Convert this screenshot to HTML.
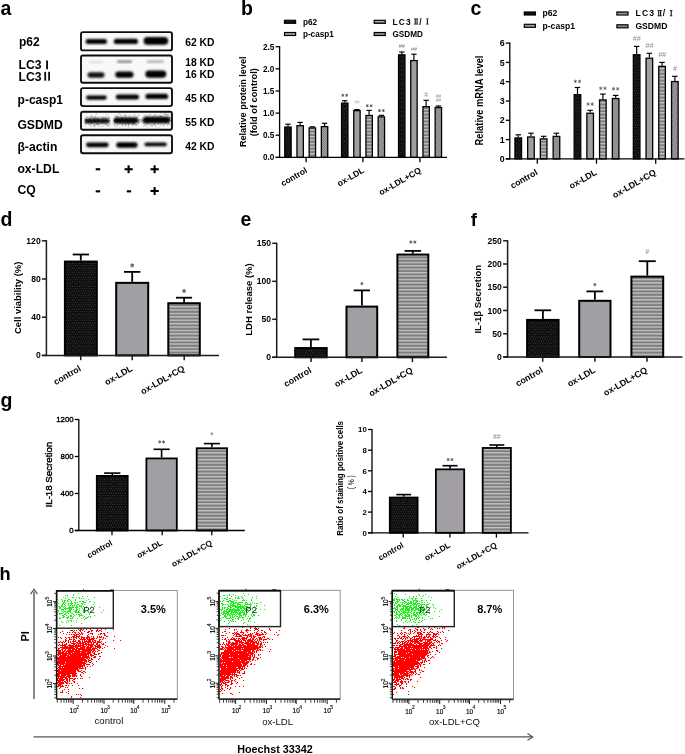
<!DOCTYPE html>
<html><head><meta charset="utf-8"><title>Figure</title>
<style>
html,body{margin:0;padding:0;background:#fff;overflow:hidden;width:685px;height:754px;}
svg{display:block;will-change:transform;}
text{font-family:"Liberation Sans",sans-serif;}
</style></head><body>
<svg width="685" height="754" viewBox="0 0 685 754" font-family="Liberation Sans, sans-serif">

<defs>
<pattern id="pdot" patternUnits="userSpaceOnUse" width="2.3" height="4.6">
  <rect width="2.3" height="4.6" fill="#0c0c0c"/>
  <rect x="0.6" y="0.6" width="0.8" height="0.8" fill="#666"/>
  <rect x="1.75" y="2.9" width="0.8" height="0.8" fill="#666"/>
</pattern>
<pattern id="pstripe" patternUnits="userSpaceOnUse" width="4" height="3.4">
  <rect width="4" height="3.4" fill="#7e7e7e"/>
  <rect y="0" width="4" height="1.3" fill="#c6c6c6"/>
</pattern>
<pattern id="pcheck" patternUnits="userSpaceOnUse" width="2.4" height="2.4">
  <rect width="2.4" height="2.4" fill="#b0b0b0"/>
  <rect width="1.2" height="1.2" fill="#707070"/>
  <rect x="1.2" y="1.2" width="1.2" height="1.2" fill="#707070"/>
</pattern>
<filter id="blur1" x="-20%" y="-50%" width="140%" height="200%"><feGaussianBlur stdDeviation="0.9"/></filter>
<filter id="blur2" x="-20%" y="-80%" width="140%" height="260%"><feGaussianBlur stdDeviation="1.4"/></filter>
<filter id="soft" x="-5%" y="-5%" width="110%" height="110%"><feGaussianBlur stdDeviation="0.35"/></filter>
<filter id="gblur" x="0" y="0" width="100%" height="100%" filterUnits="userSpaceOnUse"><feGaussianBlur stdDeviation="0.4"/></filter>
</defs>

<g filter="url(#gblur)">
<rect width="685" height="754" fill="#fff"/>
<text x="0.5" y="14.6" font-size="19.5" font-weight="bold">a</text><text x="241.0" y="15.0" font-size="19.5" font-weight="bold">b</text><text x="470.6" y="15.2" font-size="19.5" font-weight="bold">c</text><text x="0.5" y="225.6" font-size="19.5" font-weight="bold">d</text><text x="240.6" y="226.0" font-size="19.5" font-weight="bold">e</text><text x="470.8" y="226.0" font-size="18.6" font-weight="bold">f</text><text x="0.5" y="406.5" font-size="19.5" font-weight="bold">g</text><text x="-0.4" y="580.0" font-size="18.2" font-weight="bold">h</text><rect x="81.0" y="32.1" width="91.0" height="18.3" rx="2" ry="2" fill="#f8f8f8" stroke="#111" stroke-width="1.9"/><rect x="81.0" y="55.5" width="91.0" height="27.3" rx="2" ry="2" fill="#f8f8f8" stroke="#111" stroke-width="1.9"/><rect x="81.0" y="88.1" width="91.0" height="18.0" rx="2" ry="2" fill="#f8f8f8" stroke="#111" stroke-width="1.9"/><rect x="81.0" y="111.8" width="91.0" height="17.9" rx="2" ry="2" fill="#f8f8f8" stroke="#111" stroke-width="1.9"/><rect x="81.0" y="135.3" width="91.0" height="17.9" rx="2" ry="2" fill="#f8f8f8" stroke="#111" stroke-width="1.9"/><rect x="85.6" y="39.0" width="21.4" height="5.0" rx="2.5" ry="2.5" fill="#000" fill-opacity="1.0" filter="url(#blur1)"/><rect x="113.8" y="38.8" width="24.2" height="5.2" rx="2.6" ry="2.6" fill="#000" fill-opacity="1.0" filter="url(#blur1)"/><rect x="143.6" y="37.1" width="24.6" height="7.6" rx="3.8" ry="3.8" fill="#000" fill-opacity="1.0" filter="url(#blur1)"/><rect x="89.0" y="60.9" width="14.5" height="1.8" rx="0.9" ry="0.9" fill="#000" fill-opacity="0.12" filter="url(#blur1)"/><rect x="117.0" y="60.4" width="15.0" height="2.4" rx="1.2" ry="1.2" fill="#000" fill-opacity="0.5" filter="url(#blur1)"/><rect x="146.5" y="60.5" width="17.5" height="2.2" rx="1.1" ry="1.1" fill="#000" fill-opacity="0.32" filter="url(#blur1)"/><rect x="87.5" y="72.2" width="17.0" height="5.6" rx="2.8" ry="2.8" fill="#000" fill-opacity="0.92" filter="url(#blur1)"/><rect x="115.3" y="71.4" width="18.2" height="6.4" rx="3.2" ry="3.2" fill="#000" fill-opacity="1.0" filter="url(#blur1)"/><rect x="145.3" y="70.5" width="21.0" height="7.2" rx="3.6" ry="3.6" fill="#000" fill-opacity="1.0" filter="url(#blur1)"/><rect x="86.0" y="95.5" width="20.8" height="4.2" rx="2.1" ry="2.1" fill="#000" fill-opacity="1.0" filter="url(#blur1)"/><rect x="115.8" y="94.6" width="23.2" height="5.0" rx="2.5" ry="2.5" fill="#000" fill-opacity="1.0" filter="url(#blur1)"/><rect x="145.4" y="93.7" width="22.8" height="5.4" rx="2.7" ry="2.7" fill="#000" fill-opacity="1.0" filter="url(#blur1)"/><path d="M104.9 123.7h1M104.9 123.6h1M97.5 124.7h1M91.7 123.3h1M85.9 120.1h1M94.2 120.8h1M94.8 122.4h1M85.6 120.1h1M85.7 122.5h1M109.8 124.2h1M101.0 118.7h1M90.4 116.0h1M95.5 124.4h1M109.1 121.0h1M107.2 123.0h1M105.9 117.3h1M94.4 125.9h1M97.0 123.1h1M101.6 120.6h1M86.0 120.0h1M98.6 121.3h1M91.4 120.5h1M106.8 120.2h1M86.1 117.9h1M101.7 124.6h1M106.5 120.9h1M90.3 121.2h1M107.2 121.3h1M106.6 114.4h1M85.0 122.5h1M102.4 120.1h1M84.5 120.2h1M97.2 121.2h1M95.5 118.3h1M89.6 123.4h1M92.7 119.0h1M104.9 118.5h1M92.5 118.6h1M88.3 121.4h1M102.2 123.1h1M95.8 119.3h1M104.7 116.8h1M90.5 124.0h1M92.6 118.0h1M104.7 124.4h1M97.3 120.8h1M97.3 119.0h1M90.5 119.2h1M84.9 122.3h1M108.1 123.5h1M86.7 120.4h1M105.9 123.7h1M93.8 126.9h1M108.6 120.4h1M94.6 117.8h1M108.2 118.0h1M98.6 117.1h1M90.6 119.2h1M103.3 119.0h1M101.6 117.3h1M101.8 122.5h1M96.2 113.7h1M90.1 117.3h1M100.7 126.7h1M87.2 123.9h1M102.0 122.5h1M100.6 122.3h1M94.0 126.0h1M104.7 122.5h1M89.4 121.2h1M94.4 117.5h1M104.7 120.8h1M94.1 118.9h1M102.5 119.0h1M100.0 119.0h1M108.3 120.9h1M109.6 120.1h1M102.8 123.4h1M105.0 117.3h1M88.4 120.5h1M102.5 126.2h1M105.9 121.1h1M94.7 124.4h1M98.5 124.2h1M96.6 124.7h1M108.8 123.1h1M92.5 117.1h1M94.7 120.2h1M84.5 119.9h1M95.1 116.6h1M100.5 119.7h1M108.2 117.5h1M107.9 116.3h1M92.8 121.6h1M109.5 120.9h1M89.2 119.1h1M105.3 118.3h1M88.5 119.5h1M94.7 119.9h1M86.4 119.9h1M106.2 120.9h1M105.5 119.8h1M88.0 122.1h1M97.8 122.5h1M91.0 122.0h1M96.9 119.1h1M98.5 119.3h1M87.2 122.2h1M106.4 120.4h1M91.6 120.9h1M95.8 114.0h1M85.9 113.4h1M84.6 121.9h1M89.4 121.9h1M93.1 124.9h1M108.0 123.0h1M107.0 121.6h1M96.7 121.0h1M96.0 117.0h1M101.4 123.5h1M106.2 119.3h1M93.0 122.4h1M104.6 121.6h1M94.6 121.8h1M99.5 123.5h1M103.2 119.6h1M97.2 119.9h1M102.0 118.6h1M102.1 119.9h1M84.6 125.7h1M85.5 120.0h1M88.3 124.3h1M89.9 123.3h1M89.6 123.1h1M85.7 123.3h1M90.0 118.1h1M99.7 122.1h1M106.9 125.5h1M93.3 119.0h1M93.8 120.9h1M95.0 119.1h1M101.7 121.9h1M104.4 118.0h1M108.3 125.5h1M94.0 119.9h1M102.4 116.7h1M93.1 126.0h1M105.3 123.7h1M90.3 122.5h1M106.5 122.5h1M97.3 120.0h1M102.9 120.4h1M98.0 123.0h1M92.5 123.6h1M97.0 123.6h1M85.8 121.6h1M85.6 119.7h1M97.9 120.5h1M96.6 124.1h1M105.6 125.0h1M85.0 120.0h1M98.6 119.7h1M96.9 124.5h1M99.6 123.0h1M103.0 123.0h1M97.8 117.3h1M98.7 119.9h1M96.9 119.6h1M100.1 121.6h1M90.8 116.3h1M98.5 124.6h1M101.5 121.8h1M89.3 122.2h1M109.6 117.7h1M103.4 120.9h1M108.7 124.8h1M91.9 116.6h1M95.7 121.9h1M91.1 123.0h1M85.7 119.1h1M84.9 123.3h1M90.7 120.1h1M106.3 124.5h1M88.6 122.5h1M101.9 121.6h1M90.8 126.7h1M86.2 123.3h1M89.4 124.7h1M101.7 117.7h1M97.2 119.2h1M98.4 123.4h1M96.0 123.5h1M91.4 120.8h1M96.9 123.2h1M107.8 118.0h1M89.6 121.6h1M103.0 117.8h1M90.9 122.0h1M89.4 119.6h1M92.7 119.2h1M86.8 121.2h1M108.2 126.1h1M93.7 118.2h1M88.9 119.3h1M84.5 124.0h1M86.0 119.8h1M89.9 126.0h1M95.1 121.6h1M99.7 121.3h1M109.3 122.0h1M107.0 125.9h1M90.6 122.8h1M100.0 122.5h1M107.8 121.7h1M87.1 116.6h1M106.1 118.5h1M94.5 125.2h1M104.3 123.3h1M92.7 122.4h1M100.3 122.8h1M97.3 119.5h1M87.1 122.0h1M103.7 118.5h1M105.3 122.1h1M96.7 119.0h1M94.3 120.4h1M108.5 122.3h1M94.0 120.1h1M106.8 122.8h1M95.1 122.3h1M93.9 122.0h1M93.6 124.7h1M86.0 116.9h1M91.5 116.5h1M90.3 122.7h1M86.1 123.6h1M98.2 126.7h1M95.7 123.1h1M85.1 123.3h1M88.4 118.5h1M107.7 123.1h1M87.9 122.9h1M93.9 118.0h1M108.6 118.5h1M87.4 120.7h1M94.9 121.8h1M104.8 112.7h1M85.0 121.2h1M86.2 121.6h1M108.0 120.5h1M101.8 121.8h1M91.1 122.3h1M96.7 118.2h1M90.8 122.2h1M107.1 120.3h1M108.5 118.3h1M86.3 121.6h1M97.8 125.2h1M89.2 116.9h1M94.7 116.4h1" stroke="#000" stroke-opacity="0.22" stroke-width="1" fill="none"/><path d="M122.5 117.1h1M116.1 112.5h1M135.7 117.8h1M117.3 116.4h1M131.7 119.1h1M124.1 117.3h1M125.9 118.3h1M130.4 122.1h1M113.9 121.1h1M125.7 120.8h1M125.0 125.8h1M124.2 119.5h1M113.5 119.7h1M113.8 124.6h1M125.7 117.6h1M124.9 116.0h1M121.9 124.7h1M116.4 121.9h1M122.6 122.7h1M130.3 122.8h1M134.0 123.6h1M132.6 119.5h1M113.5 120.7h1M122.0 117.6h1M125.7 121.3h1M133.9 121.6h1M127.6 119.6h1M133.5 122.9h1M115.3 117.5h1M138.0 123.4h1M127.4 123.7h1M128.6 124.1h1M120.0 118.6h1M136.1 124.5h1M138.5 122.9h1M122.1 120.6h1M125.7 120.0h1M115.1 121.7h1M132.6 123.8h1M129.6 123.6h1M119.3 127.8h1M134.2 120.0h1M127.2 122.9h1M136.7 119.8h1M134.0 123.4h1M116.0 121.4h1M119.4 119.3h1M134.7 117.1h1M114.3 118.8h1M116.8 121.8h1M136.5 125.4h1M133.8 123.4h1M119.9 117.5h1M122.0 119.6h1M114.5 121.1h1M116.7 120.6h1M113.8 121.2h1M128.2 123.2h1M128.8 121.5h1M117.1 118.8h1M134.3 115.1h1M125.7 119.8h1M128.5 115.8h1M130.1 120.3h1M118.6 121.7h1M133.6 116.7h1M123.8 120.3h1M126.0 119.6h1M116.7 126.3h1M119.9 121.9h1M124.9 115.0h1M131.6 121.8h1M124.9 121.7h1M127.5 119.9h1M132.4 119.4h1M123.6 122.2h1M113.9 122.4h1M127.5 121.7h1M137.1 117.5h1M114.4 119.7h1M125.1 115.8h1M129.9 115.9h1M125.7 118.7h1M116.1 117.2h1M126.3 119.1h1M115.5 127.7h1M115.3 121.8h1M122.0 117.7h1M117.9 113.9h1M126.1 117.8h1M137.1 116.0h1M118.9 113.7h1M138.2 122.4h1M122.2 118.8h1M134.4 121.5h1M126.6 129.4h1M133.0 121.0h1M135.1 120.6h1M134.5 121.3h1M117.2 119.4h1M135.8 117.8h1M116.5 119.6h1M131.9 123.6h1M114.6 119.4h1M121.0 116.2h1M116.8 116.5h1M129.0 117.2h1M121.4 120.3h1M127.7 121.7h1M119.0 121.7h1M123.5 123.8h1M136.0 119.7h1M128.4 122.8h1M125.7 121.3h1M131.6 122.5h1M138.3 114.9h1M121.8 124.1h1M116.2 115.8h1M119.5 117.1h1M117.4 122.8h1M123.6 119.3h1M132.1 125.7h1M132.7 121.0h1M116.2 117.5h1M117.6 121.0h1M122.5 119.3h1M134.6 125.1h1M125.6 125.4h1M127.0 122.7h1M120.8 119.3h1M127.2 120.8h1M128.6 123.7h1M121.9 118.2h1M128.5 118.2h1M132.4 123.1h1M122.4 122.8h1M124.9 119.9h1M116.8 119.8h1M120.0 114.8h1M114.5 124.1h1M114.9 120.2h1M115.6 116.3h1M135.9 117.2h1M131.8 117.9h1M128.1 125.6h1M133.5 122.6h1M117.9 116.6h1M122.3 126.1h1M128.0 124.6h1M134.9 117.4h1M127.0 112.7h1M116.6 123.5h1M114.6 118.8h1M114.4 120.2h1M132.4 119.0h1M135.9 124.3h1M117.1 125.0h1M133.7 123.0h1M114.5 120.2h1M134.4 121.4h1M131.1 122.4h1M125.3 115.9h1M125.4 124.3h1M119.0 119.7h1M136.8 121.4h1M120.3 121.0h1M120.1 123.3h1M132.8 123.8h1M127.9 127.2h1M126.4 119.6h1M127.8 117.9h1M116.3 121.0h1M116.2 118.7h1M138.0 123.2h1M131.1 118.3h1M128.9 121.0h1M127.5 123.4h1M119.4 123.7h1M117.4 121.3h1M128.1 124.9h1M113.8 124.5h1M114.2 115.6h1M122.1 121.7h1M128.1 121.2h1M136.7 119.8h1M124.8 118.8h1M121.1 120.8h1M137.4 121.8h1M120.9 121.5h1M125.5 124.8h1M125.4 123.7h1M114.6 119.0h1M116.1 118.5h1M113.7 123.2h1M133.4 118.6h1M123.0 121.2h1M130.5 122.1h1M124.7 123.8h1M125.9 122.2h1M135.1 125.0h1M123.4 119.4h1M116.0 122.7h1M130.2 118.8h1M114.2 121.3h1M126.4 121.1h1M122.7 118.0h1M124.2 113.0h1M131.7 123.6h1M134.5 121.8h1M137.6 121.1h1M133.0 118.6h1M134.0 119.7h1M136.9 122.1h1M123.1 120.8h1M122.1 124.2h1M114.2 121.1h1M124.8 118.3h1M114.9 122.5h1M118.9 118.8h1M123.8 121.4h1M123.8 115.3h1M132.6 119.7h1M125.1 122.4h1M131.2 118.8h1M114.1 120.6h1M131.5 122.4h1M132.5 120.9h1M113.8 126.0h1M122.3 119.9h1M129.4 120.2h1M116.9 120.2h1M133.7 114.8h1M137.8 116.1h1M133.1 122.3h1M129.0 119.7h1M133.1 124.8h1M137.0 120.4h1M137.4 120.2h1M121.8 123.7h1M129.7 121.5h1M115.9 125.4h1M136.4 117.5h1M114.9 122.0h1M120.7 122.7h1M127.8 122.3h1M119.1 124.1h1M124.0 123.7h1M122.3 120.8h1M130.2 119.1h1M126.4 123.6h1M134.2 120.9h1M129.0 123.6h1M131.5 124.8h1M113.9 121.4h1M130.4 118.1h1M136.3 120.0h1M116.9 123.1h1M133.1 120.1h1M133.1 124.3h1" stroke="#000" stroke-opacity="0.22" stroke-width="1" fill="none"/><path d="M160.9 115.9h1M146.3 120.2h1M160.7 123.5h1M160.0 116.5h1M166.9 116.0h1M150.8 120.9h1M146.4 123.6h1M157.7 124.1h1M166.5 114.9h1M145.9 116.6h1M148.3 120.0h1M145.4 118.7h1M170.1 121.3h1M163.8 120.7h1M145.1 125.6h1M166.2 120.1h1M154.7 120.8h1M143.2 120.5h1M144.2 123.6h1M149.5 116.9h1M143.6 121.5h1M147.2 118.0h1M144.3 116.0h1M146.5 123.9h1M145.3 121.9h1M154.4 124.5h1M165.6 121.1h1M164.4 122.3h1M157.3 120.7h1M144.2 122.0h1M169.0 119.1h1M144.3 125.5h1M142.9 117.6h1M163.5 125.5h1M160.0 119.7h1M163.7 123.0h1M150.2 120.8h1M167.5 121.7h1M166.9 124.9h1M143.7 120.8h1M169.3 117.5h1M164.0 121.1h1M166.4 122.3h1M155.9 112.9h1M164.8 123.3h1M168.0 123.7h1M167.6 115.0h1M150.3 119.9h1M147.3 122.9h1M160.7 116.8h1M155.0 119.1h1M166.6 119.3h1M155.1 122.1h1M146.9 123.8h1M153.0 120.3h1M169.4 120.6h1M162.1 123.2h1M147.2 122.0h1M147.8 120.0h1M153.3 124.4h1M168.8 116.0h1M157.0 120.8h1M150.1 119.1h1M148.4 118.8h1M149.4 121.0h1M157.5 120.5h1M148.5 127.9h1M145.5 122.3h1M165.5 121.4h1M160.8 125.4h1M159.2 123.5h1M149.7 114.6h1M154.3 120.7h1M167.1 122.6h1M149.8 118.5h1M154.6 121.3h1M145.2 118.9h1M153.4 121.5h1M144.9 115.3h1M164.1 114.3h1M170.5 118.6h1M144.6 121.0h1M152.6 124.4h1M169.2 119.5h1M145.9 118.0h1M165.2 123.1h1M145.6 120.4h1M155.4 125.9h1M164.4 120.0h1M164.6 114.3h1M165.0 117.9h1M151.6 117.4h1M157.6 116.0h1M146.1 117.9h1M170.3 118.2h1M163.0 119.4h1M153.5 118.6h1M156.3 121.5h1M158.8 121.6h1M152.5 120.8h1M151.8 120.9h1M167.9 114.5h1M147.0 115.1h1M169.1 117.6h1M157.9 121.1h1M155.4 115.8h1M155.7 119.0h1M142.9 121.0h1M151.6 126.4h1M155.4 121.1h1M143.8 118.6h1M142.8 123.6h1M142.7 120.9h1M159.8 119.3h1M142.7 123.7h1M169.2 117.4h1M160.0 120.8h1M162.6 120.5h1M143.7 123.0h1M156.7 116.7h1M148.3 116.2h1M168.3 119.0h1M152.5 119.4h1M148.1 120.3h1M154.5 119.0h1M151.5 121.5h1M146.5 122.3h1M164.3 120.9h1M148.6 116.9h1M167.9 123.8h1M163.1 115.4h1M166.6 119.5h1M162.9 122.9h1M167.3 118.3h1M169.3 124.2h1M142.8 126.1h1M149.7 125.1h1M167.8 121.5h1M157.8 123.2h1M168.3 118.6h1M155.4 121.4h1M152.1 121.6h1M165.8 120.5h1M149.9 120.7h1M153.9 119.5h1M165.6 114.1h1M153.4 121.4h1M160.9 121.1h1M146.7 126.5h1M148.4 122.4h1M169.9 120.4h1M147.9 122.9h1M147.1 122.1h1M143.0 120.1h1M144.7 119.0h1M153.7 115.6h1M159.7 120.6h1M167.2 125.2h1M170.2 114.4h1M152.4 117.2h1M156.4 122.5h1M153.8 120.8h1M155.5 121.5h1M166.4 114.4h1M154.1 118.3h1M163.3 121.7h1M166.5 122.0h1M153.9 121.1h1M152.0 117.4h1M145.0 121.9h1M161.4 116.5h1M164.9 117.2h1M160.3 116.6h1M150.2 124.7h1M162.2 118.9h1M148.8 120.3h1M165.0 113.3h1M168.9 123.6h1M151.6 121.6h1M159.4 115.0h1M155.2 115.2h1M151.8 125.3h1M167.5 117.2h1M151.3 125.9h1M164.7 118.7h1M163.6 112.4h1M145.6 123.6h1M165.7 121.7h1M153.0 122.3h1M152.8 118.6h1M155.0 119.5h1M153.7 123.1h1M154.3 117.6h1M163.6 114.0h1M151.2 123.0h1M146.9 118.2h1M163.7 124.1h1M154.5 118.7h1M157.6 118.8h1M147.3 119.4h1M161.4 112.8h1M159.7 123.8h1M160.3 118.2h1M168.6 119.5h1M144.6 124.7h1M157.1 120.5h1M143.8 122.9h1M152.8 121.2h1M160.5 122.6h1M165.3 121.0h1M150.3 123.8h1M167.6 119.5h1M168.3 121.6h1M168.3 117.9h1M154.8 123.9h1M160.0 113.3h1M155.8 120.7h1M144.4 121.3h1M150.2 121.2h1M166.0 120.1h1M147.6 124.3h1M155.0 126.8h1M161.4 118.3h1M154.0 114.2h1M158.8 116.8h1M158.3 117.6h1M146.1 119.7h1M143.6 120.0h1M157.2 123.5h1M160.3 118.8h1M158.1 120.0h1M169.8 120.5h1M146.8 117.4h1M144.9 119.2h1M165.9 128.8h1M167.5 119.9h1M169.6 117.2h1M167.5 113.4h1M153.6 123.4h1M158.4 119.2h1M160.3 118.2h1M158.5 127.8h1M154.3 124.6h1M165.7 114.8h1M164.1 119.1h1M143.4 123.3h1M168.1 122.8h1M154.3 116.7h1M163.0 125.7h1M169.7 125.9h1M160.7 116.7h1M149.9 114.6h1M159.5 115.8h1M154.6 122.2h1M147.6 123.5h1M146.8 120.7h1M164.0 118.3h1M154.5 119.9h1M154.8 121.9h1M152.5 116.3h1" stroke="#000" stroke-opacity="0.22" stroke-width="1" fill="none"/><rect x="84.8" y="118.4" width="24.6" height="4.8" rx="2.4" ry="2.4" fill="#000" fill-opacity="0.95" filter="url(#blur1)"/><rect x="113.8" y="117.6" width="24.2" height="5.8" rx="2.9" ry="2.9" fill="#000" fill-opacity="1.0" filter="url(#blur1)"/><rect x="143.0" y="116.8" width="27.2" height="6.4" rx="3.2" ry="3.2" fill="#000" fill-opacity="1.0" filter="url(#blur1)"/><rect x="136.0" y="119.6" width="10.0" height="2.0" rx="1.0" ry="1.0" fill="#000" fill-opacity="0.5" filter="url(#blur1)"/><rect x="86.0" y="142.4" width="22.7" height="4.8" rx="2.4" ry="2.4" fill="#000" fill-opacity="1.0" filter="url(#blur1)"/><rect x="116.2" y="142.3" width="21.4" height="5.4" rx="2.7" ry="2.7" fill="#000" fill-opacity="1.0" filter="url(#blur1)"/><rect x="144.4" y="142.4" width="22.4" height="3.8" rx="1.9" ry="1.9" fill="#000" fill-opacity="1.0" filter="url(#blur1)"/><text x="19.0" y="45.9" font-size="12.0" font-weight="bold">p62</text><text x="18.6" y="69.3" font-size="12.2" font-weight="bold">LC3</text><rect x="46.10" y="60.50" width="1.90" height="8.80" fill="#111"/><text x="18.6" y="80.6" font-size="12.2" font-weight="bold">LC3</text><rect x="44.30" y="71.80" width="1.80" height="8.90" fill="#111"/><rect x="48.20" y="71.80" width="1.80" height="8.90" fill="#111"/><text x="17.6" y="103.9" font-size="12.0" font-weight="bold">p-casp1</text><text x="17.4" y="129.4" font-size="12.2" font-weight="bold">GSDMD</text><text x="17.4" y="151.0" font-size="12.2" font-weight="bold">β-actin</text><text x="17.4" y="173.3" font-size="12.2" font-weight="bold">ox-LDL</text><text x="17.4" y="194.4" font-size="12.2" font-weight="bold">CQ</text><rect x="95.70" y="168.20" width="4.50" height="2.10" fill="#000"/><rect x="124.50" y="168.20" width="8.20" height="2.10" fill="#000"/><rect x="127.55" y="165.30" width="2.10" height="7.90" fill="#000"/><rect x="150.50" y="168.20" width="8.20" height="2.10" fill="#000"/><rect x="153.55" y="165.30" width="2.10" height="7.90" fill="#000"/><rect x="95.70" y="190.30" width="4.50" height="2.10" fill="#000"/><rect x="126.80" y="190.30" width="4.30" height="2.10" fill="#000"/><rect x="150.50" y="189.90" width="8.20" height="2.10" fill="#000"/><rect x="153.55" y="187.00" width="2.10" height="7.90" fill="#000"/><text x="185.3" y="45.7" font-size="10.3" font-weight="bold">62 KD</text><text x="185.3" y="65.6" font-size="10.3" font-weight="bold">18 KD</text><text x="185.3" y="78.3" font-size="10.3" font-weight="bold">16 KD</text><text x="185.3" y="102.3" font-size="10.3" font-weight="bold">45 KD</text><text x="185.3" y="125.7" font-size="10.3" font-weight="bold">55 KD</text><text x="185.3" y="149.5" font-size="10.3" font-weight="bold">42 KD</text><line x1="275.6" y1="157.4" x2="279.6" y2="157.4" stroke="#000" stroke-width="1.3"/><text x="274.4" y="160.3" font-size="8.2" font-weight="bold" text-anchor="end">0.0</text><line x1="275.6" y1="135.2" x2="279.6" y2="135.2" stroke="#000" stroke-width="1.3"/><text x="274.4" y="138.1" font-size="8.2" font-weight="bold" text-anchor="end">0.5</text><line x1="275.6" y1="113.1" x2="279.6" y2="113.1" stroke="#000" stroke-width="1.3"/><text x="274.4" y="116.0" font-size="8.2" font-weight="bold" text-anchor="end">1.0</text><line x1="275.6" y1="91.0" x2="279.6" y2="91.0" stroke="#000" stroke-width="1.3"/><text x="274.4" y="93.8" font-size="8.2" font-weight="bold" text-anchor="end">1.5</text><line x1="275.6" y1="68.8" x2="279.6" y2="68.8" stroke="#000" stroke-width="1.3"/><text x="274.4" y="71.7" font-size="8.2" font-weight="bold" text-anchor="end">2.0</text><line x1="275.6" y1="46.7" x2="279.6" y2="46.7" stroke="#000" stroke-width="1.3"/><text x="274.4" y="49.5" font-size="8.2" font-weight="bold" text-anchor="end">2.5</text><line x1="288.0" y1="124.2" x2="288.0" y2="126.4" stroke="#000" stroke-width="1.1700000000000002"/><line x1="285.3" y1="124.2" x2="290.6" y2="124.2" stroke="#000" stroke-width="1.1700000000000002"/><rect x="284.75" y="127.04" width="6.40" height="30.36" fill="url(#pdot)" stroke="#000" stroke-width="1.3"/><line x1="300.2" y1="122.4" x2="300.2" y2="125.1" stroke="#000" stroke-width="1.1700000000000002"/><line x1="297.5" y1="122.4" x2="302.8" y2="122.4" stroke="#000" stroke-width="1.1700000000000002"/><rect x="296.95" y="125.71" width="6.40" height="31.69" fill="#a19fa4" stroke="#000" stroke-width="1.3"/><line x1="312.4" y1="126.8" x2="312.4" y2="127.3" stroke="#000" stroke-width="1.1700000000000002"/><line x1="309.7" y1="126.8" x2="315.0" y2="126.8" stroke="#000" stroke-width="1.1700000000000002"/><rect x="309.15" y="127.93" width="6.40" height="29.47" fill="url(#pstripe)" stroke="#000" stroke-width="1.3"/><line x1="324.6" y1="123.3" x2="324.6" y2="125.9" stroke="#000" stroke-width="1.1700000000000002"/><line x1="321.9" y1="123.3" x2="327.2" y2="123.3" stroke="#000" stroke-width="1.1700000000000002"/><rect x="321.35" y="126.60" width="6.40" height="30.80" fill="url(#pcheck)" stroke="#000" stroke-width="1.3"/><line x1="344.8" y1="100.7" x2="344.8" y2="102.5" stroke="#000" stroke-width="1.1700000000000002"/><line x1="342.1" y1="100.7" x2="347.4" y2="100.7" stroke="#000" stroke-width="1.1700000000000002"/><rect x="341.55" y="103.12" width="6.40" height="54.28" fill="url(#pdot)" stroke="#000" stroke-width="1.3"/><path d="M342.85 93.80L342.85 96.80M344.15 94.55L341.55 96.05M344.15 96.05L341.55 94.55" stroke="#555" stroke-width="0.9" fill="none"/><path d="M346.65 93.80L346.65 96.80M347.95 94.55L345.35 96.05M347.95 96.05L345.35 94.55" stroke="#555" stroke-width="0.9" fill="none"/><line x1="356.9" y1="109.6" x2="356.9" y2="110.0" stroke="#000" stroke-width="1.1700000000000002"/><line x1="354.3" y1="109.6" x2="359.6" y2="109.6" stroke="#000" stroke-width="1.1700000000000002"/><rect x="353.75" y="110.65" width="6.40" height="46.75" fill="#a19fa4" stroke="#000" stroke-width="1.3"/><text x="356.9" y="104.0" font-size="4.5" text-anchor="middle" fill="#bbb">##</text><line x1="369.1" y1="110.4" x2="369.1" y2="114.9" stroke="#000" stroke-width="1.1700000000000002"/><line x1="366.5" y1="110.4" x2="371.8" y2="110.4" stroke="#000" stroke-width="1.1700000000000002"/><rect x="365.95" y="115.52" width="6.40" height="41.88" fill="url(#pstripe)" stroke="#000" stroke-width="1.3"/><path d="M367.25 104.30L367.25 107.30M368.55 105.05L365.95 106.55M368.55 106.55L365.95 105.05" stroke="#555" stroke-width="0.9" fill="none"/><path d="M371.05 104.30L371.05 107.30M372.35 105.05L369.75 106.55M372.35 106.55L369.75 105.05" stroke="#555" stroke-width="0.9" fill="none"/><line x1="381.4" y1="115.3" x2="381.4" y2="116.2" stroke="#000" stroke-width="1.1700000000000002"/><line x1="378.7" y1="115.3" x2="384.0" y2="115.3" stroke="#000" stroke-width="1.1700000000000002"/><rect x="378.15" y="116.85" width="6.40" height="40.55" fill="url(#pcheck)" stroke="#000" stroke-width="1.3"/><path d="M379.45 109.10L379.45 112.10M380.75 109.85L378.15 111.35M380.75 111.35L378.15 109.85" stroke="#555" stroke-width="0.9" fill="none"/><path d="M383.25 109.10L383.25 112.10M384.55 109.85L381.95 111.35M384.55 111.35L381.95 109.85" stroke="#555" stroke-width="0.9" fill="none"/><line x1="401.8" y1="52.0" x2="401.8" y2="54.2" stroke="#000" stroke-width="1.1700000000000002"/><line x1="399.1" y1="52.0" x2="404.4" y2="52.0" stroke="#000" stroke-width="1.1700000000000002"/><rect x="398.55" y="54.83" width="6.40" height="102.57" fill="url(#pdot)" stroke="#000" stroke-width="1.3"/><text x="401.8" y="48.4" font-size="5.4" text-anchor="middle" fill="#777">##</text><line x1="413.9" y1="54.2" x2="413.9" y2="59.9" stroke="#000" stroke-width="1.1700000000000002"/><line x1="411.3" y1="54.2" x2="416.6" y2="54.2" stroke="#000" stroke-width="1.1700000000000002"/><rect x="410.75" y="60.59" width="6.40" height="96.81" fill="#a19fa4" stroke="#000" stroke-width="1.3"/><text x="413.9" y="50.6" font-size="5.4" text-anchor="middle" fill="#888">##</text><line x1="426.1" y1="100.3" x2="426.1" y2="106.0" stroke="#000" stroke-width="1.1700000000000002"/><line x1="423.5" y1="100.3" x2="428.8" y2="100.3" stroke="#000" stroke-width="1.1700000000000002"/><rect x="422.95" y="106.66" width="6.40" height="50.74" fill="url(#pstripe)" stroke="#000" stroke-width="1.3"/><text x="426.1" y="96.6" font-size="7" text-anchor="middle" fill="#999">#</text><line x1="438.4" y1="106.0" x2="438.4" y2="106.9" stroke="#000" stroke-width="1.1700000000000002"/><line x1="435.7" y1="106.0" x2="441.0" y2="106.0" stroke="#000" stroke-width="1.1700000000000002"/><rect x="435.15" y="107.55" width="6.40" height="49.85" fill="url(#pcheck)" stroke="#000" stroke-width="1.3"/><text x="438.4" y="98.2" font-size="4.6" text-anchor="middle" fill="#999">##</text><line x1="279.6" y1="46.1" x2="279.6" y2="158.1" stroke="#000" stroke-width="1.3"/><line x1="275.6" y1="157.4" x2="447.0" y2="157.4" stroke="#000" stroke-width="1.3"/><line x1="306.1" y1="157.4" x2="306.1" y2="162.2" stroke="#000" stroke-width="1.3"/><text transform="translate(307.9,172.0) rotate(-30)" font-size="8.5" font-weight="bold" text-anchor="end">control</text><line x1="362.9" y1="157.4" x2="362.9" y2="162.2" stroke="#000" stroke-width="1.3"/><text transform="translate(364.7,172.0) rotate(-30)" font-size="8.5" font-weight="bold" text-anchor="end">ox-LDL</text><line x1="419.9" y1="157.4" x2="419.9" y2="162.2" stroke="#000" stroke-width="1.3"/><text transform="translate(421.7,172.0) rotate(-30)" font-size="8.5" font-weight="bold" text-anchor="end">ox-LDL+CQ</text><text x="438.6" y="102.2" font-size="4.6" text-anchor="middle" fill="#999">##</text><text transform="translate(246.1,101.8) rotate(-90)" font-size="9.8" font-weight="bold" text-anchor="middle" textLength="90.6" lengthAdjust="spacingAndGlyphs">Relative protein level</text><text transform="translate(256.7,102.2) rotate(-90)" font-size="9.6" font-weight="bold" text-anchor="middle" textLength="68.2" lengthAdjust="spacingAndGlyphs">(fold of control)</text><rect x="284.50" y="20.30" width="11.10" height="3.00" fill="url(#pdot)" stroke="#000" stroke-width="1.2"/><text x="302.9" y="24.5" font-size="8.2" font-weight="bold">p62</text><rect x="284.50" y="32.50" width="11.10" height="3.00" fill="#a19fa4" stroke="#000" stroke-width="1.2"/><text x="302.9" y="36.7" font-size="8.2" font-weight="bold">p-casp1</text><rect x="374.20" y="20.30" width="11.10" height="3.00" fill="url(#pstripe)" stroke="#000" stroke-width="1.2"/><text x="392.6" y="24.5" font-size="8.4" font-weight="bold" letter-spacing="1.12">LC3</text><path d="M413.99 18.44h4.30v0.78h-4.30zM413.99 23.72h4.30v0.78h-4.30zM414.67 18.44h1.07v6.06h-1.07zM416.53 18.44h1.07v6.06h-1.07z" fill="#111"/><text x="419.17" y="24.5" font-size="8.4" font-weight="bold">/</text><path d="M426.10 18.44h2.54v0.78h-2.54zM426.10 23.72h2.54v0.78h-2.54zM426.83 18.44h1.07v6.06h-1.07z" fill="#111"/><rect x="374.20" y="32.50" width="11.10" height="3.00" fill="url(#pcheck)" stroke="#000" stroke-width="1.2"/><text x="392.4" y="36.7" font-size="8.2" font-weight="bold">GSDMD</text><line x1="505.8" y1="158.9" x2="509.8" y2="158.9" stroke="#000" stroke-width="1.3"/><text x="504.6" y="162.0" font-size="8.8" font-weight="bold" text-anchor="end">0</text><line x1="505.8" y1="139.6" x2="509.8" y2="139.6" stroke="#000" stroke-width="1.3"/><text x="504.6" y="142.7" font-size="8.8" font-weight="bold" text-anchor="end">1</text><line x1="505.8" y1="120.3" x2="509.8" y2="120.3" stroke="#000" stroke-width="1.3"/><text x="504.6" y="123.4" font-size="8.8" font-weight="bold" text-anchor="end">2</text><line x1="505.8" y1="101.0" x2="509.8" y2="101.0" stroke="#000" stroke-width="1.3"/><text x="504.6" y="104.1" font-size="8.8" font-weight="bold" text-anchor="end">3</text><line x1="505.8" y1="81.7" x2="509.8" y2="81.7" stroke="#000" stroke-width="1.3"/><text x="504.6" y="84.8" font-size="8.8" font-weight="bold" text-anchor="end">4</text><line x1="505.8" y1="62.4" x2="509.8" y2="62.4" stroke="#000" stroke-width="1.3"/><text x="504.6" y="65.5" font-size="8.8" font-weight="bold" text-anchor="end">5</text><line x1="505.8" y1="43.1" x2="509.8" y2="43.1" stroke="#000" stroke-width="1.3"/><text x="504.6" y="46.2" font-size="8.8" font-weight="bold" text-anchor="end">6</text><line x1="518.2" y1="134.8" x2="518.2" y2="137.3" stroke="#000" stroke-width="1.1700000000000002"/><line x1="515.5" y1="134.8" x2="521.0" y2="134.8" stroke="#000" stroke-width="1.1700000000000002"/><rect x="514.95" y="137.93" width="6.60" height="20.97" fill="url(#pdot)" stroke="#000" stroke-width="1.3"/><line x1="531.0" y1="133.2" x2="531.0" y2="136.3" stroke="#000" stroke-width="1.1700000000000002"/><line x1="528.2" y1="133.2" x2="533.7" y2="133.2" stroke="#000" stroke-width="1.1700000000000002"/><rect x="527.65" y="136.97" width="6.60" height="21.93" fill="#a19fa4" stroke="#000" stroke-width="1.3"/><line x1="543.6" y1="136.3" x2="543.6" y2="138.2" stroke="#000" stroke-width="1.1700000000000002"/><line x1="540.9" y1="136.3" x2="546.4" y2="136.3" stroke="#000" stroke-width="1.1700000000000002"/><rect x="540.35" y="138.90" width="6.60" height="20.00" fill="url(#pstripe)" stroke="#000" stroke-width="1.3"/><line x1="556.5" y1="133.2" x2="556.5" y2="135.7" stroke="#000" stroke-width="1.1700000000000002"/><line x1="553.7" y1="133.2" x2="559.2" y2="133.2" stroke="#000" stroke-width="1.1700000000000002"/><rect x="553.15" y="136.39" width="6.60" height="22.51" fill="url(#pcheck)" stroke="#000" stroke-width="1.3"/><line x1="577.5" y1="87.5" x2="577.5" y2="94.1" stroke="#000" stroke-width="1.1700000000000002"/><line x1="574.7" y1="87.5" x2="580.2" y2="87.5" stroke="#000" stroke-width="1.1700000000000002"/><rect x="574.15" y="94.70" width="6.60" height="64.20" fill="url(#pdot)" stroke="#000" stroke-width="1.3"/><path d="M575.35 79.70L575.35 83.10M576.82 80.55L573.88 82.25M576.82 82.25L573.88 80.55" stroke="#666" stroke-width="0.9" fill="none"/><path d="M579.55 79.70L579.55 83.10M581.02 80.55L578.08 82.25M581.02 82.25L578.08 80.55" stroke="#666" stroke-width="0.9" fill="none"/><line x1="590.2" y1="110.3" x2="590.2" y2="112.6" stroke="#000" stroke-width="1.1700000000000002"/><line x1="587.4" y1="110.3" x2="592.9" y2="110.3" stroke="#000" stroke-width="1.1700000000000002"/><rect x="586.85" y="113.23" width="6.60" height="45.67" fill="#a19fa4" stroke="#000" stroke-width="1.3"/><path d="M588.05 102.40L588.05 105.80M589.52 103.25L586.58 104.95M589.52 104.95L586.58 103.25" stroke="#666" stroke-width="0.9" fill="none"/><path d="M592.25 102.40L592.25 105.80M593.72 103.25L590.78 104.95M593.72 104.95L590.78 103.25" stroke="#666" stroke-width="0.9" fill="none"/><line x1="602.9" y1="94.1" x2="602.9" y2="99.3" stroke="#000" stroke-width="1.1700000000000002"/><line x1="600.1" y1="94.1" x2="605.6" y2="94.1" stroke="#000" stroke-width="1.1700000000000002"/><rect x="599.55" y="99.91" width="6.60" height="58.99" fill="url(#pstripe)" stroke="#000" stroke-width="1.3"/><path d="M600.75 86.60L600.75 90.00M602.22 87.45L599.28 89.15M602.22 89.15L599.28 87.45" stroke="#666" stroke-width="0.9" fill="none"/><path d="M604.95 86.60L604.95 90.00M606.42 87.45L603.48 89.15M606.42 89.15L603.48 87.45" stroke="#666" stroke-width="0.9" fill="none"/><line x1="615.7" y1="95.4" x2="615.7" y2="97.9" stroke="#000" stroke-width="1.1700000000000002"/><line x1="612.9" y1="95.4" x2="618.4" y2="95.4" stroke="#000" stroke-width="1.1700000000000002"/><rect x="612.35" y="98.56" width="6.60" height="60.34" fill="url(#pcheck)" stroke="#000" stroke-width="1.3"/><path d="M613.55 87.10L613.55 90.50M615.02 87.95L612.08 89.65M615.02 89.65L612.08 87.95" stroke="#666" stroke-width="0.9" fill="none"/><path d="M617.75 87.10L617.75 90.50M619.22 87.95L616.28 89.65M619.22 89.65L616.28 87.95" stroke="#666" stroke-width="0.9" fill="none"/><line x1="636.7" y1="46.4" x2="636.7" y2="54.1" stroke="#000" stroke-width="1.1700000000000002"/><line x1="633.9" y1="46.4" x2="639.4" y2="46.4" stroke="#000" stroke-width="1.1700000000000002"/><rect x="633.35" y="54.75" width="6.60" height="104.15" fill="url(#pdot)" stroke="#000" stroke-width="1.3"/><text x="636.7" y="40.8" font-size="7.0" text-anchor="middle" fill="#8a8a8a" font-style="italic">##</text><line x1="649.4" y1="53.3" x2="649.4" y2="57.6" stroke="#000" stroke-width="1.1700000000000002"/><line x1="646.6" y1="53.3" x2="652.1" y2="53.3" stroke="#000" stroke-width="1.1700000000000002"/><rect x="646.05" y="58.23" width="6.60" height="100.67" fill="#a19fa4" stroke="#000" stroke-width="1.3"/><text x="649.4" y="48.4" font-size="7.0" text-anchor="middle" fill="#8a8a8a" font-style="italic">##</text><line x1="662.1" y1="62.4" x2="662.1" y2="65.7" stroke="#000" stroke-width="1.1700000000000002"/><line x1="659.3" y1="62.4" x2="664.8" y2="62.4" stroke="#000" stroke-width="1.1700000000000002"/><rect x="658.75" y="66.33" width="6.60" height="92.57" fill="url(#pstripe)" stroke="#000" stroke-width="1.3"/><text x="662.1" y="57.1" font-size="7.0" text-anchor="middle" fill="#8a8a8a" font-style="italic">##</text><line x1="674.9" y1="76.3" x2="674.9" y2="80.9" stroke="#000" stroke-width="1.1700000000000002"/><line x1="672.1" y1="76.3" x2="677.6" y2="76.3" stroke="#000" stroke-width="1.1700000000000002"/><rect x="671.55" y="81.58" width="6.60" height="77.32" fill="url(#pcheck)" stroke="#000" stroke-width="1.3"/><text x="674.9" y="71.2" font-size="7.0" text-anchor="middle" fill="#8a8a8a" font-style="italic">#</text><line x1="509.8" y1="42.5" x2="509.8" y2="159.6" stroke="#000" stroke-width="1.3"/><line x1="505.8" y1="158.9" x2="684.5" y2="158.9" stroke="#000" stroke-width="1.3"/><line x1="537.3" y1="158.9" x2="537.3" y2="163.7" stroke="#000" stroke-width="1.3"/><text transform="translate(538.3,174.1) rotate(-30)" font-size="8.8" font-weight="bold" text-anchor="end">control</text><line x1="596.5" y1="158.9" x2="596.5" y2="163.7" stroke="#000" stroke-width="1.3"/><text transform="translate(597.5,174.1) rotate(-30)" font-size="8.8" font-weight="bold" text-anchor="end">ox-LDL</text><line x1="655.7" y1="158.9" x2="655.7" y2="163.7" stroke="#000" stroke-width="1.3"/><text transform="translate(656.7,174.1) rotate(-30)" font-size="8.8" font-weight="bold" text-anchor="end">ox-LDL+CQ</text><text transform="translate(482.6,100.5) rotate(-90)" font-size="10.0" font-weight="bold" text-anchor="middle" textLength="89.8" lengthAdjust="spacingAndGlyphs">Relative mRNA level</text><rect x="524.30" y="12.00" width="11.10" height="3.00" fill="url(#pdot)" stroke="#000" stroke-width="1.2"/><text x="542.5" y="16.2" font-size="8.6" font-weight="bold">p62</text><rect x="524.30" y="24.30" width="11.10" height="3.00" fill="#a19fa4" stroke="#000" stroke-width="1.2"/><text x="542.5" y="28.5" font-size="8.6" font-weight="bold">p-casp1</text><rect x="616.90" y="12.00" width="11.10" height="3.00" fill="url(#pstripe)" stroke="#000" stroke-width="1.2"/><text x="635.6" y="16.2" font-size="8.6" font-weight="bold" letter-spacing="1.15">LC3</text><path d="M657.50 10.00h4.40v0.80h-4.40zM657.50 15.40h4.40v0.80h-4.40zM658.20 10.00h1.10v6.20h-1.10zM660.10 10.00h1.10v6.20h-1.10z" fill="#111"/><text x="662.80" y="16.2" font-size="8.6" font-weight="bold">/</text><path d="M669.90 10.00h2.60v0.80h-2.60zM669.90 15.40h2.60v0.80h-2.60zM670.65 10.00h1.10v6.20h-1.10z" fill="#111"/><rect x="616.90" y="24.80" width="11.10" height="3.00" fill="url(#pcheck)" stroke="#000" stroke-width="1.2"/><text x="635.4" y="29.0" font-size="8.6" font-weight="bold">GSDMD</text><line x1="41.9" y1="355.4" x2="46.4" y2="355.4" stroke="#1a1a1a" stroke-width="1.5"/><text x="40.7" y="358.4" font-size="8.6" font-weight="bold" text-anchor="end">0</text><line x1="41.9" y1="317.2" x2="46.4" y2="317.2" stroke="#1a1a1a" stroke-width="1.5"/><text x="40.7" y="320.2" font-size="8.6" font-weight="bold" text-anchor="end">40</text><line x1="41.9" y1="279.0" x2="46.4" y2="279.0" stroke="#1a1a1a" stroke-width="1.5"/><text x="40.7" y="282.0" font-size="8.6" font-weight="bold" text-anchor="end">80</text><line x1="41.9" y1="240.8" x2="46.4" y2="240.8" stroke="#1a1a1a" stroke-width="1.5"/><text x="40.7" y="243.8" font-size="8.6" font-weight="bold" text-anchor="end">120</text><line x1="80.8" y1="254.5" x2="80.8" y2="260.6" stroke="#000" stroke-width="1.8"/><line x1="72.7" y1="254.5" x2="89.0" y2="254.5" stroke="#000" stroke-width="1.8"/><rect x="64.90" y="261.57" width="31.90" height="93.83" fill="url(#pdot)" stroke="#000" stroke-width="2.0"/><line x1="132.2" y1="271.9" x2="132.2" y2="281.9" stroke="#000" stroke-width="1.8"/><line x1="124.0" y1="271.9" x2="140.4" y2="271.9" stroke="#000" stroke-width="1.8"/><rect x="116.20" y="282.86" width="32.00" height="72.54" fill="#a19fa4" stroke="#000" stroke-width="2.0"/><path d="M132.20 263.30L132.20 267.50M134.02 264.35L130.38 266.45M134.02 266.45L130.38 264.35" stroke="#444" stroke-width="0.9" fill="none"/><line x1="184.1" y1="297.7" x2="184.1" y2="302.2" stroke="#000" stroke-width="1.8"/><line x1="176.0" y1="297.7" x2="192.1" y2="297.7" stroke="#000" stroke-width="1.8"/><rect x="168.30" y="303.21" width="31.50" height="52.19" fill="url(#pstripe)" stroke="#000" stroke-width="2.0"/><path d="M184.05 288.90L184.05 293.10M185.87 289.95L182.23 292.05M185.87 292.05L182.23 289.95" stroke="#444" stroke-width="0.9" fill="none"/><line x1="46.4" y1="240.2" x2="46.4" y2="356.1" stroke="#1a1a1a" stroke-width="1.5"/><line x1="41.9" y1="355.4" x2="219.0" y2="355.4" stroke="#1a1a1a" stroke-width="1.5"/><line x1="80.7" y1="355.4" x2="80.7" y2="360.2" stroke="#1a1a1a" stroke-width="1.5"/><text transform="translate(81.7,370.2) rotate(-30)" font-size="8.9" font-weight="bold" text-anchor="end">control</text><line x1="132.2" y1="355.4" x2="132.2" y2="360.2" stroke="#1a1a1a" stroke-width="1.5"/><text transform="translate(133.2,370.2) rotate(-30)" font-size="8.9" font-weight="bold" text-anchor="end">ox-LDL</text><line x1="184.2" y1="355.4" x2="184.2" y2="360.2" stroke="#1a1a1a" stroke-width="1.5"/><text transform="translate(185.2,370.2) rotate(-30)" font-size="8.9" font-weight="bold" text-anchor="end">ox-LDL+CQ</text><text transform="translate(20.6,297.8) rotate(-90)" font-size="9.6" font-weight="bold" text-anchor="middle" textLength="72.4" lengthAdjust="spacingAndGlyphs">Cell viability (%)</text><line x1="272.2" y1="357.3" x2="276.7" y2="357.3" stroke="#1a1a1a" stroke-width="1.5"/><text x="271.0" y="360.3" font-size="8.6" font-weight="bold" text-anchor="end">0</text><line x1="272.2" y1="319.3" x2="276.7" y2="319.3" stroke="#1a1a1a" stroke-width="1.5"/><text x="271.0" y="322.3" font-size="8.6" font-weight="bold" text-anchor="end">50</text><line x1="272.2" y1="281.3" x2="276.7" y2="281.3" stroke="#1a1a1a" stroke-width="1.5"/><text x="271.0" y="284.3" font-size="8.6" font-weight="bold" text-anchor="end">100</text><line x1="272.2" y1="243.3" x2="276.7" y2="243.3" stroke="#1a1a1a" stroke-width="1.5"/><text x="271.0" y="246.3" font-size="8.6" font-weight="bold" text-anchor="end">150</text><line x1="310.9" y1="339.4" x2="310.9" y2="347.0" stroke="#000" stroke-width="1.8"/><line x1="302.6" y1="339.4" x2="319.3" y2="339.4" stroke="#000" stroke-width="1.8"/><rect x="295.20" y="348.04" width="31.50" height="9.26" fill="url(#pdot)" stroke="#000" stroke-width="2.0"/><line x1="361.9" y1="290.4" x2="361.9" y2="305.6" stroke="#000" stroke-width="1.8"/><line x1="353.7" y1="290.4" x2="370.0" y2="290.4" stroke="#000" stroke-width="1.8"/><rect x="346.50" y="306.62" width="30.70" height="50.68" fill="#a19fa4" stroke="#000" stroke-width="2.0"/><path d="M361.85 282.00L361.85 285.20M363.24 282.80L360.46 284.40M363.24 284.40L360.46 282.80" stroke="#555" stroke-width="0.9" fill="none"/><line x1="412.8" y1="250.9" x2="412.8" y2="253.6" stroke="#000" stroke-width="1.8"/><line x1="404.6" y1="250.9" x2="421.1" y2="250.9" stroke="#000" stroke-width="1.8"/><rect x="397.40" y="254.56" width="30.90" height="102.74" fill="url(#pstripe)" stroke="#000" stroke-width="2.0"/><path d="M410.85 240.50L410.85 243.70M412.24 241.30L409.46 242.90M412.24 242.90L409.46 241.30" stroke="#555" stroke-width="0.9" fill="none"/><path d="M414.85 240.50L414.85 243.70M416.24 241.30L413.46 242.90M416.24 242.90L413.46 241.30" stroke="#555" stroke-width="0.9" fill="none"/><line x1="276.7" y1="242.7" x2="276.7" y2="358.1" stroke="#1a1a1a" stroke-width="1.5"/><line x1="272.2" y1="357.3" x2="447.0" y2="357.3" stroke="#1a1a1a" stroke-width="1.5"/><line x1="311.1" y1="357.3" x2="311.1" y2="362.1" stroke="#1a1a1a" stroke-width="1.5"/><text transform="translate(312.1,372.1) rotate(-30)" font-size="8.9" font-weight="bold" text-anchor="end">control</text><line x1="361.9" y1="357.3" x2="361.9" y2="362.1" stroke="#1a1a1a" stroke-width="1.5"/><text transform="translate(362.9,372.1) rotate(-30)" font-size="8.9" font-weight="bold" text-anchor="end">ox-LDL</text><line x1="412.4" y1="357.3" x2="412.4" y2="362.1" stroke="#1a1a1a" stroke-width="1.5"/><text transform="translate(413.4,372.1) rotate(-30)" font-size="8.9" font-weight="bold" text-anchor="end">ox-LDL+CQ</text><text transform="translate(251.6,299.5) rotate(-90)" font-size="9.6" font-weight="bold" text-anchor="middle" textLength="72.5" lengthAdjust="spacingAndGlyphs">LDH release (%)</text><line x1="503.1" y1="357.0" x2="507.6" y2="357.0" stroke="#1a1a1a" stroke-width="1.5"/><text x="501.9" y="360.0" font-size="8.6" font-weight="bold" text-anchor="end">0</text><line x1="503.1" y1="333.8" x2="507.6" y2="333.8" stroke="#1a1a1a" stroke-width="1.5"/><text x="501.9" y="336.8" font-size="8.6" font-weight="bold" text-anchor="end">50</text><line x1="503.1" y1="310.5" x2="507.6" y2="310.5" stroke="#1a1a1a" stroke-width="1.5"/><text x="501.9" y="313.5" font-size="8.6" font-weight="bold" text-anchor="end">100</text><line x1="503.1" y1="287.2" x2="507.6" y2="287.2" stroke="#1a1a1a" stroke-width="1.5"/><text x="501.9" y="290.3" font-size="8.6" font-weight="bold" text-anchor="end">150</text><line x1="503.1" y1="264.0" x2="507.6" y2="264.0" stroke="#1a1a1a" stroke-width="1.5"/><text x="501.9" y="267.0" font-size="8.6" font-weight="bold" text-anchor="end">200</text><line x1="503.1" y1="240.8" x2="507.6" y2="240.8" stroke="#1a1a1a" stroke-width="1.5"/><text x="501.9" y="243.8" font-size="8.6" font-weight="bold" text-anchor="end">250</text><line x1="542.9" y1="310.3" x2="542.9" y2="318.9" stroke="#000" stroke-width="1.8"/><line x1="534.5" y1="310.3" x2="551.2" y2="310.3" stroke="#000" stroke-width="1.8"/><rect x="527.10" y="319.92" width="31.50" height="37.08" fill="url(#pdot)" stroke="#000" stroke-width="2.0"/><line x1="594.9" y1="291.4" x2="594.9" y2="299.8" stroke="#000" stroke-width="1.8"/><line x1="586.5" y1="291.4" x2="603.2" y2="291.4" stroke="#000" stroke-width="1.8"/><rect x="579.20" y="300.81" width="31.30" height="56.19" fill="#a19fa4" stroke="#000" stroke-width="2.0"/><path d="M594.85 283.00L594.85 286.20M596.24 283.80L593.46 285.40M596.24 285.40L593.46 283.80" stroke="#555" stroke-width="0.9" fill="none"/><line x1="647.3" y1="261.2" x2="647.3" y2="275.6" stroke="#000" stroke-width="1.8"/><line x1="638.8" y1="261.2" x2="655.8" y2="261.2" stroke="#000" stroke-width="1.8"/><rect x="631.40" y="276.62" width="31.80" height="80.38" fill="url(#pstripe)" stroke="#000" stroke-width="2.0"/><text x="647.3" y="253.8" font-size="6.5" text-anchor="middle" fill="#888">#</text><line x1="507.6" y1="240.2" x2="507.6" y2="357.8" stroke="#1a1a1a" stroke-width="1.5"/><line x1="503.1" y1="357.0" x2="682.5" y2="357.0" stroke="#1a1a1a" stroke-width="1.5"/><line x1="542.7" y1="357.0" x2="542.7" y2="361.8" stroke="#1a1a1a" stroke-width="1.5"/><text transform="translate(543.7,371.8) rotate(-30)" font-size="8.9" font-weight="bold" text-anchor="end">control</text><line x1="594.9" y1="357.0" x2="594.9" y2="361.8" stroke="#1a1a1a" stroke-width="1.5"/><text transform="translate(595.9,371.8) rotate(-30)" font-size="8.9" font-weight="bold" text-anchor="end">ox-LDL</text><line x1="647.0" y1="357.0" x2="647.0" y2="361.8" stroke="#1a1a1a" stroke-width="1.5"/><text transform="translate(648.0,371.8) rotate(-30)" font-size="8.9" font-weight="bold" text-anchor="end">ox-LDL+CQ</text><text transform="translate(481.4,299.2) rotate(-90)" font-size="9.6" font-weight="bold" text-anchor="middle" textLength="68.7" lengthAdjust="spacingAndGlyphs">IL-1β Secretion</text><line x1="74.8" y1="530.5" x2="78.8" y2="530.5" stroke="#000" stroke-width="1.3"/><text x="73.6" y="533.2" font-size="7.8" text-anchor="end" stroke="#000" stroke-width="0.35">0</text><line x1="74.8" y1="493.5" x2="78.8" y2="493.5" stroke="#000" stroke-width="1.3"/><text x="73.6" y="496.2" font-size="7.8" text-anchor="end" stroke="#000" stroke-width="0.35">400</text><line x1="74.8" y1="456.5" x2="78.8" y2="456.5" stroke="#000" stroke-width="1.3"/><text x="73.6" y="459.2" font-size="7.8" text-anchor="end" stroke="#000" stroke-width="0.35">800</text><line x1="74.8" y1="419.5" x2="78.8" y2="419.5" stroke="#000" stroke-width="1.3"/><text x="73.6" y="422.2" font-size="7.8" text-anchor="end" stroke="#000" stroke-width="0.35">1200</text><line x1="112.2" y1="473.1" x2="112.2" y2="475.0" stroke="#000" stroke-width="1.62"/><line x1="104.1" y1="473.1" x2="120.4" y2="473.1" stroke="#000" stroke-width="1.62"/><rect x="96.80" y="475.90" width="30.90" height="54.60" fill="url(#pdot)" stroke="#000" stroke-width="1.8"/><line x1="161.6" y1="449.3" x2="161.6" y2="457.5" stroke="#000" stroke-width="1.62"/><line x1="153.5" y1="449.3" x2="169.7" y2="449.3" stroke="#000" stroke-width="1.62"/><rect x="146.40" y="458.42" width="30.40" height="72.08" fill="#a19fa4" stroke="#000" stroke-width="1.8"/><path d="M159.70 440.40L159.70 443.40M161.00 441.15L158.40 442.65M161.00 442.65L158.40 441.15" stroke="#555" stroke-width="0.9" fill="none"/><path d="M163.50 440.40L163.50 443.40M164.80 441.15L162.20 442.65M164.80 442.65L162.20 441.15" stroke="#555" stroke-width="0.9" fill="none"/><line x1="211.9" y1="443.6" x2="211.9" y2="447.3" stroke="#000" stroke-width="1.62"/><line x1="203.8" y1="443.6" x2="219.9" y2="443.6" stroke="#000" stroke-width="1.62"/><rect x="196.70" y="448.24" width="30.30" height="82.26" fill="url(#pstripe)" stroke="#000" stroke-width="1.8"/><path d="M211.85 432.30L211.85 435.10M213.06 433.00L210.64 434.40M213.06 434.40L210.64 433.00" stroke="#888" stroke-width="0.9" fill="none"/><line x1="78.8" y1="418.9" x2="78.8" y2="531.1" stroke="#000" stroke-width="1.3"/><line x1="74.8" y1="530.5" x2="244.8" y2="530.5" stroke="#000" stroke-width="1.3"/><line x1="112.0" y1="530.5" x2="112.0" y2="535.3" stroke="#000" stroke-width="1.3"/><text transform="translate(113.0,544.5) rotate(-30)" font-size="8.2" font-weight="bold" text-anchor="end">control</text><line x1="162.2" y1="530.5" x2="162.2" y2="535.3" stroke="#000" stroke-width="1.3"/><text transform="translate(163.2,544.5) rotate(-30)" font-size="8.2" font-weight="bold" text-anchor="end">ox-LDL</text><line x1="211.8" y1="530.5" x2="211.8" y2="535.3" stroke="#000" stroke-width="1.3"/><text transform="translate(212.8,544.5) rotate(-30)" font-size="8.2" font-weight="bold" text-anchor="end">ox-LDL+CQ</text><text transform="translate(51.6,474.6) rotate(-90)" font-size="9.7" text-anchor="middle" textLength="65.7" lengthAdjust="spacingAndGlyphs" stroke="#000" stroke-width="0.4">IL-18 Secretion</text><line x1="368.0" y1="532.8" x2="372.0" y2="532.8" stroke="#000" stroke-width="1.3"/><text x="366.8" y="535.5" font-size="7.8" font-weight="bold" text-anchor="end">0</text><line x1="368.0" y1="512.1" x2="372.0" y2="512.1" stroke="#000" stroke-width="1.3"/><text x="366.8" y="514.9" font-size="7.8" font-weight="bold" text-anchor="end">2</text><line x1="368.0" y1="491.5" x2="372.0" y2="491.5" stroke="#000" stroke-width="1.3"/><text x="366.8" y="494.2" font-size="7.8" font-weight="bold" text-anchor="end">4</text><line x1="368.0" y1="470.8" x2="372.0" y2="470.8" stroke="#000" stroke-width="1.3"/><text x="366.8" y="473.5" font-size="7.8" font-weight="bold" text-anchor="end">6</text><line x1="368.0" y1="450.2" x2="372.0" y2="450.2" stroke="#000" stroke-width="1.3"/><text x="366.8" y="452.9" font-size="7.8" font-weight="bold" text-anchor="end">8</text><line x1="368.0" y1="429.5" x2="372.0" y2="429.5" stroke="#000" stroke-width="1.3"/><text x="366.8" y="432.2" font-size="7.8" font-weight="bold" text-anchor="end">10</text><line x1="403.7" y1="494.6" x2="403.7" y2="496.6" stroke="#000" stroke-width="1.62"/><line x1="396.3" y1="494.6" x2="411.1" y2="494.6" stroke="#000" stroke-width="1.62"/><rect x="389.80" y="497.54" width="27.80" height="35.25" fill="url(#pdot)" stroke="#000" stroke-width="1.8"/><line x1="450.1" y1="465.7" x2="450.1" y2="468.4" stroke="#000" stroke-width="1.62"/><line x1="442.5" y1="465.7" x2="457.6" y2="465.7" stroke="#000" stroke-width="1.62"/><rect x="435.90" y="469.34" width="28.30" height="63.46" fill="#a19fa4" stroke="#000" stroke-width="1.8"/><path d="M448.15 458.10L448.15 461.10M449.45 458.85L446.85 460.35M449.45 460.35L446.85 458.85" stroke="#555" stroke-width="0.9" fill="none"/><path d="M451.95 458.10L451.95 461.10M453.25 458.85L450.65 460.35M453.25 460.35L450.65 458.85" stroke="#555" stroke-width="0.9" fill="none"/><line x1="496.8" y1="445.0" x2="496.8" y2="447.1" stroke="#000" stroke-width="1.62"/><line x1="489.3" y1="445.0" x2="504.3" y2="445.0" stroke="#000" stroke-width="1.62"/><rect x="482.70" y="447.96" width="28.20" height="84.84" fill="url(#pstripe)" stroke="#000" stroke-width="1.8"/><text x="496.8" y="438.6" font-size="6.8" text-anchor="middle" fill="#888">##</text><line x1="372.0" y1="428.9" x2="372.0" y2="533.4" stroke="#000" stroke-width="1.3"/><line x1="368.0" y1="532.8" x2="528.5" y2="532.8" stroke="#000" stroke-width="1.3"/><line x1="403.2" y1="532.8" x2="403.2" y2="537.6" stroke="#000" stroke-width="1.3"/><text transform="translate(404.2,546.8) rotate(-30)" font-size="8.2" font-weight="bold" text-anchor="end">control</text><line x1="449.9" y1="532.8" x2="449.9" y2="537.6" stroke="#000" stroke-width="1.3"/><text transform="translate(450.9,546.8) rotate(-30)" font-size="8.2" font-weight="bold" text-anchor="end">ox-LDL</text><line x1="496.4" y1="532.8" x2="496.4" y2="537.6" stroke="#000" stroke-width="1.3"/><text transform="translate(497.4,546.8) rotate(-30)" font-size="8.2" font-weight="bold" text-anchor="end">ox-LDL+CQ</text><text transform="translate(343.3,478.4) rotate(-90)" font-size="9.2" font-weight="bold" text-anchor="middle" textLength="114.9" lengthAdjust="spacingAndGlyphs">Ratio of staining positive cells</text><text transform="translate(354.2,482.2) rotate(-90)" font-size="8.4" text-anchor="middle" textLength="14.0" lengthAdjust="spacingAndGlyphs">( % )</text><rect x="56.60" y="590.50" width="120.70" height="108.60" fill="#fff" stroke="#8a8a8a" stroke-width="0.9"/><path d="M57 650.5h1.1M57 654.5h1.1M57 657.5h1.1M57 658.5h1.1M57 659.5h1.1M57 661.5h1.1M57 662.5h1.1M57 663.5h1.1M57 664.5h1.1M57 668.5h1.1M57 670.5h1.1M57 671.5h1.1M57 673.5h1.1M57 674.5h1.1M57 675.5h1.1M57 676.5h1.1M57 678.5h1.1M57 679.5h1.1M57 680.5h1.1M57 682.5h1.1M57 683.5h1.1M57 686.5h1.1M58 637.5h1.1M58 642.5h1.1M58 645.5h1.1M58 648.5h1.1M58 649.5h1.1M58 650.5h1.1M58 651.5h1.1M58 652.5h1.1M58 653.5h1.1M58 654.5h1.1M58 655.5h1.1M58 657.5h1.1M58 658.5h1.1M58 659.5h1.1M58 660.5h1.1M58 661.5h1.1M58 662.5h1.1M58 663.5h1.1M58 664.5h1.1M58 665.5h1.1M58 667.5h1.1M58 669.5h1.1M58 670.5h1.1M58 671.5h1.1M58 672.5h1.1M58 673.5h1.1M58 674.5h1.1M58 675.5h1.1M58 676.5h1.1M58 677.5h1.1M58 678.5h1.1M58 680.5h1.1M58 681.5h1.1M58 682.5h1.1M58 684.5h1.1M58 685.5h1.1M58 686.5h1.1M59 642.5h1.1M59 644.5h1.1M59 648.5h1.1M59 650.5h1.1M59 651.5h1.1M59 652.5h1.1M59 653.5h1.1M59 654.5h1.1M59 656.5h1.1M59 657.5h1.1M59 658.5h1.1M59 659.5h1.1M59 660.5h1.1M59 661.5h1.1M59 662.5h1.1M59 663.5h1.1M59 665.5h1.1M59 666.5h1.1M59 667.5h1.1M59 668.5h1.1M59 669.5h1.1M59 670.5h1.1M59 671.5h1.1M59 672.5h1.1M59 673.5h1.1M59 674.5h1.1M59 675.5h1.1M59 676.5h1.1M59 678.5h1.1M59 679.5h1.1M59 680.5h1.1M59 681.5h1.1M59 682.5h1.1M59 683.5h1.1M59 684.5h1.1M59 685.5h1.1M59 688.5h1.1M60 632.5h1.1M60 637.5h1.1M60 641.5h1.1M60 645.5h1.1M60 647.5h1.1M60 650.5h1.1M60 651.5h1.1M60 652.5h1.1M60 653.5h1.1M60 654.5h1.1M60 655.5h1.1M60 656.5h1.1M60 657.5h1.1M60 658.5h1.1M60 659.5h1.1M60 660.5h1.1M60 661.5h1.1M60 662.5h1.1M60 663.5h1.1M60 664.5h1.1M60 665.5h1.1M60 666.5h1.1M60 667.5h1.1M60 668.5h1.1M60 669.5h1.1M60 671.5h1.1M60 672.5h1.1M60 673.5h1.1M60 676.5h1.1M60 677.5h1.1M60 678.5h1.1M60 679.5h1.1M60 680.5h1.1M60 681.5h1.1M60 682.5h1.1M60 683.5h1.1M60 684.5h1.1M60 685.5h1.1M60 686.5h1.1M60 687.5h1.1M60 692.5h1.1M61 638.5h1.1M61 642.5h1.1M61 645.5h1.1M61 647.5h1.1M61 649.5h1.1M61 652.5h1.1M61 653.5h1.1M61 655.5h1.1M61 656.5h1.1M61 657.5h1.1M61 658.5h1.1M61 659.5h1.1M61 660.5h1.1M61 661.5h1.1M61 662.5h1.1M61 663.5h1.1M61 664.5h1.1M61 666.5h1.1M61 668.5h1.1M61 669.5h1.1M61 670.5h1.1M61 671.5h1.1M61 672.5h1.1M61 673.5h1.1M61 674.5h1.1M61 675.5h1.1M61 676.5h1.1M61 677.5h1.1M61 678.5h1.1M61 679.5h1.1M61 680.5h1.1M61 682.5h1.1M61 683.5h1.1M61 684.5h1.1M61 686.5h1.1M61 692.5h1.1M62 631.5h1.1M62 642.5h1.1M62 643.5h1.1M62 644.5h1.1M62 645.5h1.1M62 646.5h1.1M62 647.5h1.1M62 648.5h1.1M62 649.5h1.1M62 650.5h1.1M62 651.5h1.1M62 652.5h1.1M62 653.5h1.1M62 654.5h1.1M62 655.5h1.1M62 656.5h1.1M62 657.5h1.1M62 658.5h1.1M62 659.5h1.1M62 660.5h1.1M62 661.5h1.1M62 662.5h1.1M62 663.5h1.1M62 664.5h1.1M62 666.5h1.1M62 667.5h1.1M62 668.5h1.1M62 669.5h1.1M62 670.5h1.1M62 671.5h1.1M62 672.5h1.1M62 673.5h1.1M62 674.5h1.1M62 675.5h1.1M62 676.5h1.1M62 677.5h1.1M62 678.5h1.1M62 679.5h1.1M62 680.5h1.1M62 681.5h1.1M62 682.5h1.1M62 683.5h1.1M62 685.5h1.1M62 686.5h1.1M62 690.5h1.1M62 691.5h1.1M62 692.5h1.1M63 633.5h1.1M63 641.5h1.1M63 645.5h1.1M63 647.5h1.1M63 648.5h1.1M63 651.5h1.1M63 652.5h1.1M63 653.5h1.1M63 654.5h1.1M63 655.5h1.1M63 656.5h1.1M63 657.5h1.1M63 658.5h1.1M63 659.5h1.1M63 660.5h1.1M63 661.5h1.1M63 662.5h1.1M63 663.5h1.1M63 664.5h1.1M63 665.5h1.1M63 666.5h1.1M63 668.5h1.1M63 669.5h1.1M63 670.5h1.1M63 671.5h1.1M63 672.5h1.1M63 673.5h1.1M63 674.5h1.1M63 675.5h1.1M63 676.5h1.1M63 677.5h1.1M63 679.5h1.1M63 680.5h1.1M63 682.5h1.1M63 683.5h1.1M63 686.5h1.1M64 642.5h1.1M64 644.5h1.1M64 645.5h1.1M64 646.5h1.1M64 647.5h1.1M64 648.5h1.1M64 650.5h1.1M64 651.5h1.1M64 653.5h1.1M64 654.5h1.1M64 655.5h1.1M64 656.5h1.1M64 657.5h1.1M64 658.5h1.1M64 659.5h1.1M64 660.5h1.1M64 661.5h1.1M64 662.5h1.1M64 663.5h1.1M64 665.5h1.1M64 666.5h1.1M64 667.5h1.1M64 668.5h1.1M64 669.5h1.1M64 670.5h1.1M64 671.5h1.1M64 672.5h1.1M64 673.5h1.1M64 674.5h1.1M64 675.5h1.1M64 676.5h1.1M64 677.5h1.1M64 679.5h1.1M64 681.5h1.1M64 689.5h1.1M65 637.5h1.1M65 639.5h1.1M65 640.5h1.1M65 641.5h1.1M65 644.5h1.1M65 645.5h1.1M65 646.5h1.1M65 647.5h1.1M65 648.5h1.1M65 649.5h1.1M65 650.5h1.1M65 652.5h1.1M65 653.5h1.1M65 654.5h1.1M65 655.5h1.1M65 656.5h1.1M65 657.5h1.1M65 658.5h1.1M65 659.5h1.1M65 660.5h1.1M65 661.5h1.1M65 663.5h1.1M65 664.5h1.1M65 665.5h1.1M65 666.5h1.1M65 667.5h1.1M65 668.5h1.1M65 669.5h1.1M65 670.5h1.1M65 671.5h1.1M65 672.5h1.1M65 673.5h1.1M65 674.5h1.1M65 675.5h1.1M65 677.5h1.1M65 678.5h1.1M65 681.5h1.1M65 682.5h1.1M65 685.5h1.1M65 687.5h1.1M66 634.5h1.1M66 638.5h1.1M66 640.5h1.1M66 643.5h1.1M66 644.5h1.1M66 646.5h1.1M66 647.5h1.1M66 648.5h1.1M66 651.5h1.1M66 652.5h1.1M66 653.5h1.1M66 654.5h1.1M66 655.5h1.1M66 657.5h1.1M66 658.5h1.1M66 659.5h1.1M66 660.5h1.1M66 661.5h1.1M66 662.5h1.1M66 663.5h1.1M66 664.5h1.1M66 665.5h1.1M66 666.5h1.1M66 667.5h1.1M66 668.5h1.1M66 669.5h1.1M66 670.5h1.1M66 671.5h1.1M66 672.5h1.1M66 673.5h1.1M66 674.5h1.1M66 676.5h1.1M66 677.5h1.1M66 678.5h1.1M66 679.5h1.1M66 680.5h1.1M66 682.5h1.1M66 683.5h1.1M66 685.5h1.1M66 692.5h1.1M67 632.5h1.1M67 646.5h1.1M67 647.5h1.1M67 648.5h1.1M67 650.5h1.1M67 651.5h1.1M67 653.5h1.1M67 655.5h1.1M67 656.5h1.1M67 657.5h1.1M67 658.5h1.1M67 659.5h1.1M67 660.5h1.1M67 661.5h1.1M67 662.5h1.1M67 663.5h1.1M67 664.5h1.1M67 665.5h1.1M67 666.5h1.1M67 667.5h1.1M67 668.5h1.1M67 669.5h1.1M67 670.5h1.1M67 671.5h1.1M67 672.5h1.1M67 673.5h1.1M67 674.5h1.1M67 675.5h1.1M67 676.5h1.1M67 678.5h1.1M67 679.5h1.1M67 680.5h1.1M67 681.5h1.1M67 682.5h1.1M67 683.5h1.1M67 687.5h1.1M68 637.5h1.1M68 640.5h1.1M68 641.5h1.1M68 642.5h1.1M68 645.5h1.1M68 647.5h1.1M68 648.5h1.1M68 649.5h1.1M68 650.5h1.1M68 651.5h1.1M68 652.5h1.1M68 653.5h1.1M68 654.5h1.1M68 655.5h1.1M68 656.5h1.1M68 657.5h1.1M68 658.5h1.1M68 659.5h1.1M68 660.5h1.1M68 661.5h1.1M68 662.5h1.1M68 663.5h1.1M68 664.5h1.1M68 665.5h1.1M68 666.5h1.1M68 667.5h1.1M68 668.5h1.1M68 669.5h1.1M68 670.5h1.1M68 671.5h1.1M68 672.5h1.1M68 673.5h1.1M68 674.5h1.1M68 675.5h1.1M68 676.5h1.1M68 677.5h1.1M68 685.5h1.1M68 689.5h1.1M68 691.5h1.1M68 693.5h1.1M69 632.5h1.1M69 634.5h1.1M69 637.5h1.1M69 638.5h1.1M69 639.5h1.1M69 644.5h1.1M69 645.5h1.1M69 646.5h1.1M69 647.5h1.1M69 648.5h1.1M69 649.5h1.1M69 650.5h1.1M69 651.5h1.1M69 652.5h1.1M69 653.5h1.1M69 654.5h1.1M69 656.5h1.1M69 657.5h1.1M69 658.5h1.1M69 659.5h1.1M69 660.5h1.1M69 661.5h1.1M69 662.5h1.1M69 663.5h1.1M69 664.5h1.1M69 665.5h1.1M69 666.5h1.1M69 667.5h1.1M69 668.5h1.1M69 669.5h1.1M69 670.5h1.1M69 671.5h1.1M69 672.5h1.1M69 673.5h1.1M69 674.5h1.1M69 675.5h1.1M69 676.5h1.1M69 677.5h1.1M69 678.5h1.1M69 679.5h1.1M69 680.5h1.1M69 681.5h1.1M69 683.5h1.1M70 630.5h1.1M70 639.5h1.1M70 641.5h1.1M70 642.5h1.1M70 645.5h1.1M70 646.5h1.1M70 647.5h1.1M70 648.5h1.1M70 649.5h1.1M70 650.5h1.1M70 651.5h1.1M70 652.5h1.1M70 653.5h1.1M70 654.5h1.1M70 655.5h1.1M70 656.5h1.1M70 657.5h1.1M70 658.5h1.1M70 659.5h1.1M70 660.5h1.1M70 661.5h1.1M70 662.5h1.1M70 663.5h1.1M70 664.5h1.1M70 665.5h1.1M70 666.5h1.1M70 667.5h1.1M70 668.5h1.1M70 669.5h1.1M70 670.5h1.1M70 671.5h1.1M70 672.5h1.1M70 673.5h1.1M70 675.5h1.1M70 676.5h1.1M70 678.5h1.1M71 630.5h1.1M71 634.5h1.1M71 637.5h1.1M71 639.5h1.1M71 643.5h1.1M71 645.5h1.1M71 646.5h1.1M71 647.5h1.1M71 648.5h1.1M71 650.5h1.1M71 651.5h1.1M71 652.5h1.1M71 654.5h1.1M71 655.5h1.1M71 656.5h1.1M71 657.5h1.1M71 658.5h1.1M71 659.5h1.1M71 660.5h1.1M71 661.5h1.1M71 662.5h1.1M71 663.5h1.1M71 664.5h1.1M71 665.5h1.1M71 666.5h1.1M71 667.5h1.1M71 668.5h1.1M71 669.5h1.1M71 670.5h1.1M71 671.5h1.1M71 672.5h1.1M71 673.5h1.1M71 678.5h1.1M71 683.5h1.1M71 696.5h1.1M71 697.5h1.1M72 630.5h1.1M72 632.5h1.1M72 636.5h1.1M72 641.5h1.1M72 643.5h1.1M72 645.5h1.1M72 646.5h1.1M72 647.5h1.1M72 648.5h1.1M72 649.5h1.1M72 650.5h1.1M72 651.5h1.1M72 652.5h1.1M72 653.5h1.1M72 654.5h1.1M72 655.5h1.1M72 656.5h1.1M72 657.5h1.1M72 658.5h1.1M72 659.5h1.1M72 660.5h1.1M72 661.5h1.1M72 662.5h1.1M72 663.5h1.1M72 664.5h1.1M72 665.5h1.1M72 666.5h1.1M72 667.5h1.1M72 668.5h1.1M72 669.5h1.1M72 670.5h1.1M72 671.5h1.1M72 672.5h1.1M72 673.5h1.1M72 674.5h1.1M72 675.5h1.1M72 676.5h1.1M72 678.5h1.1M72 680.5h1.1M72 685.5h1.1M73 631.5h1.1M73 634.5h1.1M73 636.5h1.1M73 637.5h1.1M73 638.5h1.1M73 639.5h1.1M73 640.5h1.1M73 641.5h1.1M73 642.5h1.1M73 643.5h1.1M73 644.5h1.1M73 645.5h1.1M73 646.5h1.1M73 647.5h1.1M73 648.5h1.1M73 649.5h1.1M73 650.5h1.1M73 651.5h1.1M73 653.5h1.1M73 654.5h1.1M73 655.5h1.1M73 656.5h1.1M73 657.5h1.1M73 658.5h1.1M73 659.5h1.1M73 660.5h1.1M73 661.5h1.1M73 662.5h1.1M73 663.5h1.1M73 664.5h1.1M73 665.5h1.1M73 666.5h1.1M73 667.5h1.1M73 668.5h1.1M73 669.5h1.1M73 670.5h1.1M73 671.5h1.1M73 672.5h1.1M73 673.5h1.1M73 674.5h1.1M73 675.5h1.1M73 676.5h1.1M73 679.5h1.1M73 681.5h1.1M74 630.5h1.1M74 632.5h1.1M74 634.5h1.1M74 635.5h1.1M74 636.5h1.1M74 637.5h1.1M74 639.5h1.1M74 641.5h1.1M74 643.5h1.1M74 644.5h1.1M74 646.5h1.1M74 648.5h1.1M74 649.5h1.1M74 651.5h1.1M74 652.5h1.1M74 653.5h1.1M74 654.5h1.1M74 655.5h1.1M74 656.5h1.1M74 657.5h1.1M74 658.5h1.1M74 659.5h1.1M74 660.5h1.1M74 661.5h1.1M74 662.5h1.1M74 663.5h1.1M74 664.5h1.1M74 665.5h1.1M74 666.5h1.1M74 667.5h1.1M74 668.5h1.1M74 669.5h1.1M74 670.5h1.1M74 671.5h1.1M74 672.5h1.1M74 673.5h1.1M74 674.5h1.1M74 675.5h1.1M74 676.5h1.1M74 678.5h1.1M74 679.5h1.1M74 681.5h1.1M74 682.5h1.1M75 632.5h1.1M75 633.5h1.1M75 635.5h1.1M75 637.5h1.1M75 640.5h1.1M75 641.5h1.1M75 643.5h1.1M75 645.5h1.1M75 646.5h1.1M75 647.5h1.1M75 649.5h1.1M75 650.5h1.1M75 651.5h1.1M75 652.5h1.1M75 653.5h1.1M75 654.5h1.1M75 655.5h1.1M75 656.5h1.1M75 657.5h1.1M75 658.5h1.1M75 659.5h1.1M75 660.5h1.1M75 661.5h1.1M75 662.5h1.1M75 663.5h1.1M75 664.5h1.1M75 665.5h1.1M75 666.5h1.1M75 667.5h1.1M75 668.5h1.1M75 669.5h1.1M75 670.5h1.1M75 671.5h1.1M75 672.5h1.1M75 673.5h1.1M75 674.5h1.1M75 675.5h1.1M75 678.5h1.1M76 630.5h1.1M76 634.5h1.1M76 635.5h1.1M76 636.5h1.1M76 637.5h1.1M76 638.5h1.1M76 642.5h1.1M76 644.5h1.1M76 645.5h1.1M76 646.5h1.1M76 647.5h1.1M76 648.5h1.1M76 649.5h1.1M76 650.5h1.1M76 651.5h1.1M76 652.5h1.1M76 653.5h1.1M76 654.5h1.1M76 655.5h1.1M76 656.5h1.1M76 657.5h1.1M76 658.5h1.1M76 659.5h1.1M76 660.5h1.1M76 661.5h1.1M76 662.5h1.1M76 663.5h1.1M76 664.5h1.1M76 665.5h1.1M76 666.5h1.1M76 667.5h1.1M76 668.5h1.1M76 669.5h1.1M76 673.5h1.1M76 675.5h1.1M76 676.5h1.1M76 694.5h1.1M77 634.5h1.1M77 636.5h1.1M77 642.5h1.1M77 643.5h1.1M77 645.5h1.1M77 646.5h1.1M77 647.5h1.1M77 648.5h1.1M77 650.5h1.1M77 651.5h1.1M77 652.5h1.1M77 653.5h1.1M77 654.5h1.1M77 655.5h1.1M77 656.5h1.1M77 657.5h1.1M77 658.5h1.1M77 659.5h1.1M77 660.5h1.1M77 661.5h1.1M77 662.5h1.1M77 663.5h1.1M77 664.5h1.1M77 665.5h1.1M77 666.5h1.1M77 667.5h1.1M77 668.5h1.1M77 669.5h1.1M77 670.5h1.1M77 678.5h1.1M77 683.5h1.1M78 629.5h1.1M78 632.5h1.1M78 634.5h1.1M78 636.5h1.1M78 637.5h1.1M78 640.5h1.1M78 641.5h1.1M78 643.5h1.1M78 644.5h1.1M78 645.5h1.1M78 646.5h1.1M78 648.5h1.1M78 649.5h1.1M78 650.5h1.1M78 651.5h1.1M78 652.5h1.1M78 653.5h1.1M78 654.5h1.1M78 655.5h1.1M78 656.5h1.1M78 657.5h1.1M78 658.5h1.1M78 659.5h1.1M78 660.5h1.1M78 661.5h1.1M78 662.5h1.1M78 663.5h1.1M78 664.5h1.1M78 665.5h1.1M78 666.5h1.1M78 667.5h1.1M78 669.5h1.1M78 670.5h1.1M78 671.5h1.1M78 685.5h1.1M78 694.5h1.1M79 630.5h1.1M79 633.5h1.1M79 635.5h1.1M79 636.5h1.1M79 638.5h1.1M79 640.5h1.1M79 641.5h1.1M79 642.5h1.1M79 643.5h1.1M79 645.5h1.1M79 646.5h1.1M79 648.5h1.1M79 649.5h1.1M79 650.5h1.1M79 651.5h1.1M79 652.5h1.1M79 653.5h1.1M79 654.5h1.1M79 655.5h1.1M79 656.5h1.1M79 657.5h1.1M79 658.5h1.1M79 659.5h1.1M79 660.5h1.1M79 661.5h1.1M79 662.5h1.1M79 663.5h1.1M79 664.5h1.1M79 665.5h1.1M79 666.5h1.1M79 667.5h1.1M79 668.5h1.1M79 671.5h1.1M79 688.5h1.1M80 629.5h1.1M80 630.5h1.1M80 631.5h1.1M80 634.5h1.1M80 639.5h1.1M80 641.5h1.1M80 642.5h1.1M80 643.5h1.1M80 644.5h1.1M80 645.5h1.1M80 646.5h1.1M80 647.5h1.1M80 648.5h1.1M80 649.5h1.1M80 651.5h1.1M80 653.5h1.1M80 654.5h1.1M80 655.5h1.1M80 656.5h1.1M80 657.5h1.1M80 658.5h1.1M80 659.5h1.1M80 660.5h1.1M80 661.5h1.1M80 662.5h1.1M80 663.5h1.1M80 664.5h1.1M80 665.5h1.1M80 666.5h1.1M80 667.5h1.1M80 668.5h1.1M80 671.5h1.1M80 674.5h1.1M80 675.5h1.1M80 678.5h1.1M80 694.5h1.1M80 697.5h1.1M81 629.5h1.1M81 632.5h1.1M81 633.5h1.1M81 636.5h1.1M81 637.5h1.1M81 638.5h1.1M81 639.5h1.1M81 643.5h1.1M81 645.5h1.1M81 647.5h1.1M81 648.5h1.1M81 649.5h1.1M81 651.5h1.1M81 652.5h1.1M81 653.5h1.1M81 654.5h1.1M81 655.5h1.1M81 657.5h1.1M81 658.5h1.1M81 659.5h1.1M81 660.5h1.1M81 661.5h1.1M81 662.5h1.1M81 663.5h1.1M81 664.5h1.1M81 665.5h1.1M81 666.5h1.1M81 668.5h1.1M81 670.5h1.1M81 672.5h1.1M81 676.5h1.1M81 695.5h1.1M82 630.5h1.1M82 633.5h1.1M82 634.5h1.1M82 637.5h1.1M82 639.5h1.1M82 640.5h1.1M82 641.5h1.1M82 642.5h1.1M82 643.5h1.1M82 644.5h1.1M82 645.5h1.1M82 646.5h1.1M82 647.5h1.1M82 648.5h1.1M82 649.5h1.1M82 650.5h1.1M82 651.5h1.1M82 652.5h1.1M82 653.5h1.1M82 654.5h1.1M82 655.5h1.1M82 656.5h1.1M82 657.5h1.1M82 658.5h1.1M82 659.5h1.1M82 660.5h1.1M82 661.5h1.1M82 662.5h1.1M82 663.5h1.1M82 665.5h1.1M82 666.5h1.1M82 667.5h1.1M82 668.5h1.1M82 672.5h1.1M82 678.5h1.1M82 688.5h1.1M83 629.5h1.1M83 637.5h1.1M83 638.5h1.1M83 639.5h1.1M83 642.5h1.1M83 643.5h1.1M83 644.5h1.1M83 645.5h1.1M83 646.5h1.1M83 647.5h1.1M83 648.5h1.1M83 649.5h1.1M83 650.5h1.1M83 651.5h1.1M83 652.5h1.1M83 653.5h1.1M83 654.5h1.1M83 655.5h1.1M83 656.5h1.1M83 657.5h1.1M83 658.5h1.1M83 659.5h1.1M83 660.5h1.1M83 662.5h1.1M83 663.5h1.1M83 664.5h1.1M83 665.5h1.1M83 668.5h1.1M83 671.5h1.1M83 673.5h1.1M84 631.5h1.1M84 637.5h1.1M84 638.5h1.1M84 639.5h1.1M84 640.5h1.1M84 641.5h1.1M84 642.5h1.1M84 644.5h1.1M84 646.5h1.1M84 647.5h1.1M84 648.5h1.1M84 649.5h1.1M84 650.5h1.1M84 651.5h1.1M84 652.5h1.1M84 653.5h1.1M84 654.5h1.1M84 655.5h1.1M84 656.5h1.1M84 657.5h1.1M84 658.5h1.1M84 659.5h1.1M84 660.5h1.1M84 661.5h1.1M84 662.5h1.1M84 663.5h1.1M84 664.5h1.1M84 665.5h1.1M84 666.5h1.1M84 671.5h1.1M85 639.5h1.1M85 641.5h1.1M85 642.5h1.1M85 643.5h1.1M85 644.5h1.1M85 646.5h1.1M85 649.5h1.1M85 650.5h1.1M85 651.5h1.1M85 652.5h1.1M85 653.5h1.1M85 654.5h1.1M85 655.5h1.1M85 656.5h1.1M85 657.5h1.1M85 659.5h1.1M85 660.5h1.1M85 661.5h1.1M85 663.5h1.1M85 667.5h1.1M85 668.5h1.1M85 669.5h1.1M85 672.5h1.1M86 629.5h1.1M86 637.5h1.1M86 638.5h1.1M86 640.5h1.1M86 641.5h1.1M86 643.5h1.1M86 644.5h1.1M86 645.5h1.1M86 647.5h1.1M86 648.5h1.1M86 649.5h1.1M86 650.5h1.1M86 651.5h1.1M86 653.5h1.1M86 654.5h1.1M86 655.5h1.1M86 656.5h1.1M86 657.5h1.1M86 658.5h1.1M86 660.5h1.1M86 661.5h1.1M86 662.5h1.1M86 664.5h1.1M87 632.5h1.1M87 635.5h1.1M87 636.5h1.1M87 637.5h1.1M87 638.5h1.1M87 639.5h1.1M87 641.5h1.1M87 642.5h1.1M87 644.5h1.1M87 646.5h1.1M87 647.5h1.1M87 648.5h1.1M87 649.5h1.1M87 650.5h1.1M87 651.5h1.1M87 652.5h1.1M87 653.5h1.1M87 654.5h1.1M87 656.5h1.1M87 657.5h1.1M87 658.5h1.1M87 664.5h1.1M87 666.5h1.1M88 631.5h1.1M88 632.5h1.1M88 634.5h1.1M88 636.5h1.1M88 637.5h1.1M88 639.5h1.1M88 640.5h1.1M88 641.5h1.1M88 642.5h1.1M88 643.5h1.1M88 644.5h1.1M88 645.5h1.1M88 646.5h1.1M88 647.5h1.1M88 648.5h1.1M88 649.5h1.1M88 650.5h1.1M88 651.5h1.1M88 652.5h1.1M88 653.5h1.1M88 654.5h1.1M88 655.5h1.1M88 656.5h1.1M88 657.5h1.1M88 659.5h1.1M88 660.5h1.1M88 661.5h1.1M88 664.5h1.1M89 631.5h1.1M89 637.5h1.1M89 638.5h1.1M89 639.5h1.1M89 640.5h1.1M89 641.5h1.1M89 642.5h1.1M89 644.5h1.1M89 645.5h1.1M89 647.5h1.1M89 648.5h1.1M89 649.5h1.1M89 650.5h1.1M89 651.5h1.1M89 652.5h1.1M89 653.5h1.1M89 657.5h1.1M89 658.5h1.1M89 660.5h1.1M89 662.5h1.1M89 664.5h1.1M89 677.5h1.1M90 629.5h1.1M90 633.5h1.1M90 639.5h1.1M90 640.5h1.1M90 641.5h1.1M90 642.5h1.1M90 644.5h1.1M90 645.5h1.1M90 646.5h1.1M90 647.5h1.1M90 648.5h1.1M90 649.5h1.1M90 650.5h1.1M90 651.5h1.1M90 652.5h1.1M90 653.5h1.1M90 654.5h1.1M90 655.5h1.1M90 660.5h1.1M90 662.5h1.1M90 666.5h1.1M91 630.5h1.1M91 631.5h1.1M91 633.5h1.1M91 636.5h1.1M91 638.5h1.1M91 639.5h1.1M91 642.5h1.1M91 643.5h1.1M91 644.5h1.1M91 645.5h1.1M91 646.5h1.1M91 647.5h1.1M91 649.5h1.1M91 650.5h1.1M91 654.5h1.1M91 655.5h1.1M91 656.5h1.1M91 658.5h1.1M91 659.5h1.1M91 661.5h1.1M92 630.5h1.1M92 633.5h1.1M92 634.5h1.1M92 638.5h1.1M92 639.5h1.1M92 640.5h1.1M92 641.5h1.1M92 644.5h1.1M92 645.5h1.1M92 646.5h1.1M92 648.5h1.1M92 649.5h1.1M92 651.5h1.1M92 652.5h1.1M92 655.5h1.1M92 659.5h1.1M92 663.5h1.1M92 665.5h1.1M93 636.5h1.1M93 637.5h1.1M93 638.5h1.1M93 639.5h1.1M93 641.5h1.1M93 642.5h1.1M93 643.5h1.1M93 644.5h1.1M93 647.5h1.1M93 648.5h1.1M93 649.5h1.1M93 650.5h1.1M93 651.5h1.1M93 653.5h1.1M93 655.5h1.1M93 657.5h1.1M93 664.5h1.1M94 638.5h1.1M94 640.5h1.1M94 642.5h1.1M94 645.5h1.1M94 648.5h1.1M94 649.5h1.1M94 650.5h1.1M94 652.5h1.1M94 653.5h1.1M94 654.5h1.1M94 656.5h1.1M94 657.5h1.1M95 640.5h1.1M95 641.5h1.1M95 642.5h1.1M95 645.5h1.1M95 646.5h1.1M95 647.5h1.1M95 648.5h1.1M95 651.5h1.1M95 654.5h1.1M95 656.5h1.1M95 657.5h1.1M96 630.5h1.1M96 631.5h1.1M96 638.5h1.1M96 643.5h1.1M96 644.5h1.1M96 646.5h1.1M96 648.5h1.1M96 654.5h1.1M96 661.5h1.1M97 629.5h1.1M97 630.5h1.1M97 636.5h1.1M97 637.5h1.1M97 641.5h1.1M97 642.5h1.1M97 643.5h1.1M97 644.5h1.1M97 645.5h1.1M97 646.5h1.1M97 647.5h1.1M97 649.5h1.1M97 651.5h1.1M98 631.5h1.1M98 634.5h1.1M98 641.5h1.1M98 642.5h1.1M98 645.5h1.1M98 646.5h1.1M98 647.5h1.1M98 650.5h1.1M98 653.5h1.1M98 654.5h1.1M98 659.5h1.1M99 630.5h1.1M99 636.5h1.1M99 637.5h1.1M99 639.5h1.1M99 640.5h1.1M99 641.5h1.1M99 642.5h1.1M99 644.5h1.1M99 645.5h1.1M99 646.5h1.1M99 647.5h1.1M99 648.5h1.1M99 650.5h1.1M99 653.5h1.1M99 656.5h1.1M99 658.5h1.1M100 630.5h1.1M100 633.5h1.1M100 634.5h1.1M100 637.5h1.1M100 639.5h1.1M100 642.5h1.1M100 646.5h1.1M100 647.5h1.1M100 656.5h1.1M101 629.5h1.1M101 631.5h1.1M101 633.5h1.1M101 636.5h1.1M101 637.5h1.1M101 641.5h1.1M101 643.5h1.1M101 652.5h1.1M102 639.5h1.1M102 644.5h1.1M102 648.5h1.1M103 633.5h1.1M103 637.5h1.1M103 638.5h1.1M103 643.5h1.1M103 644.5h1.1M104 633.5h1.1M104 634.5h1.1M104 635.5h1.1M104 647.5h1.1M105 629.5h1.1M105 635.5h1.1M105 638.5h1.1M105 642.5h1.1M105 645.5h1.1M106 636.5h1.1M107 632.5h1.1M107 636.5h1.1M107 646.5h1.1M113 629.5h1.1M113 640.5h1.1M114 636.5h1.1M114 648.5h1.1M120 640.5h1.1" stroke="#ff0000" stroke-width="1.1" fill="none" filter="url(#soft)"/><path d="M57 599.5h1.1M57 605.5h1.1M57 612.5h1.1M58 603.5h1.1M58 606.5h1.1M58 610.5h1.1M58 611.5h1.1M59 606.5h1.1M59 607.5h1.1M59 608.5h1.1M59 613.5h1.1M59 614.5h1.1M59 617.5h1.1M59 618.5h1.1M59 625.5h1.1M60 607.5h1.1M60 608.5h1.1M60 613.5h1.1M60 618.5h1.1M61 599.5h1.1M61 605.5h1.1M61 606.5h1.1M61 609.5h1.1M61 610.5h1.1M61 613.5h1.1M61 621.5h1.1M62 600.5h1.1M62 601.5h1.1M62 603.5h1.1M62 604.5h1.1M62 605.5h1.1M62 606.5h1.1M62 609.5h1.1M62 611.5h1.1M62 613.5h1.1M62 615.5h1.1M62 617.5h1.1M62 622.5h1.1M63 597.5h1.1M63 602.5h1.1M63 603.5h1.1M63 607.5h1.1M63 609.5h1.1M63 610.5h1.1M63 612.5h1.1M63 615.5h1.1M63 616.5h1.1M63 617.5h1.1M64 600.5h1.1M64 601.5h1.1M64 602.5h1.1M64 604.5h1.1M64 606.5h1.1M64 608.5h1.1M64 611.5h1.1M64 614.5h1.1M64 616.5h1.1M65 595.5h1.1M65 598.5h1.1M65 600.5h1.1M65 603.5h1.1M65 605.5h1.1M65 607.5h1.1M65 608.5h1.1M65 609.5h1.1M65 611.5h1.1M65 613.5h1.1M65 614.5h1.1M66 608.5h1.1M66 612.5h1.1M66 615.5h1.1M66 617.5h1.1M66 622.5h1.1M67 595.5h1.1M67 597.5h1.1M67 600.5h1.1M67 601.5h1.1M67 608.5h1.1M67 611.5h1.1M67 612.5h1.1M67 617.5h1.1M67 618.5h1.1M67 620.5h1.1M68 599.5h1.1M68 601.5h1.1M68 603.5h1.1M68 604.5h1.1M68 605.5h1.1M68 607.5h1.1M68 608.5h1.1M68 610.5h1.1M68 611.5h1.1M68 613.5h1.1M68 616.5h1.1M68 617.5h1.1M68 621.5h1.1M69 599.5h1.1M69 606.5h1.1M69 607.5h1.1M69 608.5h1.1M69 609.5h1.1M69 610.5h1.1M69 611.5h1.1M70 600.5h1.1M70 603.5h1.1M70 605.5h1.1M70 607.5h1.1M70 608.5h1.1M70 609.5h1.1M70 610.5h1.1M70 611.5h1.1M70 612.5h1.1M70 615.5h1.1M70 616.5h1.1M70 618.5h1.1M70 620.5h1.1M71 601.5h1.1M71 602.5h1.1M71 603.5h1.1M71 604.5h1.1M71 607.5h1.1M71 608.5h1.1M71 609.5h1.1M71 613.5h1.1M71 615.5h1.1M71 616.5h1.1M71 618.5h1.1M71 620.5h1.1M71 621.5h1.1M71 625.5h1.1M72 597.5h1.1M72 603.5h1.1M72 605.5h1.1M72 606.5h1.1M72 607.5h1.1M72 613.5h1.1M72 617.5h1.1M72 618.5h1.1M73 594.5h1.1M73 595.5h1.1M73 597.5h1.1M73 606.5h1.1M73 607.5h1.1M73 609.5h1.1M73 614.5h1.1M73 616.5h1.1M74 602.5h1.1M74 604.5h1.1M74 605.5h1.1M74 611.5h1.1M74 615.5h1.1M75 599.5h1.1M75 600.5h1.1M75 602.5h1.1M75 603.5h1.1M75 607.5h1.1M75 610.5h1.1M75 611.5h1.1M75 612.5h1.1M76 597.5h1.1M76 605.5h1.1M76 606.5h1.1M76 607.5h1.1M76 608.5h1.1M76 609.5h1.1M76 610.5h1.1M76 611.5h1.1M76 612.5h1.1M76 614.5h1.1M76 620.5h1.1M76 622.5h1.1M77 602.5h1.1M77 604.5h1.1M77 606.5h1.1M77 607.5h1.1M77 609.5h1.1M77 612.5h1.1M77 618.5h1.1M78 593.5h1.1M78 604.5h1.1M78 611.5h1.1M78 612.5h1.1M78 614.5h1.1M79 597.5h1.1M79 598.5h1.1M79 601.5h1.1M79 605.5h1.1M79 606.5h1.1M79 608.5h1.1M79 610.5h1.1M79 612.5h1.1M79 614.5h1.1M79 615.5h1.1M79 616.5h1.1M80 601.5h1.1M80 606.5h1.1M80 613.5h1.1M80 615.5h1.1M81 598.5h1.1M81 603.5h1.1M81 605.5h1.1M81 606.5h1.1M81 607.5h1.1M81 614.5h1.1M81 615.5h1.1M81 618.5h1.1M81 623.5h1.1M82 596.5h1.1M82 601.5h1.1M82 603.5h1.1M82 604.5h1.1M82 608.5h1.1M82 615.5h1.1M83 598.5h1.1M83 601.5h1.1M83 602.5h1.1M83 606.5h1.1M83 609.5h1.1M83 610.5h1.1M83 611.5h1.1M83 612.5h1.1M83 617.5h1.1M84 602.5h1.1M84 604.5h1.1M84 608.5h1.1M84 616.5h1.1M84 619.5h1.1M85 602.5h1.1M85 611.5h1.1M85 618.5h1.1M86 600.5h1.1M86 606.5h1.1M86 607.5h1.1M86 610.5h1.1M86 617.5h1.1M86 618.5h1.1M87 596.5h1.1M87 611.5h1.1M87 617.5h1.1M88 599.5h1.1M88 611.5h1.1M88 612.5h1.1M88 616.5h1.1M89 601.5h1.1M89 609.5h1.1M89 613.5h1.1M89 614.5h1.1M90 601.5h1.1M90 608.5h1.1M90 611.5h1.1M90 616.5h1.1M90 617.5h1.1M91 606.5h1.1M93 604.5h1.1M94 597.5h1.1M94 602.5h1.1M94 606.5h1.1M94 615.5h1.1M99 607.5h1.1M101 612.5h1.1M103 610.5h1.1" stroke="#22ee22" stroke-width="1.1" fill="none" filter="url(#soft)"/><rect x="56.6" y="590.9" width="56.7" height="37.3" fill="none" stroke="#222" stroke-width="1.4"/><text x="83.2" y="612.7" font-size="9.4" fill="#222">P2</text><rect x="83.10" y="588.90" width="0.90" height="1.80" fill="#333"/><rect x="109.80" y="589.50" width="4.20" height="1.60" fill="#111" rx="0.8"/><line x1="56.6" y1="590.8" x2="113.3" y2="590.8" stroke="#111" stroke-width="1.6"/><line x1="56.6" y1="590.5" x2="56.6" y2="699.1" stroke="#111" stroke-width="1.4"/><line x1="56.6" y1="699.1" x2="177.3" y2="699.1" stroke="#333" stroke-width="1.7"/><line x1="53.0" y1="601.7" x2="56.6" y2="601.7" stroke="#222" stroke-width="1.0"/><line x1="54.2" y1="593.4" x2="56.6" y2="593.4" stroke="#222" stroke-width="0.85"/><g transform="translate(52.3,603.2) rotate(-90)"><text x="0" y="0" font-size="6.4" text-anchor="middle" fill="#000" stroke="#000" stroke-width="0.15">10</text><text x="3.6" y="-3.4" font-size="5.0" fill="#000" stroke="#000" stroke-width="0.1">5</text></g><line x1="53.0" y1="628.5" x2="56.6" y2="628.5" stroke="#222" stroke-width="1.0"/><line x1="54.2" y1="620.2" x2="56.6" y2="620.2" stroke="#222" stroke-width="0.85"/><line x1="54.2" y1="615.4" x2="56.6" y2="615.4" stroke="#222" stroke-width="0.85"/><line x1="54.2" y1="611.9" x2="56.6" y2="611.9" stroke="#222" stroke-width="0.85"/><line x1="54.2" y1="609.3" x2="56.6" y2="609.3" stroke="#222" stroke-width="0.85"/><line x1="54.2" y1="607.1" x2="56.6" y2="607.1" stroke="#222" stroke-width="0.85"/><line x1="54.2" y1="605.3" x2="56.6" y2="605.3" stroke="#222" stroke-width="0.85"/><line x1="54.2" y1="603.7" x2="56.6" y2="603.7" stroke="#222" stroke-width="0.85"/><line x1="54.2" y1="602.3" x2="56.6" y2="602.3" stroke="#222" stroke-width="0.85"/><g transform="translate(52.3,630.0) rotate(-90)"><text x="0" y="0" font-size="6.4" text-anchor="middle" fill="#000" stroke="#000" stroke-width="0.15">10</text><text x="3.6" y="-3.4" font-size="5.0" fill="#000" stroke="#000" stroke-width="0.1">4</text></g><line x1="53.0" y1="656.0" x2="56.6" y2="656.0" stroke="#222" stroke-width="1.0"/><line x1="54.2" y1="647.7" x2="56.6" y2="647.7" stroke="#222" stroke-width="0.85"/><line x1="54.2" y1="642.9" x2="56.6" y2="642.9" stroke="#222" stroke-width="0.85"/><line x1="54.2" y1="639.4" x2="56.6" y2="639.4" stroke="#222" stroke-width="0.85"/><line x1="54.2" y1="636.8" x2="56.6" y2="636.8" stroke="#222" stroke-width="0.85"/><line x1="54.2" y1="634.6" x2="56.6" y2="634.6" stroke="#222" stroke-width="0.85"/><line x1="54.2" y1="632.8" x2="56.6" y2="632.8" stroke="#222" stroke-width="0.85"/><line x1="54.2" y1="631.2" x2="56.6" y2="631.2" stroke="#222" stroke-width="0.85"/><line x1="54.2" y1="629.8" x2="56.6" y2="629.8" stroke="#222" stroke-width="0.85"/><g transform="translate(52.3,657.5) rotate(-90)"><text x="0" y="0" font-size="6.4" text-anchor="middle" fill="#000" stroke="#000" stroke-width="0.15">10</text><text x="3.6" y="-3.4" font-size="5.0" fill="#000" stroke="#000" stroke-width="0.1">3</text></g><line x1="53.0" y1="683.5" x2="56.6" y2="683.5" stroke="#222" stroke-width="1.0"/><line x1="54.2" y1="675.2" x2="56.6" y2="675.2" stroke="#222" stroke-width="0.85"/><line x1="54.2" y1="670.4" x2="56.6" y2="670.4" stroke="#222" stroke-width="0.85"/><line x1="54.2" y1="666.9" x2="56.6" y2="666.9" stroke="#222" stroke-width="0.85"/><line x1="54.2" y1="664.3" x2="56.6" y2="664.3" stroke="#222" stroke-width="0.85"/><line x1="54.2" y1="662.1" x2="56.6" y2="662.1" stroke="#222" stroke-width="0.85"/><line x1="54.2" y1="660.3" x2="56.6" y2="660.3" stroke="#222" stroke-width="0.85"/><line x1="54.2" y1="658.7" x2="56.6" y2="658.7" stroke="#222" stroke-width="0.85"/><line x1="54.2" y1="657.3" x2="56.6" y2="657.3" stroke="#222" stroke-width="0.85"/><g transform="translate(52.3,685.0) rotate(-90)"><text x="0" y="0" font-size="6.4" text-anchor="middle" fill="#000" stroke="#000" stroke-width="0.15">10</text><text x="3.6" y="-3.4" font-size="5.0" fill="#000" stroke="#000" stroke-width="0.1">2</text></g><line x1="54.2" y1="697.9" x2="56.6" y2="697.9" stroke="#222" stroke-width="0.85"/><line x1="54.2" y1="694.4" x2="56.6" y2="694.4" stroke="#222" stroke-width="0.85"/><line x1="54.2" y1="691.8" x2="56.6" y2="691.8" stroke="#222" stroke-width="0.85"/><line x1="54.2" y1="689.6" x2="56.6" y2="689.6" stroke="#222" stroke-width="0.85"/><line x1="54.2" y1="687.8" x2="56.6" y2="687.8" stroke="#222" stroke-width="0.85"/><line x1="54.2" y1="686.2" x2="56.6" y2="686.2" stroke="#222" stroke-width="0.85"/><line x1="54.2" y1="684.8" x2="56.6" y2="684.8" stroke="#222" stroke-width="0.85"/><line x1="73.2" y1="699.1" x2="73.2" y2="703.9" stroke="#222" stroke-width="1.0"/><line x1="82.4" y1="699.1" x2="82.4" y2="702.7" stroke="#222" stroke-width="0.85"/><line x1="87.8" y1="699.1" x2="87.8" y2="702.7" stroke="#222" stroke-width="0.85"/><line x1="91.6" y1="699.1" x2="91.6" y2="702.7" stroke="#222" stroke-width="0.85"/><line x1="94.5" y1="699.1" x2="94.5" y2="702.7" stroke="#222" stroke-width="0.85"/><line x1="96.9" y1="699.1" x2="96.9" y2="702.7" stroke="#222" stroke-width="0.85"/><line x1="99.0" y1="699.1" x2="99.0" y2="702.7" stroke="#222" stroke-width="0.85"/><line x1="100.7" y1="699.1" x2="100.7" y2="702.7" stroke="#222" stroke-width="0.85"/><line x1="102.3" y1="699.1" x2="102.3" y2="702.7" stroke="#222" stroke-width="0.85"/><text x="69.6" y="713.3" font-size="6.4" fill="#000" stroke="#000" stroke-width="0.15">10</text><text x="76.2" y="708.9" font-size="5.0" fill="#000" stroke="#000" stroke-width="0.1">2</text><line x1="104.0" y1="699.1" x2="104.0" y2="703.9" stroke="#222" stroke-width="1.0"/><line x1="113.2" y1="699.1" x2="113.2" y2="702.7" stroke="#222" stroke-width="0.85"/><line x1="118.6" y1="699.1" x2="118.6" y2="702.7" stroke="#222" stroke-width="0.85"/><line x1="122.4" y1="699.1" x2="122.4" y2="702.7" stroke="#222" stroke-width="0.85"/><line x1="125.3" y1="699.1" x2="125.3" y2="702.7" stroke="#222" stroke-width="0.85"/><line x1="127.7" y1="699.1" x2="127.7" y2="702.7" stroke="#222" stroke-width="0.85"/><line x1="129.8" y1="699.1" x2="129.8" y2="702.7" stroke="#222" stroke-width="0.85"/><line x1="131.5" y1="699.1" x2="131.5" y2="702.7" stroke="#222" stroke-width="0.85"/><line x1="133.1" y1="699.1" x2="133.1" y2="702.7" stroke="#222" stroke-width="0.85"/><text x="100.4" y="713.3" font-size="6.4" fill="#000" stroke="#000" stroke-width="0.15">10</text><text x="107.0" y="708.9" font-size="5.0" fill="#000" stroke="#000" stroke-width="0.1">3</text><line x1="133.8" y1="699.1" x2="133.8" y2="703.9" stroke="#222" stroke-width="1.0"/><line x1="143.0" y1="699.1" x2="143.0" y2="702.7" stroke="#222" stroke-width="0.85"/><line x1="148.4" y1="699.1" x2="148.4" y2="702.7" stroke="#222" stroke-width="0.85"/><line x1="152.2" y1="699.1" x2="152.2" y2="702.7" stroke="#222" stroke-width="0.85"/><line x1="155.1" y1="699.1" x2="155.1" y2="702.7" stroke="#222" stroke-width="0.85"/><line x1="157.5" y1="699.1" x2="157.5" y2="702.7" stroke="#222" stroke-width="0.85"/><line x1="159.6" y1="699.1" x2="159.6" y2="702.7" stroke="#222" stroke-width="0.85"/><line x1="161.3" y1="699.1" x2="161.3" y2="702.7" stroke="#222" stroke-width="0.85"/><line x1="162.9" y1="699.1" x2="162.9" y2="702.7" stroke="#222" stroke-width="0.85"/><text x="130.2" y="713.3" font-size="6.4" fill="#000" stroke="#000" stroke-width="0.15">10</text><text x="136.8" y="708.9" font-size="5.0" fill="#000" stroke="#000" stroke-width="0.1">4</text><line x1="164.8" y1="699.1" x2="164.8" y2="703.9" stroke="#222" stroke-width="1.0"/><line x1="174.0" y1="699.1" x2="174.0" y2="702.7" stroke="#222" stroke-width="0.85"/><text x="161.2" y="713.3" font-size="6.4" fill="#000" stroke="#000" stroke-width="0.15">10</text><text x="167.8" y="708.9" font-size="5.0" fill="#000" stroke="#000" stroke-width="0.1">5</text><line x1="57.3" y1="699.1" x2="57.3" y2="702.7" stroke="#222" stroke-width="0.85"/><line x1="61.1" y1="699.1" x2="61.1" y2="702.7" stroke="#222" stroke-width="0.85"/><line x1="64.0" y1="699.1" x2="64.0" y2="702.7" stroke="#222" stroke-width="0.85"/><line x1="66.4" y1="699.1" x2="66.4" y2="702.7" stroke="#222" stroke-width="0.85"/><line x1="68.5" y1="699.1" x2="68.5" y2="702.7" stroke="#222" stroke-width="0.85"/><line x1="70.2" y1="699.1" x2="70.2" y2="702.7" stroke="#222" stroke-width="0.85"/><line x1="71.8" y1="699.1" x2="71.8" y2="702.7" stroke="#222" stroke-width="0.85"/><text x="140.8" y="612.8" font-size="11.0" font-weight="bold">3.5%</text><text x="108.9" y="724.4" font-size="9.6" text-anchor="middle" fill="#111">control</text><rect x="219.00" y="590.30" width="121.20" height="108.90" fill="#fff" stroke="#8a8a8a" stroke-width="0.9"/><path d="M220 644.5h1.1M220 648.5h1.1M220 649.5h1.1M220 654.5h1.1M220 655.5h1.1M220 656.5h1.1M220 658.5h1.1M220 659.5h1.1M220 660.5h1.1M220 661.5h1.1M220 662.5h1.1M220 663.5h1.1M220 664.5h1.1M220 665.5h1.1M220 666.5h1.1M220 667.5h1.1M220 670.5h1.1M220 671.5h1.1M220 672.5h1.1M220 673.5h1.1M220 674.5h1.1M220 675.5h1.1M220 676.5h1.1M220 678.5h1.1M220 679.5h1.1M220 680.5h1.1M220 681.5h1.1M220 682.5h1.1M220 684.5h1.1M220 685.5h1.1M220 689.5h1.1M220 691.5h1.1M221 635.5h1.1M221 646.5h1.1M221 648.5h1.1M221 649.5h1.1M221 652.5h1.1M221 653.5h1.1M221 654.5h1.1M221 657.5h1.1M221 659.5h1.1M221 660.5h1.1M221 661.5h1.1M221 662.5h1.1M221 664.5h1.1M221 665.5h1.1M221 666.5h1.1M221 667.5h1.1M221 668.5h1.1M221 669.5h1.1M221 670.5h1.1M221 671.5h1.1M221 672.5h1.1M221 673.5h1.1M221 674.5h1.1M221 675.5h1.1M221 676.5h1.1M221 677.5h1.1M221 678.5h1.1M221 679.5h1.1M221 680.5h1.1M221 681.5h1.1M221 683.5h1.1M221 684.5h1.1M221 686.5h1.1M221 687.5h1.1M221 688.5h1.1M221 690.5h1.1M222 632.5h1.1M222 635.5h1.1M222 637.5h1.1M222 639.5h1.1M222 644.5h1.1M222 646.5h1.1M222 647.5h1.1M222 648.5h1.1M222 649.5h1.1M222 652.5h1.1M222 653.5h1.1M222 655.5h1.1M222 656.5h1.1M222 657.5h1.1M222 658.5h1.1M222 660.5h1.1M222 661.5h1.1M222 663.5h1.1M222 664.5h1.1M222 665.5h1.1M222 666.5h1.1M222 667.5h1.1M222 668.5h1.1M222 669.5h1.1M222 670.5h1.1M222 671.5h1.1M222 672.5h1.1M222 673.5h1.1M222 674.5h1.1M222 675.5h1.1M222 676.5h1.1M222 677.5h1.1M222 678.5h1.1M222 679.5h1.1M222 680.5h1.1M222 681.5h1.1M222 682.5h1.1M222 685.5h1.1M222 688.5h1.1M222 689.5h1.1M222 693.5h1.1M223 635.5h1.1M223 642.5h1.1M223 643.5h1.1M223 647.5h1.1M223 649.5h1.1M223 652.5h1.1M223 653.5h1.1M223 654.5h1.1M223 655.5h1.1M223 656.5h1.1M223 657.5h1.1M223 658.5h1.1M223 659.5h1.1M223 660.5h1.1M223 661.5h1.1M223 662.5h1.1M223 663.5h1.1M223 664.5h1.1M223 666.5h1.1M223 667.5h1.1M223 668.5h1.1M223 669.5h1.1M223 670.5h1.1M223 671.5h1.1M223 672.5h1.1M223 673.5h1.1M223 674.5h1.1M223 676.5h1.1M223 677.5h1.1M223 678.5h1.1M223 679.5h1.1M223 680.5h1.1M223 682.5h1.1M223 683.5h1.1M224 631.5h1.1M224 639.5h1.1M224 644.5h1.1M224 648.5h1.1M224 650.5h1.1M224 651.5h1.1M224 652.5h1.1M224 653.5h1.1M224 654.5h1.1M224 655.5h1.1M224 656.5h1.1M224 657.5h1.1M224 658.5h1.1M224 659.5h1.1M224 660.5h1.1M224 661.5h1.1M224 663.5h1.1M224 664.5h1.1M224 665.5h1.1M224 666.5h1.1M224 667.5h1.1M224 668.5h1.1M224 669.5h1.1M224 670.5h1.1M224 671.5h1.1M224 672.5h1.1M224 673.5h1.1M224 674.5h1.1M224 675.5h1.1M224 676.5h1.1M224 677.5h1.1M224 678.5h1.1M224 679.5h1.1M224 681.5h1.1M224 683.5h1.1M224 690.5h1.1M225 629.5h1.1M225 631.5h1.1M225 635.5h1.1M225 638.5h1.1M225 639.5h1.1M225 645.5h1.1M225 646.5h1.1M225 647.5h1.1M225 649.5h1.1M225 650.5h1.1M225 651.5h1.1M225 652.5h1.1M225 653.5h1.1M225 654.5h1.1M225 655.5h1.1M225 656.5h1.1M225 657.5h1.1M225 658.5h1.1M225 659.5h1.1M225 660.5h1.1M225 661.5h1.1M225 662.5h1.1M225 663.5h1.1M225 664.5h1.1M225 665.5h1.1M225 666.5h1.1M225 667.5h1.1M225 668.5h1.1M225 669.5h1.1M225 670.5h1.1M225 671.5h1.1M225 672.5h1.1M225 673.5h1.1M225 674.5h1.1M225 675.5h1.1M225 677.5h1.1M225 678.5h1.1M225 679.5h1.1M225 680.5h1.1M225 682.5h1.1M225 683.5h1.1M225 684.5h1.1M225 685.5h1.1M225 687.5h1.1M226 633.5h1.1M226 640.5h1.1M226 641.5h1.1M226 643.5h1.1M226 644.5h1.1M226 647.5h1.1M226 648.5h1.1M226 650.5h1.1M226 651.5h1.1M226 652.5h1.1M226 653.5h1.1M226 654.5h1.1M226 655.5h1.1M226 656.5h1.1M226 657.5h1.1M226 658.5h1.1M226 659.5h1.1M226 660.5h1.1M226 661.5h1.1M226 662.5h1.1M226 663.5h1.1M226 664.5h1.1M226 666.5h1.1M226 668.5h1.1M226 669.5h1.1M226 670.5h1.1M226 671.5h1.1M226 672.5h1.1M226 673.5h1.1M226 674.5h1.1M226 676.5h1.1M226 677.5h1.1M226 678.5h1.1M226 680.5h1.1M226 682.5h1.1M226 684.5h1.1M227 637.5h1.1M227 644.5h1.1M227 645.5h1.1M227 647.5h1.1M227 648.5h1.1M227 649.5h1.1M227 650.5h1.1M227 651.5h1.1M227 652.5h1.1M227 653.5h1.1M227 654.5h1.1M227 655.5h1.1M227 656.5h1.1M227 657.5h1.1M227 658.5h1.1M227 659.5h1.1M227 660.5h1.1M227 661.5h1.1M227 662.5h1.1M227 663.5h1.1M227 664.5h1.1M227 665.5h1.1M227 666.5h1.1M227 667.5h1.1M227 668.5h1.1M227 669.5h1.1M227 670.5h1.1M227 671.5h1.1M227 672.5h1.1M227 673.5h1.1M227 674.5h1.1M227 675.5h1.1M227 676.5h1.1M227 677.5h1.1M227 678.5h1.1M227 680.5h1.1M227 682.5h1.1M227 685.5h1.1M227 686.5h1.1M227 688.5h1.1M228 639.5h1.1M228 641.5h1.1M228 642.5h1.1M228 643.5h1.1M228 644.5h1.1M228 645.5h1.1M228 646.5h1.1M228 647.5h1.1M228 648.5h1.1M228 649.5h1.1M228 650.5h1.1M228 651.5h1.1M228 652.5h1.1M228 653.5h1.1M228 654.5h1.1M228 655.5h1.1M228 656.5h1.1M228 657.5h1.1M228 658.5h1.1M228 659.5h1.1M228 660.5h1.1M228 661.5h1.1M228 662.5h1.1M228 663.5h1.1M228 664.5h1.1M228 665.5h1.1M228 666.5h1.1M228 667.5h1.1M228 668.5h1.1M228 669.5h1.1M228 670.5h1.1M228 671.5h1.1M228 672.5h1.1M228 673.5h1.1M228 674.5h1.1M228 675.5h1.1M228 676.5h1.1M228 677.5h1.1M228 678.5h1.1M228 680.5h1.1M228 681.5h1.1M228 682.5h1.1M228 685.5h1.1M229 628.5h1.1M229 632.5h1.1M229 640.5h1.1M229 641.5h1.1M229 642.5h1.1M229 643.5h1.1M229 645.5h1.1M229 646.5h1.1M229 647.5h1.1M229 648.5h1.1M229 649.5h1.1M229 650.5h1.1M229 651.5h1.1M229 652.5h1.1M229 653.5h1.1M229 655.5h1.1M229 656.5h1.1M229 658.5h1.1M229 659.5h1.1M229 660.5h1.1M229 661.5h1.1M229 662.5h1.1M229 663.5h1.1M229 664.5h1.1M229 665.5h1.1M229 666.5h1.1M229 667.5h1.1M229 668.5h1.1M229 669.5h1.1M229 670.5h1.1M229 671.5h1.1M229 672.5h1.1M229 673.5h1.1M229 674.5h1.1M229 675.5h1.1M229 681.5h1.1M229 689.5h1.1M230 639.5h1.1M230 642.5h1.1M230 644.5h1.1M230 646.5h1.1M230 647.5h1.1M230 648.5h1.1M230 649.5h1.1M230 650.5h1.1M230 651.5h1.1M230 652.5h1.1M230 653.5h1.1M230 654.5h1.1M230 655.5h1.1M230 656.5h1.1M230 658.5h1.1M230 659.5h1.1M230 660.5h1.1M230 661.5h1.1M230 662.5h1.1M230 663.5h1.1M230 664.5h1.1M230 665.5h1.1M230 666.5h1.1M230 667.5h1.1M230 668.5h1.1M230 669.5h1.1M230 670.5h1.1M230 671.5h1.1M230 672.5h1.1M230 673.5h1.1M230 674.5h1.1M230 676.5h1.1M230 677.5h1.1M230 678.5h1.1M230 679.5h1.1M230 684.5h1.1M230 687.5h1.1M230 688.5h1.1M230 693.5h1.1M231 638.5h1.1M231 639.5h1.1M231 643.5h1.1M231 644.5h1.1M231 645.5h1.1M231 646.5h1.1M231 647.5h1.1M231 648.5h1.1M231 649.5h1.1M231 650.5h1.1M231 651.5h1.1M231 652.5h1.1M231 653.5h1.1M231 654.5h1.1M231 655.5h1.1M231 656.5h1.1M231 657.5h1.1M231 658.5h1.1M231 659.5h1.1M231 660.5h1.1M231 661.5h1.1M231 662.5h1.1M231 663.5h1.1M231 664.5h1.1M231 665.5h1.1M231 666.5h1.1M231 667.5h1.1M231 668.5h1.1M231 669.5h1.1M231 670.5h1.1M231 671.5h1.1M231 672.5h1.1M231 674.5h1.1M231 676.5h1.1M231 677.5h1.1M231 680.5h1.1M231 681.5h1.1M231 682.5h1.1M231 683.5h1.1M231 684.5h1.1M231 693.5h1.1M232 633.5h1.1M232 637.5h1.1M232 639.5h1.1M232 642.5h1.1M232 643.5h1.1M232 644.5h1.1M232 645.5h1.1M232 647.5h1.1M232 648.5h1.1M232 649.5h1.1M232 651.5h1.1M232 652.5h1.1M232 653.5h1.1M232 654.5h1.1M232 655.5h1.1M232 656.5h1.1M232 658.5h1.1M232 659.5h1.1M232 660.5h1.1M232 662.5h1.1M232 663.5h1.1M232 664.5h1.1M232 665.5h1.1M232 666.5h1.1M232 667.5h1.1M232 668.5h1.1M232 669.5h1.1M232 670.5h1.1M232 671.5h1.1M232 672.5h1.1M232 673.5h1.1M232 674.5h1.1M232 675.5h1.1M232 677.5h1.1M232 678.5h1.1M232 680.5h1.1M232 683.5h1.1M232 694.5h1.1M233 633.5h1.1M233 635.5h1.1M233 638.5h1.1M233 639.5h1.1M233 642.5h1.1M233 643.5h1.1M233 644.5h1.1M233 645.5h1.1M233 646.5h1.1M233 647.5h1.1M233 648.5h1.1M233 649.5h1.1M233 650.5h1.1M233 651.5h1.1M233 652.5h1.1M233 653.5h1.1M233 654.5h1.1M233 655.5h1.1M233 656.5h1.1M233 657.5h1.1M233 658.5h1.1M233 659.5h1.1M233 660.5h1.1M233 661.5h1.1M233 662.5h1.1M233 663.5h1.1M233 664.5h1.1M233 665.5h1.1M233 666.5h1.1M233 667.5h1.1M233 668.5h1.1M233 669.5h1.1M233 670.5h1.1M233 671.5h1.1M233 672.5h1.1M233 674.5h1.1M234 629.5h1.1M234 630.5h1.1M234 632.5h1.1M234 634.5h1.1M234 638.5h1.1M234 639.5h1.1M234 640.5h1.1M234 643.5h1.1M234 644.5h1.1M234 646.5h1.1M234 647.5h1.1M234 649.5h1.1M234 650.5h1.1M234 652.5h1.1M234 653.5h1.1M234 654.5h1.1M234 655.5h1.1M234 656.5h1.1M234 657.5h1.1M234 658.5h1.1M234 659.5h1.1M234 660.5h1.1M234 661.5h1.1M234 662.5h1.1M234 663.5h1.1M234 664.5h1.1M234 665.5h1.1M234 666.5h1.1M234 667.5h1.1M234 668.5h1.1M234 669.5h1.1M234 670.5h1.1M234 671.5h1.1M234 672.5h1.1M234 673.5h1.1M234 674.5h1.1M234 675.5h1.1M234 676.5h1.1M234 680.5h1.1M235 633.5h1.1M235 636.5h1.1M235 639.5h1.1M235 640.5h1.1M235 641.5h1.1M235 642.5h1.1M235 643.5h1.1M235 644.5h1.1M235 645.5h1.1M235 646.5h1.1M235 647.5h1.1M235 648.5h1.1M235 649.5h1.1M235 650.5h1.1M235 651.5h1.1M235 652.5h1.1M235 653.5h1.1M235 654.5h1.1M235 655.5h1.1M235 656.5h1.1M235 657.5h1.1M235 658.5h1.1M235 659.5h1.1M235 660.5h1.1M235 661.5h1.1M235 662.5h1.1M235 663.5h1.1M235 664.5h1.1M235 665.5h1.1M235 666.5h1.1M235 667.5h1.1M235 668.5h1.1M235 669.5h1.1M235 670.5h1.1M235 671.5h1.1M235 672.5h1.1M235 674.5h1.1M235 679.5h1.1M235 681.5h1.1M235 686.5h1.1M236 629.5h1.1M236 632.5h1.1M236 633.5h1.1M236 634.5h1.1M236 635.5h1.1M236 636.5h1.1M236 638.5h1.1M236 640.5h1.1M236 641.5h1.1M236 642.5h1.1M236 643.5h1.1M236 644.5h1.1M236 645.5h1.1M236 646.5h1.1M236 647.5h1.1M236 648.5h1.1M236 649.5h1.1M236 651.5h1.1M236 652.5h1.1M236 653.5h1.1M236 654.5h1.1M236 655.5h1.1M236 656.5h1.1M236 657.5h1.1M236 658.5h1.1M236 659.5h1.1M236 660.5h1.1M236 661.5h1.1M236 662.5h1.1M236 663.5h1.1M236 664.5h1.1M236 665.5h1.1M236 666.5h1.1M236 668.5h1.1M236 669.5h1.1M236 670.5h1.1M236 674.5h1.1M236 675.5h1.1M236 676.5h1.1M236 683.5h1.1M237 631.5h1.1M237 633.5h1.1M237 634.5h1.1M237 636.5h1.1M237 640.5h1.1M237 641.5h1.1M237 642.5h1.1M237 643.5h1.1M237 644.5h1.1M237 646.5h1.1M237 647.5h1.1M237 648.5h1.1M237 649.5h1.1M237 650.5h1.1M237 651.5h1.1M237 652.5h1.1M237 653.5h1.1M237 654.5h1.1M237 655.5h1.1M237 656.5h1.1M237 657.5h1.1M237 658.5h1.1M237 659.5h1.1M237 660.5h1.1M237 661.5h1.1M237 662.5h1.1M237 663.5h1.1M237 664.5h1.1M237 665.5h1.1M237 666.5h1.1M237 668.5h1.1M237 670.5h1.1M237 671.5h1.1M237 672.5h1.1M237 675.5h1.1M237 677.5h1.1M237 682.5h1.1M238 633.5h1.1M238 634.5h1.1M238 636.5h1.1M238 638.5h1.1M238 639.5h1.1M238 640.5h1.1M238 641.5h1.1M238 645.5h1.1M238 646.5h1.1M238 647.5h1.1M238 648.5h1.1M238 649.5h1.1M238 651.5h1.1M238 652.5h1.1M238 653.5h1.1M238 655.5h1.1M238 656.5h1.1M238 657.5h1.1M238 659.5h1.1M238 660.5h1.1M238 661.5h1.1M238 662.5h1.1M238 663.5h1.1M238 664.5h1.1M238 665.5h1.1M238 666.5h1.1M238 667.5h1.1M238 668.5h1.1M238 670.5h1.1M238 672.5h1.1M238 675.5h1.1M239 634.5h1.1M239 635.5h1.1M239 636.5h1.1M239 638.5h1.1M239 640.5h1.1M239 641.5h1.1M239 642.5h1.1M239 643.5h1.1M239 644.5h1.1M239 645.5h1.1M239 646.5h1.1M239 647.5h1.1M239 648.5h1.1M239 649.5h1.1M239 650.5h1.1M239 651.5h1.1M239 652.5h1.1M239 653.5h1.1M239 654.5h1.1M239 655.5h1.1M239 656.5h1.1M239 657.5h1.1M239 658.5h1.1M239 659.5h1.1M239 660.5h1.1M239 661.5h1.1M239 662.5h1.1M239 663.5h1.1M239 664.5h1.1M239 665.5h1.1M239 666.5h1.1M239 667.5h1.1M239 668.5h1.1M239 669.5h1.1M239 671.5h1.1M239 672.5h1.1M239 673.5h1.1M239 678.5h1.1M239 686.5h1.1M239 692.5h1.1M240 632.5h1.1M240 635.5h1.1M240 636.5h1.1M240 639.5h1.1M240 641.5h1.1M240 642.5h1.1M240 644.5h1.1M240 645.5h1.1M240 646.5h1.1M240 647.5h1.1M240 648.5h1.1M240 649.5h1.1M240 650.5h1.1M240 651.5h1.1M240 652.5h1.1M240 653.5h1.1M240 654.5h1.1M240 655.5h1.1M240 656.5h1.1M240 657.5h1.1M240 658.5h1.1M240 659.5h1.1M240 661.5h1.1M240 662.5h1.1M240 663.5h1.1M240 664.5h1.1M240 665.5h1.1M240 666.5h1.1M240 667.5h1.1M240 668.5h1.1M240 670.5h1.1M240 675.5h1.1M241 630.5h1.1M241 631.5h1.1M241 632.5h1.1M241 635.5h1.1M241 636.5h1.1M241 638.5h1.1M241 640.5h1.1M241 641.5h1.1M241 642.5h1.1M241 643.5h1.1M241 645.5h1.1M241 646.5h1.1M241 647.5h1.1M241 649.5h1.1M241 651.5h1.1M241 652.5h1.1M241 653.5h1.1M241 654.5h1.1M241 655.5h1.1M241 656.5h1.1M241 657.5h1.1M241 658.5h1.1M241 659.5h1.1M241 660.5h1.1M241 661.5h1.1M241 662.5h1.1M241 664.5h1.1M241 665.5h1.1M241 666.5h1.1M241 668.5h1.1M241 669.5h1.1M241 677.5h1.1M242 627.5h1.1M242 632.5h1.1M242 634.5h1.1M242 637.5h1.1M242 638.5h1.1M242 639.5h1.1M242 642.5h1.1M242 643.5h1.1M242 644.5h1.1M242 645.5h1.1M242 647.5h1.1M242 648.5h1.1M242 649.5h1.1M242 651.5h1.1M242 652.5h1.1M242 653.5h1.1M242 654.5h1.1M242 655.5h1.1M242 656.5h1.1M242 657.5h1.1M242 658.5h1.1M242 659.5h1.1M242 660.5h1.1M242 661.5h1.1M242 662.5h1.1M242 663.5h1.1M242 666.5h1.1M242 667.5h1.1M242 668.5h1.1M242 669.5h1.1M242 673.5h1.1M243 632.5h1.1M243 633.5h1.1M243 635.5h1.1M243 637.5h1.1M243 638.5h1.1M243 639.5h1.1M243 640.5h1.1M243 642.5h1.1M243 644.5h1.1M243 645.5h1.1M243 646.5h1.1M243 647.5h1.1M243 649.5h1.1M243 650.5h1.1M243 651.5h1.1M243 652.5h1.1M243 653.5h1.1M243 654.5h1.1M243 655.5h1.1M243 656.5h1.1M243 657.5h1.1M243 658.5h1.1M243 659.5h1.1M243 660.5h1.1M243 661.5h1.1M243 662.5h1.1M243 663.5h1.1M243 664.5h1.1M243 665.5h1.1M243 666.5h1.1M243 669.5h1.1M243 673.5h1.1M243 680.5h1.1M243 686.5h1.1M244 635.5h1.1M244 637.5h1.1M244 638.5h1.1M244 639.5h1.1M244 640.5h1.1M244 643.5h1.1M244 645.5h1.1M244 646.5h1.1M244 647.5h1.1M244 648.5h1.1M244 649.5h1.1M244 650.5h1.1M244 651.5h1.1M244 652.5h1.1M244 653.5h1.1M244 654.5h1.1M244 655.5h1.1M244 656.5h1.1M244 657.5h1.1M244 658.5h1.1M244 659.5h1.1M244 660.5h1.1M244 661.5h1.1M244 662.5h1.1M244 663.5h1.1M244 664.5h1.1M244 665.5h1.1M244 666.5h1.1M244 667.5h1.1M244 668.5h1.1M244 671.5h1.1M244 672.5h1.1M244 673.5h1.1M245 630.5h1.1M245 634.5h1.1M245 635.5h1.1M245 638.5h1.1M245 640.5h1.1M245 641.5h1.1M245 642.5h1.1M245 643.5h1.1M245 645.5h1.1M245 646.5h1.1M245 647.5h1.1M245 648.5h1.1M245 649.5h1.1M245 650.5h1.1M245 651.5h1.1M245 652.5h1.1M245 653.5h1.1M245 654.5h1.1M245 655.5h1.1M245 656.5h1.1M245 657.5h1.1M245 658.5h1.1M245 659.5h1.1M245 660.5h1.1M245 662.5h1.1M245 663.5h1.1M245 664.5h1.1M245 665.5h1.1M246 629.5h1.1M246 630.5h1.1M246 631.5h1.1M246 635.5h1.1M246 637.5h1.1M246 638.5h1.1M246 639.5h1.1M246 642.5h1.1M246 643.5h1.1M246 644.5h1.1M246 646.5h1.1M246 647.5h1.1M246 648.5h1.1M246 649.5h1.1M246 650.5h1.1M246 651.5h1.1M246 652.5h1.1M246 653.5h1.1M246 654.5h1.1M246 655.5h1.1M246 656.5h1.1M246 657.5h1.1M246 658.5h1.1M246 659.5h1.1M246 660.5h1.1M246 661.5h1.1M246 662.5h1.1M246 663.5h1.1M246 664.5h1.1M246 668.5h1.1M247 629.5h1.1M247 630.5h1.1M247 632.5h1.1M247 635.5h1.1M247 636.5h1.1M247 637.5h1.1M247 640.5h1.1M247 641.5h1.1M247 642.5h1.1M247 643.5h1.1M247 644.5h1.1M247 645.5h1.1M247 646.5h1.1M247 647.5h1.1M247 648.5h1.1M247 649.5h1.1M247 650.5h1.1M247 651.5h1.1M247 653.5h1.1M247 654.5h1.1M247 655.5h1.1M247 656.5h1.1M247 657.5h1.1M247 658.5h1.1M247 659.5h1.1M247 661.5h1.1M247 662.5h1.1M247 663.5h1.1M247 665.5h1.1M247 666.5h1.1M248 630.5h1.1M248 634.5h1.1M248 635.5h1.1M248 639.5h1.1M248 640.5h1.1M248 641.5h1.1M248 642.5h1.1M248 643.5h1.1M248 644.5h1.1M248 645.5h1.1M248 646.5h1.1M248 647.5h1.1M248 648.5h1.1M248 649.5h1.1M248 650.5h1.1M248 651.5h1.1M248 652.5h1.1M248 653.5h1.1M248 654.5h1.1M248 655.5h1.1M248 657.5h1.1M248 658.5h1.1M248 659.5h1.1M248 661.5h1.1M248 662.5h1.1M249 634.5h1.1M249 636.5h1.1M249 639.5h1.1M249 640.5h1.1M249 641.5h1.1M249 643.5h1.1M249 644.5h1.1M249 645.5h1.1M249 646.5h1.1M249 647.5h1.1M249 648.5h1.1M249 649.5h1.1M249 650.5h1.1M249 651.5h1.1M249 652.5h1.1M249 653.5h1.1M249 655.5h1.1M249 656.5h1.1M249 657.5h1.1M249 658.5h1.1M249 659.5h1.1M249 660.5h1.1M250 627.5h1.1M250 628.5h1.1M250 630.5h1.1M250 633.5h1.1M250 634.5h1.1M250 635.5h1.1M250 636.5h1.1M250 638.5h1.1M250 639.5h1.1M250 640.5h1.1M250 641.5h1.1M250 642.5h1.1M250 643.5h1.1M250 644.5h1.1M250 645.5h1.1M250 646.5h1.1M250 647.5h1.1M250 648.5h1.1M250 649.5h1.1M250 650.5h1.1M250 651.5h1.1M250 652.5h1.1M250 653.5h1.1M250 654.5h1.1M250 655.5h1.1M250 656.5h1.1M250 657.5h1.1M250 658.5h1.1M250 659.5h1.1M250 661.5h1.1M250 664.5h1.1M251 634.5h1.1M251 635.5h1.1M251 636.5h1.1M251 637.5h1.1M251 640.5h1.1M251 641.5h1.1M251 642.5h1.1M251 644.5h1.1M251 645.5h1.1M251 646.5h1.1M251 647.5h1.1M251 648.5h1.1M251 649.5h1.1M251 652.5h1.1M251 653.5h1.1M251 654.5h1.1M251 663.5h1.1M251 664.5h1.1M252 633.5h1.1M252 638.5h1.1M252 639.5h1.1M252 640.5h1.1M252 641.5h1.1M252 642.5h1.1M252 643.5h1.1M252 644.5h1.1M252 645.5h1.1M252 646.5h1.1M252 647.5h1.1M252 648.5h1.1M252 649.5h1.1M252 650.5h1.1M252 651.5h1.1M252 652.5h1.1M252 653.5h1.1M252 654.5h1.1M252 655.5h1.1M252 656.5h1.1M252 659.5h1.1M252 660.5h1.1M253 635.5h1.1M253 636.5h1.1M253 637.5h1.1M253 638.5h1.1M253 639.5h1.1M253 641.5h1.1M253 642.5h1.1M253 643.5h1.1M253 644.5h1.1M253 645.5h1.1M253 646.5h1.1M253 647.5h1.1M253 648.5h1.1M253 649.5h1.1M253 650.5h1.1M253 651.5h1.1M253 653.5h1.1M253 657.5h1.1M253 658.5h1.1M253 659.5h1.1M254 628.5h1.1M254 630.5h1.1M254 632.5h1.1M254 636.5h1.1M254 637.5h1.1M254 640.5h1.1M254 642.5h1.1M254 643.5h1.1M254 644.5h1.1M254 645.5h1.1M254 646.5h1.1M254 647.5h1.1M254 648.5h1.1M254 649.5h1.1M254 651.5h1.1M254 652.5h1.1M254 654.5h1.1M254 655.5h1.1M254 656.5h1.1M254 657.5h1.1M254 664.5h1.1M255 627.5h1.1M255 628.5h1.1M255 629.5h1.1M255 634.5h1.1M255 636.5h1.1M255 639.5h1.1M255 641.5h1.1M255 642.5h1.1M255 645.5h1.1M255 646.5h1.1M255 647.5h1.1M255 648.5h1.1M255 649.5h1.1M255 660.5h1.1M256 628.5h1.1M256 629.5h1.1M256 632.5h1.1M256 633.5h1.1M256 634.5h1.1M256 638.5h1.1M256 641.5h1.1M256 642.5h1.1M256 643.5h1.1M256 645.5h1.1M256 646.5h1.1M256 647.5h1.1M256 648.5h1.1M256 650.5h1.1M256 651.5h1.1M256 652.5h1.1M256 657.5h1.1M257 629.5h1.1M257 631.5h1.1M257 633.5h1.1M257 634.5h1.1M257 635.5h1.1M257 639.5h1.1M257 640.5h1.1M257 643.5h1.1M257 644.5h1.1M257 645.5h1.1M257 646.5h1.1M257 647.5h1.1M257 648.5h1.1M257 649.5h1.1M257 650.5h1.1M257 658.5h1.1M257 659.5h1.1M258 628.5h1.1M258 630.5h1.1M258 633.5h1.1M258 635.5h1.1M258 637.5h1.1M258 641.5h1.1M258 642.5h1.1M258 643.5h1.1M258 644.5h1.1M258 647.5h1.1M258 648.5h1.1M258 650.5h1.1M258 654.5h1.1M258 655.5h1.1M258 658.5h1.1M259 634.5h1.1M259 635.5h1.1M259 637.5h1.1M259 638.5h1.1M259 639.5h1.1M259 640.5h1.1M259 646.5h1.1M259 647.5h1.1M259 649.5h1.1M260 634.5h1.1M260 635.5h1.1M260 637.5h1.1M260 638.5h1.1M260 639.5h1.1M260 641.5h1.1M260 643.5h1.1M260 644.5h1.1M260 645.5h1.1M260 646.5h1.1M260 647.5h1.1M260 649.5h1.1M260 650.5h1.1M260 654.5h1.1M260 657.5h1.1M261 630.5h1.1M261 632.5h1.1M261 634.5h1.1M261 638.5h1.1M261 639.5h1.1M261 642.5h1.1M261 643.5h1.1M261 644.5h1.1M261 646.5h1.1M262 630.5h1.1M262 633.5h1.1M262 634.5h1.1M262 637.5h1.1M262 645.5h1.1M262 647.5h1.1M262 650.5h1.1M263 634.5h1.1M263 636.5h1.1M263 639.5h1.1M263 640.5h1.1M263 642.5h1.1M264 631.5h1.1M264 632.5h1.1M264 636.5h1.1M264 637.5h1.1M264 639.5h1.1M264 644.5h1.1M265 632.5h1.1M265 634.5h1.1M265 639.5h1.1M265 642.5h1.1M265 646.5h1.1M266 633.5h1.1M266 639.5h1.1M267 638.5h1.1M267 642.5h1.1M268 638.5h1.1M269 628.5h1.1M269 629.5h1.1M269 639.5h1.1M269 651.5h1.1M270 630.5h1.1M270 649.5h1.1M272 639.5h1.1M274 634.5h1.1M276 632.5h1.1M277 635.5h1.1M278 634.5h1.1M279 630.5h1.1" stroke="#ff0000" stroke-width="1.1" fill="none" filter="url(#soft)"/><path d="M220 596.5h1.1M220 601.5h1.1M220 609.5h1.1M220 615.5h1.1M220 618.5h1.1M220 620.5h1.1M221 603.5h1.1M221 609.5h1.1M221 610.5h1.1M221 612.5h1.1M221 613.5h1.1M221 619.5h1.1M222 598.5h1.1M222 601.5h1.1M222 603.5h1.1M222 604.5h1.1M222 605.5h1.1M222 607.5h1.1M222 608.5h1.1M222 609.5h1.1M222 614.5h1.1M222 617.5h1.1M223 595.5h1.1M223 600.5h1.1M223 604.5h1.1M223 611.5h1.1M223 612.5h1.1M223 613.5h1.1M223 614.5h1.1M223 617.5h1.1M224 595.5h1.1M224 598.5h1.1M224 607.5h1.1M224 608.5h1.1M224 610.5h1.1M224 611.5h1.1M224 612.5h1.1M224 613.5h1.1M224 615.5h1.1M224 616.5h1.1M224 621.5h1.1M225 598.5h1.1M225 604.5h1.1M225 607.5h1.1M225 611.5h1.1M225 613.5h1.1M225 614.5h1.1M225 615.5h1.1M225 616.5h1.1M225 617.5h1.1M226 599.5h1.1M226 601.5h1.1M226 609.5h1.1M226 610.5h1.1M226 611.5h1.1M226 612.5h1.1M226 613.5h1.1M226 616.5h1.1M226 618.5h1.1M227 595.5h1.1M227 597.5h1.1M227 599.5h1.1M227 601.5h1.1M227 604.5h1.1M227 607.5h1.1M227 608.5h1.1M227 609.5h1.1M227 611.5h1.1M227 612.5h1.1M227 613.5h1.1M227 614.5h1.1M227 615.5h1.1M227 618.5h1.1M228 601.5h1.1M228 602.5h1.1M228 605.5h1.1M228 606.5h1.1M228 608.5h1.1M228 610.5h1.1M228 611.5h1.1M228 612.5h1.1M228 613.5h1.1M228 614.5h1.1M228 618.5h1.1M228 620.5h1.1M228 623.5h1.1M229 594.5h1.1M229 595.5h1.1M229 598.5h1.1M229 600.5h1.1M229 606.5h1.1M229 609.5h1.1M229 610.5h1.1M229 611.5h1.1M229 614.5h1.1M229 615.5h1.1M229 618.5h1.1M229 622.5h1.1M230 598.5h1.1M230 600.5h1.1M230 601.5h1.1M230 603.5h1.1M230 604.5h1.1M230 605.5h1.1M230 606.5h1.1M230 607.5h1.1M230 608.5h1.1M230 609.5h1.1M230 610.5h1.1M230 611.5h1.1M230 613.5h1.1M230 615.5h1.1M230 616.5h1.1M230 617.5h1.1M230 620.5h1.1M231 596.5h1.1M231 601.5h1.1M231 602.5h1.1M231 603.5h1.1M231 605.5h1.1M231 607.5h1.1M231 609.5h1.1M231 610.5h1.1M231 611.5h1.1M231 612.5h1.1M231 613.5h1.1M231 614.5h1.1M231 618.5h1.1M231 621.5h1.1M232 599.5h1.1M232 601.5h1.1M232 602.5h1.1M232 604.5h1.1M232 605.5h1.1M232 606.5h1.1M232 609.5h1.1M232 610.5h1.1M232 611.5h1.1M232 612.5h1.1M232 614.5h1.1M232 615.5h1.1M232 616.5h1.1M232 617.5h1.1M232 619.5h1.1M232 620.5h1.1M233 594.5h1.1M233 601.5h1.1M233 602.5h1.1M233 603.5h1.1M233 604.5h1.1M233 605.5h1.1M233 606.5h1.1M233 608.5h1.1M233 609.5h1.1M233 610.5h1.1M233 612.5h1.1M233 613.5h1.1M233 614.5h1.1M233 617.5h1.1M233 619.5h1.1M233 621.5h1.1M234 600.5h1.1M234 603.5h1.1M234 605.5h1.1M234 606.5h1.1M234 609.5h1.1M234 610.5h1.1M234 611.5h1.1M234 612.5h1.1M234 614.5h1.1M234 616.5h1.1M235 595.5h1.1M235 597.5h1.1M235 598.5h1.1M235 602.5h1.1M235 603.5h1.1M235 605.5h1.1M235 606.5h1.1M235 607.5h1.1M235 609.5h1.1M235 610.5h1.1M235 611.5h1.1M235 612.5h1.1M235 613.5h1.1M235 615.5h1.1M235 618.5h1.1M235 621.5h1.1M236 600.5h1.1M236 602.5h1.1M236 606.5h1.1M236 607.5h1.1M236 609.5h1.1M236 610.5h1.1M236 611.5h1.1M236 612.5h1.1M236 614.5h1.1M236 616.5h1.1M237 598.5h1.1M237 603.5h1.1M237 604.5h1.1M237 605.5h1.1M237 606.5h1.1M237 607.5h1.1M237 608.5h1.1M237 609.5h1.1M237 610.5h1.1M237 612.5h1.1M237 613.5h1.1M237 616.5h1.1M237 618.5h1.1M238 596.5h1.1M238 597.5h1.1M238 598.5h1.1M238 602.5h1.1M238 603.5h1.1M238 604.5h1.1M238 606.5h1.1M238 607.5h1.1M238 608.5h1.1M238 609.5h1.1M238 610.5h1.1M238 611.5h1.1M238 613.5h1.1M238 614.5h1.1M238 617.5h1.1M238 618.5h1.1M238 619.5h1.1M239 598.5h1.1M239 602.5h1.1M239 604.5h1.1M239 606.5h1.1M239 607.5h1.1M239 609.5h1.1M239 610.5h1.1M239 612.5h1.1M239 613.5h1.1M239 614.5h1.1M239 615.5h1.1M239 616.5h1.1M239 617.5h1.1M240 602.5h1.1M240 604.5h1.1M240 605.5h1.1M240 606.5h1.1M240 607.5h1.1M240 608.5h1.1M240 611.5h1.1M240 612.5h1.1M240 613.5h1.1M240 614.5h1.1M240 615.5h1.1M240 617.5h1.1M241 596.5h1.1M241 602.5h1.1M241 606.5h1.1M241 607.5h1.1M241 608.5h1.1M241 609.5h1.1M241 610.5h1.1M241 612.5h1.1M241 615.5h1.1M241 616.5h1.1M241 620.5h1.1M242 597.5h1.1M242 598.5h1.1M242 600.5h1.1M242 602.5h1.1M242 605.5h1.1M242 606.5h1.1M242 607.5h1.1M242 610.5h1.1M242 611.5h1.1M242 612.5h1.1M242 617.5h1.1M242 618.5h1.1M243 593.5h1.1M243 599.5h1.1M243 600.5h1.1M243 606.5h1.1M243 607.5h1.1M243 608.5h1.1M243 610.5h1.1M243 612.5h1.1M243 613.5h1.1M243 614.5h1.1M243 615.5h1.1M243 617.5h1.1M243 619.5h1.1M243 623.5h1.1M244 595.5h1.1M244 600.5h1.1M244 605.5h1.1M244 607.5h1.1M244 608.5h1.1M244 609.5h1.1M244 611.5h1.1M244 612.5h1.1M244 613.5h1.1M244 614.5h1.1M244 622.5h1.1M245 602.5h1.1M245 603.5h1.1M245 604.5h1.1M245 606.5h1.1M245 608.5h1.1M245 609.5h1.1M245 610.5h1.1M245 614.5h1.1M245 615.5h1.1M245 616.5h1.1M246 600.5h1.1M246 602.5h1.1M246 604.5h1.1M246 606.5h1.1M246 608.5h1.1M246 609.5h1.1M246 610.5h1.1M246 611.5h1.1M246 613.5h1.1M246 614.5h1.1M247 603.5h1.1M247 604.5h1.1M247 606.5h1.1M247 607.5h1.1M247 609.5h1.1M247 612.5h1.1M247 618.5h1.1M247 624.5h1.1M248 594.5h1.1M248 604.5h1.1M248 607.5h1.1M248 608.5h1.1M248 611.5h1.1M248 616.5h1.1M248 620.5h1.1M248 621.5h1.1M249 604.5h1.1M249 607.5h1.1M249 608.5h1.1M249 610.5h1.1M249 618.5h1.1M249 619.5h1.1M250 603.5h1.1M250 604.5h1.1M250 605.5h1.1M250 606.5h1.1M250 617.5h1.1M250 618.5h1.1M250 621.5h1.1M251 599.5h1.1M251 600.5h1.1M251 604.5h1.1M251 614.5h1.1M251 615.5h1.1M252 597.5h1.1M252 602.5h1.1M252 609.5h1.1M252 611.5h1.1M252 613.5h1.1M252 616.5h1.1M253 607.5h1.1M253 614.5h1.1M253 615.5h1.1M254 603.5h1.1M254 606.5h1.1M254 614.5h1.1M254 615.5h1.1M254 622.5h1.1M255 610.5h1.1M255 612.5h1.1M256 596.5h1.1M256 598.5h1.1M256 603.5h1.1M256 605.5h1.1M256 606.5h1.1M256 608.5h1.1M256 612.5h1.1M257 603.5h1.1M258 615.5h1.1M260 602.5h1.1M260 609.5h1.1M264 605.5h1.1M264 609.5h1.1" stroke="#22ee22" stroke-width="1.1" fill="none" filter="url(#soft)"/><rect x="219.0" y="590.7" width="61.5" height="35.9" fill="none" stroke="#222" stroke-width="1.4"/><text x="245.6" y="612.5" font-size="9.4" fill="#222">P2</text><rect x="245.50" y="588.70" width="0.90" height="1.80" fill="#333"/><rect x="272.20" y="589.30" width="4.20" height="1.60" fill="#111" rx="0.8"/><line x1="219.0" y1="590.6" x2="280.5" y2="590.6" stroke="#111" stroke-width="1.6"/><line x1="219.0" y1="590.3" x2="219.0" y2="699.2" stroke="#111" stroke-width="1.4"/><line x1="219.0" y1="699.2" x2="340.2" y2="699.2" stroke="#333" stroke-width="1.7"/><line x1="215.4" y1="601.5" x2="219.0" y2="601.5" stroke="#222" stroke-width="1.0"/><line x1="216.6" y1="593.2" x2="219.0" y2="593.2" stroke="#222" stroke-width="0.85"/><g transform="translate(214.7,603.0) rotate(-90)"><text x="0" y="0" font-size="6.4" text-anchor="middle" fill="#000" stroke="#000" stroke-width="0.15">10</text><text x="3.6" y="-3.4" font-size="5.0" fill="#000" stroke="#000" stroke-width="0.1">5</text></g><line x1="215.4" y1="628.3" x2="219.0" y2="628.3" stroke="#222" stroke-width="1.0"/><line x1="216.6" y1="620.0" x2="219.0" y2="620.0" stroke="#222" stroke-width="0.85"/><line x1="216.6" y1="615.2" x2="219.0" y2="615.2" stroke="#222" stroke-width="0.85"/><line x1="216.6" y1="611.7" x2="219.0" y2="611.7" stroke="#222" stroke-width="0.85"/><line x1="216.6" y1="609.1" x2="219.0" y2="609.1" stroke="#222" stroke-width="0.85"/><line x1="216.6" y1="606.9" x2="219.0" y2="606.9" stroke="#222" stroke-width="0.85"/><line x1="216.6" y1="605.1" x2="219.0" y2="605.1" stroke="#222" stroke-width="0.85"/><line x1="216.6" y1="603.5" x2="219.0" y2="603.5" stroke="#222" stroke-width="0.85"/><line x1="216.6" y1="602.1" x2="219.0" y2="602.1" stroke="#222" stroke-width="0.85"/><g transform="translate(214.7,629.8) rotate(-90)"><text x="0" y="0" font-size="6.4" text-anchor="middle" fill="#000" stroke="#000" stroke-width="0.15">10</text><text x="3.6" y="-3.4" font-size="5.0" fill="#000" stroke="#000" stroke-width="0.1">4</text></g><line x1="215.4" y1="655.8" x2="219.0" y2="655.8" stroke="#222" stroke-width="1.0"/><line x1="216.6" y1="647.5" x2="219.0" y2="647.5" stroke="#222" stroke-width="0.85"/><line x1="216.6" y1="642.7" x2="219.0" y2="642.7" stroke="#222" stroke-width="0.85"/><line x1="216.6" y1="639.2" x2="219.0" y2="639.2" stroke="#222" stroke-width="0.85"/><line x1="216.6" y1="636.6" x2="219.0" y2="636.6" stroke="#222" stroke-width="0.85"/><line x1="216.6" y1="634.4" x2="219.0" y2="634.4" stroke="#222" stroke-width="0.85"/><line x1="216.6" y1="632.6" x2="219.0" y2="632.6" stroke="#222" stroke-width="0.85"/><line x1="216.6" y1="631.0" x2="219.0" y2="631.0" stroke="#222" stroke-width="0.85"/><line x1="216.6" y1="629.6" x2="219.0" y2="629.6" stroke="#222" stroke-width="0.85"/><g transform="translate(214.7,657.3) rotate(-90)"><text x="0" y="0" font-size="6.4" text-anchor="middle" fill="#000" stroke="#000" stroke-width="0.15">10</text><text x="3.6" y="-3.4" font-size="5.0" fill="#000" stroke="#000" stroke-width="0.1">3</text></g><line x1="215.4" y1="683.3" x2="219.0" y2="683.3" stroke="#222" stroke-width="1.0"/><line x1="216.6" y1="675.0" x2="219.0" y2="675.0" stroke="#222" stroke-width="0.85"/><line x1="216.6" y1="670.2" x2="219.0" y2="670.2" stroke="#222" stroke-width="0.85"/><line x1="216.6" y1="666.7" x2="219.0" y2="666.7" stroke="#222" stroke-width="0.85"/><line x1="216.6" y1="664.1" x2="219.0" y2="664.1" stroke="#222" stroke-width="0.85"/><line x1="216.6" y1="661.9" x2="219.0" y2="661.9" stroke="#222" stroke-width="0.85"/><line x1="216.6" y1="660.1" x2="219.0" y2="660.1" stroke="#222" stroke-width="0.85"/><line x1="216.6" y1="658.5" x2="219.0" y2="658.5" stroke="#222" stroke-width="0.85"/><line x1="216.6" y1="657.1" x2="219.0" y2="657.1" stroke="#222" stroke-width="0.85"/><g transform="translate(214.7,684.8) rotate(-90)"><text x="0" y="0" font-size="6.4" text-anchor="middle" fill="#000" stroke="#000" stroke-width="0.15">10</text><text x="3.6" y="-3.4" font-size="5.0" fill="#000" stroke="#000" stroke-width="0.1">2</text></g><line x1="216.6" y1="697.7" x2="219.0" y2="697.7" stroke="#222" stroke-width="0.85"/><line x1="216.6" y1="694.2" x2="219.0" y2="694.2" stroke="#222" stroke-width="0.85"/><line x1="216.6" y1="691.6" x2="219.0" y2="691.6" stroke="#222" stroke-width="0.85"/><line x1="216.6" y1="689.4" x2="219.0" y2="689.4" stroke="#222" stroke-width="0.85"/><line x1="216.6" y1="687.6" x2="219.0" y2="687.6" stroke="#222" stroke-width="0.85"/><line x1="216.6" y1="686.0" x2="219.0" y2="686.0" stroke="#222" stroke-width="0.85"/><line x1="216.6" y1="684.6" x2="219.0" y2="684.6" stroke="#222" stroke-width="0.85"/><line x1="235.6" y1="699.2" x2="235.6" y2="704.0" stroke="#222" stroke-width="1.0"/><line x1="244.8" y1="699.2" x2="244.8" y2="702.8" stroke="#222" stroke-width="0.85"/><line x1="250.2" y1="699.2" x2="250.2" y2="702.8" stroke="#222" stroke-width="0.85"/><line x1="254.0" y1="699.2" x2="254.0" y2="702.8" stroke="#222" stroke-width="0.85"/><line x1="256.9" y1="699.2" x2="256.9" y2="702.8" stroke="#222" stroke-width="0.85"/><line x1="259.3" y1="699.2" x2="259.3" y2="702.8" stroke="#222" stroke-width="0.85"/><line x1="261.4" y1="699.2" x2="261.4" y2="702.8" stroke="#222" stroke-width="0.85"/><line x1="263.1" y1="699.2" x2="263.1" y2="702.8" stroke="#222" stroke-width="0.85"/><line x1="264.7" y1="699.2" x2="264.7" y2="702.8" stroke="#222" stroke-width="0.85"/><text x="232.0" y="713.4" font-size="6.4" fill="#000" stroke="#000" stroke-width="0.15">10</text><text x="238.6" y="709.0" font-size="5.0" fill="#000" stroke="#000" stroke-width="0.1">2</text><line x1="266.4" y1="699.2" x2="266.4" y2="704.0" stroke="#222" stroke-width="1.0"/><line x1="275.6" y1="699.2" x2="275.6" y2="702.8" stroke="#222" stroke-width="0.85"/><line x1="281.0" y1="699.2" x2="281.0" y2="702.8" stroke="#222" stroke-width="0.85"/><line x1="284.8" y1="699.2" x2="284.8" y2="702.8" stroke="#222" stroke-width="0.85"/><line x1="287.7" y1="699.2" x2="287.7" y2="702.8" stroke="#222" stroke-width="0.85"/><line x1="290.1" y1="699.2" x2="290.1" y2="702.8" stroke="#222" stroke-width="0.85"/><line x1="292.2" y1="699.2" x2="292.2" y2="702.8" stroke="#222" stroke-width="0.85"/><line x1="293.9" y1="699.2" x2="293.9" y2="702.8" stroke="#222" stroke-width="0.85"/><line x1="295.5" y1="699.2" x2="295.5" y2="702.8" stroke="#222" stroke-width="0.85"/><text x="262.8" y="713.4" font-size="6.4" fill="#000" stroke="#000" stroke-width="0.15">10</text><text x="269.4" y="709.0" font-size="5.0" fill="#000" stroke="#000" stroke-width="0.1">3</text><line x1="296.2" y1="699.2" x2="296.2" y2="704.0" stroke="#222" stroke-width="1.0"/><line x1="305.4" y1="699.2" x2="305.4" y2="702.8" stroke="#222" stroke-width="0.85"/><line x1="310.8" y1="699.2" x2="310.8" y2="702.8" stroke="#222" stroke-width="0.85"/><line x1="314.6" y1="699.2" x2="314.6" y2="702.8" stroke="#222" stroke-width="0.85"/><line x1="317.5" y1="699.2" x2="317.5" y2="702.8" stroke="#222" stroke-width="0.85"/><line x1="319.9" y1="699.2" x2="319.9" y2="702.8" stroke="#222" stroke-width="0.85"/><line x1="322.0" y1="699.2" x2="322.0" y2="702.8" stroke="#222" stroke-width="0.85"/><line x1="323.7" y1="699.2" x2="323.7" y2="702.8" stroke="#222" stroke-width="0.85"/><line x1="325.3" y1="699.2" x2="325.3" y2="702.8" stroke="#222" stroke-width="0.85"/><text x="292.6" y="713.4" font-size="6.4" fill="#000" stroke="#000" stroke-width="0.15">10</text><text x="299.2" y="709.0" font-size="5.0" fill="#000" stroke="#000" stroke-width="0.1">4</text><line x1="327.2" y1="699.2" x2="327.2" y2="704.0" stroke="#222" stroke-width="1.0"/><line x1="336.4" y1="699.2" x2="336.4" y2="702.8" stroke="#222" stroke-width="0.85"/><text x="323.6" y="713.4" font-size="6.4" fill="#000" stroke="#000" stroke-width="0.15">10</text><text x="330.2" y="709.0" font-size="5.0" fill="#000" stroke="#000" stroke-width="0.1">5</text><line x1="219.7" y1="699.2" x2="219.7" y2="702.8" stroke="#222" stroke-width="0.85"/><line x1="223.5" y1="699.2" x2="223.5" y2="702.8" stroke="#222" stroke-width="0.85"/><line x1="226.4" y1="699.2" x2="226.4" y2="702.8" stroke="#222" stroke-width="0.85"/><line x1="228.8" y1="699.2" x2="228.8" y2="702.8" stroke="#222" stroke-width="0.85"/><line x1="230.9" y1="699.2" x2="230.9" y2="702.8" stroke="#222" stroke-width="0.85"/><line x1="232.6" y1="699.2" x2="232.6" y2="702.8" stroke="#222" stroke-width="0.85"/><line x1="234.2" y1="699.2" x2="234.2" y2="702.8" stroke="#222" stroke-width="0.85"/><text x="303.8" y="612.6" font-size="11.0" font-weight="bold">6.3%</text><text x="277.6" y="724.5" font-size="9.6" text-anchor="middle" fill="#111">ox-LDL</text><rect x="392.30" y="590.30" width="121.20" height="109.00" fill="#fff" stroke="#8a8a8a" stroke-width="0.9"/><path d="M393 633.5h1.1M393 643.5h1.1M393 645.5h1.1M393 647.5h1.1M393 656.5h1.1M393 658.5h1.1M393 659.5h1.1M393 661.5h1.1M393 662.5h1.1M393 663.5h1.1M393 664.5h1.1M393 665.5h1.1M393 666.5h1.1M393 668.5h1.1M393 669.5h1.1M393 670.5h1.1M393 671.5h1.1M393 673.5h1.1M393 674.5h1.1M393 675.5h1.1M393 679.5h1.1M393 680.5h1.1M393 682.5h1.1M393 686.5h1.1M393 689.5h1.1M393 694.5h1.1M394 632.5h1.1M394 638.5h1.1M394 643.5h1.1M394 645.5h1.1M394 648.5h1.1M394 649.5h1.1M394 651.5h1.1M394 652.5h1.1M394 653.5h1.1M394 654.5h1.1M394 655.5h1.1M394 656.5h1.1M394 658.5h1.1M394 660.5h1.1M394 661.5h1.1M394 662.5h1.1M394 663.5h1.1M394 664.5h1.1M394 665.5h1.1M394 666.5h1.1M394 668.5h1.1M394 670.5h1.1M394 671.5h1.1M394 672.5h1.1M394 673.5h1.1M394 674.5h1.1M394 675.5h1.1M394 676.5h1.1M394 677.5h1.1M394 678.5h1.1M394 679.5h1.1M394 681.5h1.1M394 682.5h1.1M394 684.5h1.1M394 686.5h1.1M394 688.5h1.1M394 689.5h1.1M395 638.5h1.1M395 639.5h1.1M395 642.5h1.1M395 643.5h1.1M395 647.5h1.1M395 648.5h1.1M395 649.5h1.1M395 650.5h1.1M395 651.5h1.1M395 652.5h1.1M395 654.5h1.1M395 655.5h1.1M395 656.5h1.1M395 657.5h1.1M395 658.5h1.1M395 659.5h1.1M395 660.5h1.1M395 662.5h1.1M395 663.5h1.1M395 664.5h1.1M395 665.5h1.1M395 666.5h1.1M395 667.5h1.1M395 668.5h1.1M395 669.5h1.1M395 670.5h1.1M395 671.5h1.1M395 672.5h1.1M395 673.5h1.1M395 674.5h1.1M395 675.5h1.1M395 676.5h1.1M395 677.5h1.1M395 680.5h1.1M395 681.5h1.1M395 682.5h1.1M395 684.5h1.1M395 687.5h1.1M395 688.5h1.1M396 640.5h1.1M396 641.5h1.1M396 645.5h1.1M396 647.5h1.1M396 649.5h1.1M396 651.5h1.1M396 652.5h1.1M396 654.5h1.1M396 657.5h1.1M396 658.5h1.1M396 659.5h1.1M396 660.5h1.1M396 661.5h1.1M396 662.5h1.1M396 663.5h1.1M396 664.5h1.1M396 665.5h1.1M396 666.5h1.1M396 667.5h1.1M396 668.5h1.1M396 669.5h1.1M396 670.5h1.1M396 671.5h1.1M396 672.5h1.1M396 673.5h1.1M396 674.5h1.1M396 675.5h1.1M396 676.5h1.1M396 677.5h1.1M396 678.5h1.1M396 679.5h1.1M396 680.5h1.1M396 682.5h1.1M396 683.5h1.1M396 684.5h1.1M396 685.5h1.1M396 692.5h1.1M397 633.5h1.1M397 635.5h1.1M397 638.5h1.1M397 640.5h1.1M397 642.5h1.1M397 643.5h1.1M397 645.5h1.1M397 647.5h1.1M397 648.5h1.1M397 649.5h1.1M397 650.5h1.1M397 654.5h1.1M397 656.5h1.1M397 657.5h1.1M397 658.5h1.1M397 659.5h1.1M397 660.5h1.1M397 661.5h1.1M397 662.5h1.1M397 663.5h1.1M397 664.5h1.1M397 665.5h1.1M397 666.5h1.1M397 667.5h1.1M397 668.5h1.1M397 669.5h1.1M397 670.5h1.1M397 671.5h1.1M397 672.5h1.1M397 673.5h1.1M397 674.5h1.1M397 675.5h1.1M397 676.5h1.1M397 677.5h1.1M397 678.5h1.1M397 679.5h1.1M397 680.5h1.1M397 681.5h1.1M397 684.5h1.1M398 635.5h1.1M398 638.5h1.1M398 642.5h1.1M398 647.5h1.1M398 648.5h1.1M398 649.5h1.1M398 650.5h1.1M398 651.5h1.1M398 652.5h1.1M398 653.5h1.1M398 654.5h1.1M398 656.5h1.1M398 657.5h1.1M398 658.5h1.1M398 660.5h1.1M398 661.5h1.1M398 662.5h1.1M398 663.5h1.1M398 664.5h1.1M398 665.5h1.1M398 667.5h1.1M398 669.5h1.1M398 670.5h1.1M398 671.5h1.1M398 672.5h1.1M398 673.5h1.1M398 674.5h1.1M398 675.5h1.1M398 676.5h1.1M398 677.5h1.1M398 679.5h1.1M398 680.5h1.1M398 681.5h1.1M398 683.5h1.1M398 684.5h1.1M399 636.5h1.1M399 637.5h1.1M399 641.5h1.1M399 643.5h1.1M399 645.5h1.1M399 646.5h1.1M399 647.5h1.1M399 649.5h1.1M399 650.5h1.1M399 651.5h1.1M399 652.5h1.1M399 653.5h1.1M399 654.5h1.1M399 655.5h1.1M399 656.5h1.1M399 657.5h1.1M399 658.5h1.1M399 659.5h1.1M399 660.5h1.1M399 661.5h1.1M399 662.5h1.1M399 663.5h1.1M399 664.5h1.1M399 665.5h1.1M399 666.5h1.1M399 667.5h1.1M399 668.5h1.1M399 669.5h1.1M399 670.5h1.1M399 671.5h1.1M399 672.5h1.1M399 675.5h1.1M399 676.5h1.1M399 677.5h1.1M399 678.5h1.1M399 679.5h1.1M399 685.5h1.1M399 686.5h1.1M400 633.5h1.1M400 638.5h1.1M400 642.5h1.1M400 644.5h1.1M400 645.5h1.1M400 646.5h1.1M400 648.5h1.1M400 649.5h1.1M400 650.5h1.1M400 651.5h1.1M400 652.5h1.1M400 653.5h1.1M400 654.5h1.1M400 655.5h1.1M400 656.5h1.1M400 657.5h1.1M400 658.5h1.1M400 659.5h1.1M400 660.5h1.1M400 661.5h1.1M400 662.5h1.1M400 663.5h1.1M400 664.5h1.1M400 665.5h1.1M400 666.5h1.1M400 667.5h1.1M400 668.5h1.1M400 669.5h1.1M400 670.5h1.1M400 671.5h1.1M400 672.5h1.1M400 673.5h1.1M400 674.5h1.1M400 676.5h1.1M400 677.5h1.1M400 679.5h1.1M400 681.5h1.1M400 682.5h1.1M400 685.5h1.1M400 687.5h1.1M400 688.5h1.1M401 630.5h1.1M401 632.5h1.1M401 634.5h1.1M401 637.5h1.1M401 638.5h1.1M401 641.5h1.1M401 644.5h1.1M401 646.5h1.1M401 647.5h1.1M401 648.5h1.1M401 649.5h1.1M401 650.5h1.1M401 651.5h1.1M401 652.5h1.1M401 653.5h1.1M401 654.5h1.1M401 655.5h1.1M401 656.5h1.1M401 658.5h1.1M401 659.5h1.1M401 660.5h1.1M401 661.5h1.1M401 662.5h1.1M401 663.5h1.1M401 664.5h1.1M401 665.5h1.1M401 666.5h1.1M401 667.5h1.1M401 668.5h1.1M401 669.5h1.1M401 670.5h1.1M401 671.5h1.1M401 672.5h1.1M401 673.5h1.1M401 674.5h1.1M401 675.5h1.1M401 676.5h1.1M401 677.5h1.1M401 678.5h1.1M401 680.5h1.1M401 681.5h1.1M401 682.5h1.1M401 683.5h1.1M401 684.5h1.1M402 633.5h1.1M402 636.5h1.1M402 639.5h1.1M402 641.5h1.1M402 642.5h1.1M402 643.5h1.1M402 644.5h1.1M402 646.5h1.1M402 647.5h1.1M402 648.5h1.1M402 649.5h1.1M402 650.5h1.1M402 651.5h1.1M402 652.5h1.1M402 653.5h1.1M402 654.5h1.1M402 655.5h1.1M402 656.5h1.1M402 657.5h1.1M402 658.5h1.1M402 659.5h1.1M402 660.5h1.1M402 661.5h1.1M402 662.5h1.1M402 663.5h1.1M402 664.5h1.1M402 665.5h1.1M402 666.5h1.1M402 667.5h1.1M402 668.5h1.1M402 669.5h1.1M402 670.5h1.1M402 671.5h1.1M402 672.5h1.1M402 673.5h1.1M402 675.5h1.1M402 676.5h1.1M402 677.5h1.1M402 678.5h1.1M402 681.5h1.1M402 682.5h1.1M402 683.5h1.1M402 687.5h1.1M402 688.5h1.1M403 628.5h1.1M403 636.5h1.1M403 638.5h1.1M403 641.5h1.1M403 643.5h1.1M403 645.5h1.1M403 646.5h1.1M403 649.5h1.1M403 650.5h1.1M403 651.5h1.1M403 652.5h1.1M403 653.5h1.1M403 654.5h1.1M403 655.5h1.1M403 656.5h1.1M403 658.5h1.1M403 659.5h1.1M403 660.5h1.1M403 661.5h1.1M403 662.5h1.1M403 663.5h1.1M403 664.5h1.1M403 665.5h1.1M403 666.5h1.1M403 667.5h1.1M403 668.5h1.1M403 669.5h1.1M403 670.5h1.1M403 671.5h1.1M403 672.5h1.1M403 673.5h1.1M403 674.5h1.1M403 675.5h1.1M403 676.5h1.1M403 678.5h1.1M403 679.5h1.1M403 688.5h1.1M404 627.5h1.1M404 628.5h1.1M404 632.5h1.1M404 634.5h1.1M404 635.5h1.1M404 636.5h1.1M404 637.5h1.1M404 640.5h1.1M404 642.5h1.1M404 643.5h1.1M404 644.5h1.1M404 645.5h1.1M404 646.5h1.1M404 647.5h1.1M404 648.5h1.1M404 649.5h1.1M404 650.5h1.1M404 651.5h1.1M404 652.5h1.1M404 653.5h1.1M404 654.5h1.1M404 655.5h1.1M404 656.5h1.1M404 657.5h1.1M404 658.5h1.1M404 659.5h1.1M404 661.5h1.1M404 662.5h1.1M404 663.5h1.1M404 664.5h1.1M404 665.5h1.1M404 666.5h1.1M404 667.5h1.1M404 668.5h1.1M404 669.5h1.1M404 670.5h1.1M404 671.5h1.1M404 672.5h1.1M404 673.5h1.1M404 674.5h1.1M404 675.5h1.1M404 677.5h1.1M404 681.5h1.1M405 632.5h1.1M405 636.5h1.1M405 638.5h1.1M405 639.5h1.1M405 641.5h1.1M405 642.5h1.1M405 644.5h1.1M405 645.5h1.1M405 646.5h1.1M405 647.5h1.1M405 648.5h1.1M405 650.5h1.1M405 651.5h1.1M405 652.5h1.1M405 653.5h1.1M405 654.5h1.1M405 655.5h1.1M405 656.5h1.1M405 657.5h1.1M405 659.5h1.1M405 660.5h1.1M405 661.5h1.1M405 662.5h1.1M405 663.5h1.1M405 664.5h1.1M405 665.5h1.1M405 666.5h1.1M405 667.5h1.1M405 668.5h1.1M405 669.5h1.1M405 670.5h1.1M405 671.5h1.1M405 673.5h1.1M405 674.5h1.1M405 675.5h1.1M405 679.5h1.1M405 681.5h1.1M405 682.5h1.1M406 633.5h1.1M406 637.5h1.1M406 641.5h1.1M406 643.5h1.1M406 644.5h1.1M406 645.5h1.1M406 646.5h1.1M406 647.5h1.1M406 648.5h1.1M406 649.5h1.1M406 650.5h1.1M406 651.5h1.1M406 652.5h1.1M406 654.5h1.1M406 655.5h1.1M406 656.5h1.1M406 657.5h1.1M406 658.5h1.1M406 659.5h1.1M406 660.5h1.1M406 661.5h1.1M406 662.5h1.1M406 663.5h1.1M406 664.5h1.1M406 665.5h1.1M406 666.5h1.1M406 667.5h1.1M406 668.5h1.1M406 669.5h1.1M406 670.5h1.1M406 671.5h1.1M406 672.5h1.1M406 673.5h1.1M406 674.5h1.1M406 675.5h1.1M406 676.5h1.1M406 678.5h1.1M406 683.5h1.1M406 684.5h1.1M406 686.5h1.1M407 635.5h1.1M407 637.5h1.1M407 638.5h1.1M407 640.5h1.1M407 642.5h1.1M407 643.5h1.1M407 644.5h1.1M407 645.5h1.1M407 647.5h1.1M407 648.5h1.1M407 649.5h1.1M407 650.5h1.1M407 651.5h1.1M407 652.5h1.1M407 653.5h1.1M407 654.5h1.1M407 655.5h1.1M407 656.5h1.1M407 657.5h1.1M407 658.5h1.1M407 659.5h1.1M407 660.5h1.1M407 661.5h1.1M407 662.5h1.1M407 663.5h1.1M407 664.5h1.1M407 665.5h1.1M407 666.5h1.1M407 667.5h1.1M407 668.5h1.1M407 669.5h1.1M407 671.5h1.1M407 672.5h1.1M407 673.5h1.1M407 674.5h1.1M407 675.5h1.1M407 676.5h1.1M407 678.5h1.1M407 679.5h1.1M408 630.5h1.1M408 633.5h1.1M408 636.5h1.1M408 640.5h1.1M408 641.5h1.1M408 642.5h1.1M408 644.5h1.1M408 645.5h1.1M408 646.5h1.1M408 647.5h1.1M408 648.5h1.1M408 649.5h1.1M408 650.5h1.1M408 651.5h1.1M408 653.5h1.1M408 654.5h1.1M408 655.5h1.1M408 656.5h1.1M408 657.5h1.1M408 658.5h1.1M408 659.5h1.1M408 660.5h1.1M408 661.5h1.1M408 662.5h1.1M408 663.5h1.1M408 664.5h1.1M408 665.5h1.1M408 666.5h1.1M408 667.5h1.1M408 668.5h1.1M408 669.5h1.1M408 671.5h1.1M408 673.5h1.1M408 675.5h1.1M408 679.5h1.1M408 681.5h1.1M408 682.5h1.1M408 691.5h1.1M408 694.5h1.1M409 629.5h1.1M409 634.5h1.1M409 637.5h1.1M409 640.5h1.1M409 643.5h1.1M409 644.5h1.1M409 645.5h1.1M409 646.5h1.1M409 647.5h1.1M409 648.5h1.1M409 649.5h1.1M409 650.5h1.1M409 651.5h1.1M409 652.5h1.1M409 653.5h1.1M409 654.5h1.1M409 655.5h1.1M409 656.5h1.1M409 658.5h1.1M409 659.5h1.1M409 660.5h1.1M409 661.5h1.1M409 662.5h1.1M409 663.5h1.1M409 664.5h1.1M409 665.5h1.1M409 666.5h1.1M409 667.5h1.1M409 668.5h1.1M409 669.5h1.1M409 670.5h1.1M409 672.5h1.1M409 674.5h1.1M409 675.5h1.1M409 676.5h1.1M409 677.5h1.1M410 629.5h1.1M410 630.5h1.1M410 631.5h1.1M410 632.5h1.1M410 633.5h1.1M410 638.5h1.1M410 639.5h1.1M410 640.5h1.1M410 641.5h1.1M410 642.5h1.1M410 643.5h1.1M410 644.5h1.1M410 645.5h1.1M410 646.5h1.1M410 647.5h1.1M410 649.5h1.1M410 650.5h1.1M410 651.5h1.1M410 652.5h1.1M410 653.5h1.1M410 654.5h1.1M410 655.5h1.1M410 656.5h1.1M410 657.5h1.1M410 658.5h1.1M410 659.5h1.1M410 660.5h1.1M410 661.5h1.1M410 662.5h1.1M410 663.5h1.1M410 664.5h1.1M410 665.5h1.1M410 666.5h1.1M410 667.5h1.1M410 669.5h1.1M410 670.5h1.1M410 671.5h1.1M410 672.5h1.1M410 674.5h1.1M410 679.5h1.1M410 680.5h1.1M411 638.5h1.1M411 640.5h1.1M411 641.5h1.1M411 643.5h1.1M411 644.5h1.1M411 645.5h1.1M411 647.5h1.1M411 648.5h1.1M411 649.5h1.1M411 651.5h1.1M411 652.5h1.1M411 653.5h1.1M411 654.5h1.1M411 655.5h1.1M411 656.5h1.1M411 657.5h1.1M411 658.5h1.1M411 659.5h1.1M411 660.5h1.1M411 661.5h1.1M411 662.5h1.1M411 663.5h1.1M411 664.5h1.1M411 665.5h1.1M411 666.5h1.1M411 667.5h1.1M411 668.5h1.1M411 669.5h1.1M411 671.5h1.1M411 672.5h1.1M411 673.5h1.1M411 675.5h1.1M411 679.5h1.1M412 631.5h1.1M412 637.5h1.1M412 639.5h1.1M412 640.5h1.1M412 641.5h1.1M412 642.5h1.1M412 644.5h1.1M412 645.5h1.1M412 646.5h1.1M412 647.5h1.1M412 649.5h1.1M412 650.5h1.1M412 651.5h1.1M412 652.5h1.1M412 653.5h1.1M412 655.5h1.1M412 656.5h1.1M412 657.5h1.1M412 658.5h1.1M412 659.5h1.1M412 660.5h1.1M412 661.5h1.1M412 662.5h1.1M412 663.5h1.1M412 664.5h1.1M412 665.5h1.1M412 666.5h1.1M412 667.5h1.1M412 668.5h1.1M412 669.5h1.1M412 671.5h1.1M412 672.5h1.1M412 674.5h1.1M412 686.5h1.1M413 633.5h1.1M413 636.5h1.1M413 639.5h1.1M413 641.5h1.1M413 644.5h1.1M413 645.5h1.1M413 646.5h1.1M413 647.5h1.1M413 648.5h1.1M413 649.5h1.1M413 650.5h1.1M413 651.5h1.1M413 652.5h1.1M413 653.5h1.1M413 654.5h1.1M413 655.5h1.1M413 656.5h1.1M413 657.5h1.1M413 658.5h1.1M413 659.5h1.1M413 660.5h1.1M413 661.5h1.1M413 662.5h1.1M413 663.5h1.1M413 664.5h1.1M413 665.5h1.1M413 666.5h1.1M413 667.5h1.1M413 668.5h1.1M413 672.5h1.1M413 673.5h1.1M414 630.5h1.1M414 632.5h1.1M414 636.5h1.1M414 637.5h1.1M414 638.5h1.1M414 639.5h1.1M414 640.5h1.1M414 641.5h1.1M414 642.5h1.1M414 643.5h1.1M414 645.5h1.1M414 646.5h1.1M414 647.5h1.1M414 648.5h1.1M414 649.5h1.1M414 650.5h1.1M414 651.5h1.1M414 652.5h1.1M414 653.5h1.1M414 654.5h1.1M414 655.5h1.1M414 656.5h1.1M414 657.5h1.1M414 658.5h1.1M414 659.5h1.1M414 660.5h1.1M414 661.5h1.1M414 662.5h1.1M414 663.5h1.1M414 664.5h1.1M414 665.5h1.1M414 668.5h1.1M414 669.5h1.1M414 671.5h1.1M414 687.5h1.1M415 628.5h1.1M415 631.5h1.1M415 636.5h1.1M415 639.5h1.1M415 640.5h1.1M415 641.5h1.1M415 642.5h1.1M415 643.5h1.1M415 645.5h1.1M415 646.5h1.1M415 647.5h1.1M415 648.5h1.1M415 650.5h1.1M415 651.5h1.1M415 652.5h1.1M415 653.5h1.1M415 654.5h1.1M415 655.5h1.1M415 656.5h1.1M415 657.5h1.1M415 658.5h1.1M415 659.5h1.1M415 660.5h1.1M415 661.5h1.1M415 662.5h1.1M415 663.5h1.1M415 664.5h1.1M415 666.5h1.1M415 669.5h1.1M415 670.5h1.1M415 671.5h1.1M415 672.5h1.1M415 674.5h1.1M416 629.5h1.1M416 635.5h1.1M416 636.5h1.1M416 638.5h1.1M416 639.5h1.1M416 640.5h1.1M416 641.5h1.1M416 642.5h1.1M416 644.5h1.1M416 645.5h1.1M416 646.5h1.1M416 647.5h1.1M416 648.5h1.1M416 649.5h1.1M416 650.5h1.1M416 651.5h1.1M416 652.5h1.1M416 653.5h1.1M416 654.5h1.1M416 655.5h1.1M416 656.5h1.1M416 657.5h1.1M416 658.5h1.1M416 659.5h1.1M416 661.5h1.1M416 662.5h1.1M416 663.5h1.1M416 664.5h1.1M416 666.5h1.1M416 668.5h1.1M416 673.5h1.1M417 627.5h1.1M417 629.5h1.1M417 630.5h1.1M417 632.5h1.1M417 633.5h1.1M417 636.5h1.1M417 638.5h1.1M417 639.5h1.1M417 640.5h1.1M417 641.5h1.1M417 642.5h1.1M417 643.5h1.1M417 645.5h1.1M417 646.5h1.1M417 647.5h1.1M417 648.5h1.1M417 649.5h1.1M417 650.5h1.1M417 651.5h1.1M417 652.5h1.1M417 653.5h1.1M417 654.5h1.1M417 655.5h1.1M417 656.5h1.1M417 657.5h1.1M417 658.5h1.1M417 659.5h1.1M417 660.5h1.1M417 661.5h1.1M417 662.5h1.1M417 663.5h1.1M417 664.5h1.1M417 665.5h1.1M417 666.5h1.1M417 667.5h1.1M417 668.5h1.1M417 681.5h1.1M418 627.5h1.1M418 632.5h1.1M418 633.5h1.1M418 634.5h1.1M418 635.5h1.1M418 636.5h1.1M418 638.5h1.1M418 639.5h1.1M418 641.5h1.1M418 642.5h1.1M418 643.5h1.1M418 645.5h1.1M418 646.5h1.1M418 647.5h1.1M418 648.5h1.1M418 649.5h1.1M418 650.5h1.1M418 651.5h1.1M418 652.5h1.1M418 653.5h1.1M418 654.5h1.1M418 655.5h1.1M418 656.5h1.1M418 657.5h1.1M418 658.5h1.1M418 659.5h1.1M418 660.5h1.1M418 662.5h1.1M418 663.5h1.1M418 665.5h1.1M418 666.5h1.1M418 667.5h1.1M418 674.5h1.1M419 632.5h1.1M419 634.5h1.1M419 636.5h1.1M419 637.5h1.1M419 638.5h1.1M419 640.5h1.1M419 642.5h1.1M419 643.5h1.1M419 644.5h1.1M419 645.5h1.1M419 646.5h1.1M419 647.5h1.1M419 648.5h1.1M419 649.5h1.1M419 650.5h1.1M419 651.5h1.1M419 652.5h1.1M419 653.5h1.1M419 654.5h1.1M419 655.5h1.1M419 656.5h1.1M419 657.5h1.1M419 658.5h1.1M419 659.5h1.1M419 660.5h1.1M419 663.5h1.1M419 664.5h1.1M419 669.5h1.1M419 670.5h1.1M419 674.5h1.1M420 629.5h1.1M420 630.5h1.1M420 632.5h1.1M420 633.5h1.1M420 634.5h1.1M420 636.5h1.1M420 638.5h1.1M420 639.5h1.1M420 640.5h1.1M420 641.5h1.1M420 643.5h1.1M420 644.5h1.1M420 645.5h1.1M420 646.5h1.1M420 647.5h1.1M420 648.5h1.1M420 650.5h1.1M420 651.5h1.1M420 652.5h1.1M420 653.5h1.1M420 654.5h1.1M420 655.5h1.1M420 656.5h1.1M420 658.5h1.1M420 659.5h1.1M420 662.5h1.1M420 664.5h1.1M420 665.5h1.1M420 666.5h1.1M420 672.5h1.1M420 677.5h1.1M421 631.5h1.1M421 633.5h1.1M421 634.5h1.1M421 635.5h1.1M421 636.5h1.1M421 637.5h1.1M421 638.5h1.1M421 640.5h1.1M421 641.5h1.1M421 643.5h1.1M421 644.5h1.1M421 645.5h1.1M421 646.5h1.1M421 647.5h1.1M421 648.5h1.1M421 649.5h1.1M421 650.5h1.1M421 651.5h1.1M421 652.5h1.1M421 653.5h1.1M421 654.5h1.1M421 655.5h1.1M421 656.5h1.1M421 657.5h1.1M421 658.5h1.1M421 659.5h1.1M421 662.5h1.1M421 663.5h1.1M421 670.5h1.1M422 634.5h1.1M422 639.5h1.1M422 640.5h1.1M422 643.5h1.1M422 645.5h1.1M422 646.5h1.1M422 648.5h1.1M422 650.5h1.1M422 651.5h1.1M422 652.5h1.1M422 653.5h1.1M422 654.5h1.1M422 655.5h1.1M422 656.5h1.1M422 657.5h1.1M422 658.5h1.1M422 660.5h1.1M422 661.5h1.1M422 662.5h1.1M422 671.5h1.1M423 628.5h1.1M423 632.5h1.1M423 637.5h1.1M423 638.5h1.1M423 639.5h1.1M423 642.5h1.1M423 644.5h1.1M423 645.5h1.1M423 646.5h1.1M423 647.5h1.1M423 648.5h1.1M423 649.5h1.1M423 650.5h1.1M423 651.5h1.1M423 652.5h1.1M423 653.5h1.1M423 654.5h1.1M423 655.5h1.1M423 656.5h1.1M423 657.5h1.1M423 658.5h1.1M423 664.5h1.1M423 671.5h1.1M424 629.5h1.1M424 630.5h1.1M424 632.5h1.1M424 636.5h1.1M424 637.5h1.1M424 638.5h1.1M424 639.5h1.1M424 642.5h1.1M424 643.5h1.1M424 644.5h1.1M424 645.5h1.1M424 646.5h1.1M424 647.5h1.1M424 648.5h1.1M424 650.5h1.1M424 651.5h1.1M424 652.5h1.1M424 653.5h1.1M424 654.5h1.1M424 655.5h1.1M424 656.5h1.1M424 657.5h1.1M424 658.5h1.1M424 660.5h1.1M424 661.5h1.1M424 662.5h1.1M424 664.5h1.1M424 667.5h1.1M425 629.5h1.1M425 637.5h1.1M425 639.5h1.1M425 640.5h1.1M425 641.5h1.1M425 642.5h1.1M425 643.5h1.1M425 644.5h1.1M425 645.5h1.1M425 646.5h1.1M425 647.5h1.1M425 648.5h1.1M425 649.5h1.1M425 650.5h1.1M425 651.5h1.1M425 652.5h1.1M425 653.5h1.1M425 654.5h1.1M425 655.5h1.1M425 658.5h1.1M425 659.5h1.1M425 660.5h1.1M426 634.5h1.1M426 635.5h1.1M426 636.5h1.1M426 639.5h1.1M426 642.5h1.1M426 643.5h1.1M426 644.5h1.1M426 645.5h1.1M426 646.5h1.1M426 647.5h1.1M426 648.5h1.1M426 649.5h1.1M426 650.5h1.1M426 651.5h1.1M426 652.5h1.1M426 653.5h1.1M426 654.5h1.1M426 661.5h1.1M427 632.5h1.1M427 634.5h1.1M427 637.5h1.1M427 639.5h1.1M427 640.5h1.1M427 641.5h1.1M427 642.5h1.1M427 643.5h1.1M427 644.5h1.1M427 645.5h1.1M427 646.5h1.1M427 647.5h1.1M427 648.5h1.1M427 650.5h1.1M427 651.5h1.1M427 652.5h1.1M427 653.5h1.1M427 655.5h1.1M427 656.5h1.1M428 628.5h1.1M428 633.5h1.1M428 634.5h1.1M428 636.5h1.1M428 637.5h1.1M428 639.5h1.1M428 640.5h1.1M428 641.5h1.1M428 643.5h1.1M428 644.5h1.1M428 645.5h1.1M428 648.5h1.1M428 649.5h1.1M428 650.5h1.1M428 653.5h1.1M428 655.5h1.1M428 657.5h1.1M428 660.5h1.1M429 627.5h1.1M429 632.5h1.1M429 634.5h1.1M429 635.5h1.1M429 636.5h1.1M429 639.5h1.1M429 640.5h1.1M429 641.5h1.1M429 642.5h1.1M429 643.5h1.1M429 644.5h1.1M429 646.5h1.1M429 647.5h1.1M429 651.5h1.1M429 652.5h1.1M429 660.5h1.1M429 663.5h1.1M430 629.5h1.1M430 631.5h1.1M430 634.5h1.1M430 637.5h1.1M430 638.5h1.1M430 639.5h1.1M430 640.5h1.1M430 642.5h1.1M430 643.5h1.1M430 645.5h1.1M430 646.5h1.1M430 647.5h1.1M430 652.5h1.1M430 654.5h1.1M430 658.5h1.1M431 628.5h1.1M431 632.5h1.1M431 638.5h1.1M431 639.5h1.1M431 641.5h1.1M431 642.5h1.1M431 644.5h1.1M431 645.5h1.1M431 648.5h1.1M431 657.5h1.1M432 629.5h1.1M432 632.5h1.1M432 636.5h1.1M432 638.5h1.1M432 639.5h1.1M432 643.5h1.1M432 645.5h1.1M432 651.5h1.1M432 656.5h1.1M433 633.5h1.1M433 634.5h1.1M433 635.5h1.1M433 636.5h1.1M433 637.5h1.1M433 640.5h1.1M433 643.5h1.1M433 644.5h1.1M433 645.5h1.1M433 647.5h1.1M433 657.5h1.1M434 627.5h1.1M434 633.5h1.1M434 634.5h1.1M434 636.5h1.1M434 640.5h1.1M434 642.5h1.1M434 645.5h1.1M434 647.5h1.1M435 634.5h1.1M435 635.5h1.1M435 637.5h1.1M435 639.5h1.1M435 640.5h1.1M435 654.5h1.1M436 633.5h1.1M436 634.5h1.1M436 636.5h1.1M436 641.5h1.1M436 646.5h1.1M436 647.5h1.1M436 648.5h1.1M436 650.5h1.1M437 628.5h1.1M437 631.5h1.1M437 633.5h1.1M437 636.5h1.1M437 640.5h1.1M437 642.5h1.1M437 650.5h1.1M437 651.5h1.1M438 632.5h1.1M438 634.5h1.1M438 641.5h1.1M438 645.5h1.1M439 628.5h1.1M439 637.5h1.1M439 641.5h1.1M439 642.5h1.1M439 644.5h1.1M439 652.5h1.1M440 632.5h1.1M440 638.5h1.1M440 645.5h1.1M441 640.5h1.1M441 643.5h1.1M441 648.5h1.1M442 627.5h1.1M442 628.5h1.1M442 631.5h1.1M442 643.5h1.1M443 632.5h1.1M444 627.5h1.1M444 628.5h1.1M445 637.5h1.1M445 639.5h1.1M446 641.5h1.1M447 640.5h1.1M448 630.5h1.1" stroke="#ff0000" stroke-width="1.1" fill="none" filter="url(#soft)"/><path d="M393 599.5h1.1M393 600.5h1.1M393 602.5h1.1M393 608.5h1.1M393 611.5h1.1M394 593.5h1.1M394 598.5h1.1M394 599.5h1.1M394 600.5h1.1M394 604.5h1.1M394 605.5h1.1M394 607.5h1.1M394 608.5h1.1M394 611.5h1.1M394 612.5h1.1M394 615.5h1.1M394 618.5h1.1M395 596.5h1.1M395 602.5h1.1M395 603.5h1.1M395 608.5h1.1M395 609.5h1.1M395 610.5h1.1M395 615.5h1.1M395 617.5h1.1M396 594.5h1.1M396 598.5h1.1M396 599.5h1.1M396 601.5h1.1M396 603.5h1.1M396 606.5h1.1M396 607.5h1.1M396 609.5h1.1M396 611.5h1.1M396 612.5h1.1M396 613.5h1.1M396 614.5h1.1M396 616.5h1.1M396 618.5h1.1M396 620.5h1.1M396 621.5h1.1M397 597.5h1.1M397 599.5h1.1M397 600.5h1.1M397 601.5h1.1M397 602.5h1.1M397 605.5h1.1M397 606.5h1.1M397 607.5h1.1M397 608.5h1.1M397 609.5h1.1M397 610.5h1.1M397 613.5h1.1M397 614.5h1.1M397 617.5h1.1M397 624.5h1.1M398 599.5h1.1M398 601.5h1.1M398 604.5h1.1M398 605.5h1.1M398 611.5h1.1M398 615.5h1.1M398 618.5h1.1M399 599.5h1.1M399 600.5h1.1M399 604.5h1.1M399 605.5h1.1M399 606.5h1.1M399 611.5h1.1M399 612.5h1.1M399 614.5h1.1M399 615.5h1.1M399 616.5h1.1M399 617.5h1.1M399 625.5h1.1M400 602.5h1.1M400 605.5h1.1M400 606.5h1.1M400 609.5h1.1M400 610.5h1.1M400 613.5h1.1M400 614.5h1.1M401 599.5h1.1M401 604.5h1.1M401 608.5h1.1M401 609.5h1.1M401 611.5h1.1M401 613.5h1.1M401 615.5h1.1M401 619.5h1.1M401 620.5h1.1M402 599.5h1.1M402 600.5h1.1M402 602.5h1.1M402 603.5h1.1M402 604.5h1.1M402 606.5h1.1M402 608.5h1.1M402 609.5h1.1M402 610.5h1.1M402 612.5h1.1M402 614.5h1.1M402 616.5h1.1M402 617.5h1.1M402 618.5h1.1M403 600.5h1.1M403 602.5h1.1M403 605.5h1.1M403 606.5h1.1M403 607.5h1.1M403 608.5h1.1M403 609.5h1.1M403 610.5h1.1M403 611.5h1.1M403 612.5h1.1M403 613.5h1.1M403 617.5h1.1M403 618.5h1.1M403 622.5h1.1M404 599.5h1.1M404 601.5h1.1M404 603.5h1.1M404 605.5h1.1M404 606.5h1.1M404 611.5h1.1M404 612.5h1.1M404 613.5h1.1M404 615.5h1.1M404 617.5h1.1M404 618.5h1.1M405 594.5h1.1M405 601.5h1.1M405 602.5h1.1M405 605.5h1.1M405 606.5h1.1M405 607.5h1.1M405 608.5h1.1M405 609.5h1.1M405 610.5h1.1M405 611.5h1.1M405 612.5h1.1M405 614.5h1.1M405 615.5h1.1M405 616.5h1.1M405 617.5h1.1M405 618.5h1.1M405 621.5h1.1M406 602.5h1.1M406 604.5h1.1M406 606.5h1.1M406 607.5h1.1M406 608.5h1.1M406 609.5h1.1M406 610.5h1.1M406 612.5h1.1M406 615.5h1.1M406 616.5h1.1M406 620.5h1.1M407 599.5h1.1M407 600.5h1.1M407 603.5h1.1M407 604.5h1.1M407 606.5h1.1M407 607.5h1.1M407 608.5h1.1M407 609.5h1.1M407 610.5h1.1M407 612.5h1.1M407 613.5h1.1M407 614.5h1.1M407 616.5h1.1M407 618.5h1.1M407 622.5h1.1M408 600.5h1.1M408 602.5h1.1M408 603.5h1.1M408 604.5h1.1M408 606.5h1.1M408 608.5h1.1M408 609.5h1.1M408 610.5h1.1M408 611.5h1.1M408 612.5h1.1M408 614.5h1.1M408 615.5h1.1M408 616.5h1.1M409 596.5h1.1M409 598.5h1.1M409 603.5h1.1M409 606.5h1.1M409 607.5h1.1M409 608.5h1.1M409 609.5h1.1M409 610.5h1.1M409 612.5h1.1M409 614.5h1.1M409 615.5h1.1M409 616.5h1.1M409 617.5h1.1M409 618.5h1.1M409 621.5h1.1M410 601.5h1.1M410 602.5h1.1M410 603.5h1.1M410 605.5h1.1M410 606.5h1.1M410 607.5h1.1M410 612.5h1.1M410 619.5h1.1M410 620.5h1.1M411 598.5h1.1M411 601.5h1.1M411 602.5h1.1M411 603.5h1.1M411 605.5h1.1M411 607.5h1.1M411 608.5h1.1M411 609.5h1.1M411 610.5h1.1M411 611.5h1.1M411 613.5h1.1M411 615.5h1.1M411 616.5h1.1M411 617.5h1.1M411 622.5h1.1M412 598.5h1.1M412 599.5h1.1M412 604.5h1.1M412 608.5h1.1M412 609.5h1.1M412 610.5h1.1M412 619.5h1.1M412 625.5h1.1M413 596.5h1.1M413 597.5h1.1M413 600.5h1.1M413 601.5h1.1M413 602.5h1.1M413 603.5h1.1M413 604.5h1.1M413 605.5h1.1M413 607.5h1.1M413 608.5h1.1M413 609.5h1.1M413 612.5h1.1M413 613.5h1.1M413 614.5h1.1M413 615.5h1.1M413 621.5h1.1M414 600.5h1.1M414 603.5h1.1M414 604.5h1.1M414 606.5h1.1M414 607.5h1.1M414 610.5h1.1M414 611.5h1.1M414 612.5h1.1M414 614.5h1.1M414 615.5h1.1M414 618.5h1.1M414 619.5h1.1M414 622.5h1.1M415 598.5h1.1M415 599.5h1.1M415 600.5h1.1M415 602.5h1.1M415 603.5h1.1M415 604.5h1.1M415 606.5h1.1M415 607.5h1.1M415 608.5h1.1M415 609.5h1.1M415 610.5h1.1M415 614.5h1.1M415 615.5h1.1M415 616.5h1.1M415 620.5h1.1M415 622.5h1.1M416 596.5h1.1M416 598.5h1.1M416 600.5h1.1M416 601.5h1.1M416 602.5h1.1M416 604.5h1.1M416 605.5h1.1M416 606.5h1.1M416 607.5h1.1M416 608.5h1.1M416 609.5h1.1M416 612.5h1.1M416 613.5h1.1M416 615.5h1.1M416 616.5h1.1M416 618.5h1.1M416 619.5h1.1M416 624.5h1.1M417 600.5h1.1M417 601.5h1.1M417 603.5h1.1M417 604.5h1.1M417 608.5h1.1M417 609.5h1.1M417 612.5h1.1M417 613.5h1.1M417 614.5h1.1M417 617.5h1.1M418 594.5h1.1M418 603.5h1.1M418 605.5h1.1M418 606.5h1.1M418 608.5h1.1M418 609.5h1.1M418 610.5h1.1M418 612.5h1.1M418 615.5h1.1M418 616.5h1.1M418 618.5h1.1M418 622.5h1.1M419 595.5h1.1M419 601.5h1.1M419 603.5h1.1M419 605.5h1.1M419 607.5h1.1M419 610.5h1.1M419 612.5h1.1M419 613.5h1.1M419 614.5h1.1M419 617.5h1.1M419 620.5h1.1M419 622.5h1.1M420 604.5h1.1M420 606.5h1.1M420 608.5h1.1M420 609.5h1.1M420 610.5h1.1M420 611.5h1.1M420 612.5h1.1M420 614.5h1.1M421 598.5h1.1M421 600.5h1.1M421 602.5h1.1M421 604.5h1.1M421 605.5h1.1M421 606.5h1.1M421 607.5h1.1M421 608.5h1.1M421 609.5h1.1M421 611.5h1.1M421 613.5h1.1M421 615.5h1.1M421 621.5h1.1M422 596.5h1.1M422 600.5h1.1M422 602.5h1.1M422 604.5h1.1M422 607.5h1.1M422 608.5h1.1M422 609.5h1.1M422 610.5h1.1M422 612.5h1.1M422 617.5h1.1M422 618.5h1.1M422 620.5h1.1M423 595.5h1.1M423 604.5h1.1M423 606.5h1.1M423 609.5h1.1M423 610.5h1.1M423 611.5h1.1M423 612.5h1.1M423 613.5h1.1M423 614.5h1.1M424 602.5h1.1M424 604.5h1.1M424 610.5h1.1M424 613.5h1.1M424 614.5h1.1M424 619.5h1.1M425 594.5h1.1M425 605.5h1.1M425 609.5h1.1M425 612.5h1.1M425 615.5h1.1M426 600.5h1.1M426 604.5h1.1M426 605.5h1.1M426 606.5h1.1M426 607.5h1.1M426 611.5h1.1M426 614.5h1.1M427 602.5h1.1M427 604.5h1.1M427 606.5h1.1M427 610.5h1.1M428 596.5h1.1M428 604.5h1.1M428 609.5h1.1M428 616.5h1.1M429 603.5h1.1M429 610.5h1.1M429 612.5h1.1M429 613.5h1.1M430 600.5h1.1M430 607.5h1.1M430 618.5h1.1M431 597.5h1.1M432 604.5h1.1M432 618.5h1.1M433 605.5h1.1M433 607.5h1.1M434 611.5h1.1M435 608.5h1.1M439 611.5h1.1M439 616.5h1.1M441 609.5h1.1" stroke="#22ee22" stroke-width="1.1" fill="none" filter="url(#soft)"/><rect x="392.3" y="590.7" width="62.0" height="35.9" fill="none" stroke="#222" stroke-width="1.4"/><text x="418.9" y="612.5" font-size="9.4" fill="#222">P2</text><rect x="418.80" y="588.70" width="0.90" height="1.80" fill="#333"/><rect x="445.50" y="589.30" width="4.20" height="1.60" fill="#111" rx="0.8"/><line x1="392.3" y1="590.6" x2="454.3" y2="590.6" stroke="#111" stroke-width="1.6"/><line x1="392.3" y1="590.3" x2="392.3" y2="699.3" stroke="#111" stroke-width="1.4"/><line x1="392.3" y1="699.3" x2="513.5" y2="699.3" stroke="#333" stroke-width="1.7"/><line x1="388.7" y1="601.5" x2="392.3" y2="601.5" stroke="#222" stroke-width="1.0"/><line x1="389.9" y1="593.2" x2="392.3" y2="593.2" stroke="#222" stroke-width="0.85"/><g transform="translate(388.0,603.0) rotate(-90)"><text x="0" y="0" font-size="6.4" text-anchor="middle" fill="#000" stroke="#000" stroke-width="0.15">10</text><text x="3.6" y="-3.4" font-size="5.0" fill="#000" stroke="#000" stroke-width="0.1">5</text></g><line x1="388.7" y1="628.3" x2="392.3" y2="628.3" stroke="#222" stroke-width="1.0"/><line x1="389.9" y1="620.0" x2="392.3" y2="620.0" stroke="#222" stroke-width="0.85"/><line x1="389.9" y1="615.2" x2="392.3" y2="615.2" stroke="#222" stroke-width="0.85"/><line x1="389.9" y1="611.7" x2="392.3" y2="611.7" stroke="#222" stroke-width="0.85"/><line x1="389.9" y1="609.1" x2="392.3" y2="609.1" stroke="#222" stroke-width="0.85"/><line x1="389.9" y1="606.9" x2="392.3" y2="606.9" stroke="#222" stroke-width="0.85"/><line x1="389.9" y1="605.1" x2="392.3" y2="605.1" stroke="#222" stroke-width="0.85"/><line x1="389.9" y1="603.5" x2="392.3" y2="603.5" stroke="#222" stroke-width="0.85"/><line x1="389.9" y1="602.1" x2="392.3" y2="602.1" stroke="#222" stroke-width="0.85"/><g transform="translate(388.0,629.8) rotate(-90)"><text x="0" y="0" font-size="6.4" text-anchor="middle" fill="#000" stroke="#000" stroke-width="0.15">10</text><text x="3.6" y="-3.4" font-size="5.0" fill="#000" stroke="#000" stroke-width="0.1">4</text></g><line x1="388.7" y1="655.8" x2="392.3" y2="655.8" stroke="#222" stroke-width="1.0"/><line x1="389.9" y1="647.5" x2="392.3" y2="647.5" stroke="#222" stroke-width="0.85"/><line x1="389.9" y1="642.7" x2="392.3" y2="642.7" stroke="#222" stroke-width="0.85"/><line x1="389.9" y1="639.2" x2="392.3" y2="639.2" stroke="#222" stroke-width="0.85"/><line x1="389.9" y1="636.6" x2="392.3" y2="636.6" stroke="#222" stroke-width="0.85"/><line x1="389.9" y1="634.4" x2="392.3" y2="634.4" stroke="#222" stroke-width="0.85"/><line x1="389.9" y1="632.6" x2="392.3" y2="632.6" stroke="#222" stroke-width="0.85"/><line x1="389.9" y1="631.0" x2="392.3" y2="631.0" stroke="#222" stroke-width="0.85"/><line x1="389.9" y1="629.6" x2="392.3" y2="629.6" stroke="#222" stroke-width="0.85"/><g transform="translate(388.0,657.3) rotate(-90)"><text x="0" y="0" font-size="6.4" text-anchor="middle" fill="#000" stroke="#000" stroke-width="0.15">10</text><text x="3.6" y="-3.4" font-size="5.0" fill="#000" stroke="#000" stroke-width="0.1">3</text></g><line x1="388.7" y1="683.3" x2="392.3" y2="683.3" stroke="#222" stroke-width="1.0"/><line x1="389.9" y1="675.0" x2="392.3" y2="675.0" stroke="#222" stroke-width="0.85"/><line x1="389.9" y1="670.2" x2="392.3" y2="670.2" stroke="#222" stroke-width="0.85"/><line x1="389.9" y1="666.7" x2="392.3" y2="666.7" stroke="#222" stroke-width="0.85"/><line x1="389.9" y1="664.1" x2="392.3" y2="664.1" stroke="#222" stroke-width="0.85"/><line x1="389.9" y1="661.9" x2="392.3" y2="661.9" stroke="#222" stroke-width="0.85"/><line x1="389.9" y1="660.1" x2="392.3" y2="660.1" stroke="#222" stroke-width="0.85"/><line x1="389.9" y1="658.5" x2="392.3" y2="658.5" stroke="#222" stroke-width="0.85"/><line x1="389.9" y1="657.1" x2="392.3" y2="657.1" stroke="#222" stroke-width="0.85"/><g transform="translate(388.0,684.8) rotate(-90)"><text x="0" y="0" font-size="6.4" text-anchor="middle" fill="#000" stroke="#000" stroke-width="0.15">10</text><text x="3.6" y="-3.4" font-size="5.0" fill="#000" stroke="#000" stroke-width="0.1">2</text></g><line x1="389.9" y1="697.7" x2="392.3" y2="697.7" stroke="#222" stroke-width="0.85"/><line x1="389.9" y1="694.2" x2="392.3" y2="694.2" stroke="#222" stroke-width="0.85"/><line x1="389.9" y1="691.6" x2="392.3" y2="691.6" stroke="#222" stroke-width="0.85"/><line x1="389.9" y1="689.4" x2="392.3" y2="689.4" stroke="#222" stroke-width="0.85"/><line x1="389.9" y1="687.6" x2="392.3" y2="687.6" stroke="#222" stroke-width="0.85"/><line x1="389.9" y1="686.0" x2="392.3" y2="686.0" stroke="#222" stroke-width="0.85"/><line x1="389.9" y1="684.6" x2="392.3" y2="684.6" stroke="#222" stroke-width="0.85"/><line x1="408.9" y1="699.3" x2="408.9" y2="704.1" stroke="#222" stroke-width="1.0"/><line x1="418.1" y1="699.3" x2="418.1" y2="702.9" stroke="#222" stroke-width="0.85"/><line x1="423.5" y1="699.3" x2="423.5" y2="702.9" stroke="#222" stroke-width="0.85"/><line x1="427.3" y1="699.3" x2="427.3" y2="702.9" stroke="#222" stroke-width="0.85"/><line x1="430.2" y1="699.3" x2="430.2" y2="702.9" stroke="#222" stroke-width="0.85"/><line x1="432.6" y1="699.3" x2="432.6" y2="702.9" stroke="#222" stroke-width="0.85"/><line x1="434.7" y1="699.3" x2="434.7" y2="702.9" stroke="#222" stroke-width="0.85"/><line x1="436.4" y1="699.3" x2="436.4" y2="702.9" stroke="#222" stroke-width="0.85"/><line x1="438.0" y1="699.3" x2="438.0" y2="702.9" stroke="#222" stroke-width="0.85"/><text x="405.3" y="713.5" font-size="6.4" fill="#000" stroke="#000" stroke-width="0.15">10</text><text x="411.9" y="709.1" font-size="5.0" fill="#000" stroke="#000" stroke-width="0.1">2</text><line x1="439.7" y1="699.3" x2="439.7" y2="704.1" stroke="#222" stroke-width="1.0"/><line x1="448.9" y1="699.3" x2="448.9" y2="702.9" stroke="#222" stroke-width="0.85"/><line x1="454.3" y1="699.3" x2="454.3" y2="702.9" stroke="#222" stroke-width="0.85"/><line x1="458.1" y1="699.3" x2="458.1" y2="702.9" stroke="#222" stroke-width="0.85"/><line x1="461.0" y1="699.3" x2="461.0" y2="702.9" stroke="#222" stroke-width="0.85"/><line x1="463.4" y1="699.3" x2="463.4" y2="702.9" stroke="#222" stroke-width="0.85"/><line x1="465.5" y1="699.3" x2="465.5" y2="702.9" stroke="#222" stroke-width="0.85"/><line x1="467.2" y1="699.3" x2="467.2" y2="702.9" stroke="#222" stroke-width="0.85"/><line x1="468.8" y1="699.3" x2="468.8" y2="702.9" stroke="#222" stroke-width="0.85"/><text x="436.1" y="713.5" font-size="6.4" fill="#000" stroke="#000" stroke-width="0.15">10</text><text x="442.7" y="709.1" font-size="5.0" fill="#000" stroke="#000" stroke-width="0.1">3</text><line x1="469.5" y1="699.3" x2="469.5" y2="704.1" stroke="#222" stroke-width="1.0"/><line x1="478.7" y1="699.3" x2="478.7" y2="702.9" stroke="#222" stroke-width="0.85"/><line x1="484.1" y1="699.3" x2="484.1" y2="702.9" stroke="#222" stroke-width="0.85"/><line x1="487.9" y1="699.3" x2="487.9" y2="702.9" stroke="#222" stroke-width="0.85"/><line x1="490.8" y1="699.3" x2="490.8" y2="702.9" stroke="#222" stroke-width="0.85"/><line x1="493.2" y1="699.3" x2="493.2" y2="702.9" stroke="#222" stroke-width="0.85"/><line x1="495.3" y1="699.3" x2="495.3" y2="702.9" stroke="#222" stroke-width="0.85"/><line x1="497.0" y1="699.3" x2="497.0" y2="702.9" stroke="#222" stroke-width="0.85"/><line x1="498.6" y1="699.3" x2="498.6" y2="702.9" stroke="#222" stroke-width="0.85"/><text x="465.9" y="713.5" font-size="6.4" fill="#000" stroke="#000" stroke-width="0.15">10</text><text x="472.5" y="709.1" font-size="5.0" fill="#000" stroke="#000" stroke-width="0.1">4</text><line x1="500.5" y1="699.3" x2="500.5" y2="704.1" stroke="#222" stroke-width="1.0"/><line x1="509.7" y1="699.3" x2="509.7" y2="702.9" stroke="#222" stroke-width="0.85"/><text x="496.9" y="713.5" font-size="6.4" fill="#000" stroke="#000" stroke-width="0.15">10</text><text x="503.5" y="709.1" font-size="5.0" fill="#000" stroke="#000" stroke-width="0.1">5</text><line x1="393.0" y1="699.3" x2="393.0" y2="702.9" stroke="#222" stroke-width="0.85"/><line x1="396.8" y1="699.3" x2="396.8" y2="702.9" stroke="#222" stroke-width="0.85"/><line x1="399.7" y1="699.3" x2="399.7" y2="702.9" stroke="#222" stroke-width="0.85"/><line x1="402.1" y1="699.3" x2="402.1" y2="702.9" stroke="#222" stroke-width="0.85"/><line x1="404.2" y1="699.3" x2="404.2" y2="702.9" stroke="#222" stroke-width="0.85"/><line x1="405.9" y1="699.3" x2="405.9" y2="702.9" stroke="#222" stroke-width="0.85"/><line x1="407.5" y1="699.3" x2="407.5" y2="702.9" stroke="#222" stroke-width="0.85"/><text x="477.2" y="612.6" font-size="11.0" font-weight="bold">8.7%</text><text x="454.5" y="724.6" font-size="9.6" text-anchor="middle" fill="#111">ox-LDL+CQ</text><line x1="34.0" y1="591.5" x2="34.0" y2="699.0" stroke="#555" stroke-width="1.4"/><path d="M30.6 594.2 L34.0 589.2 L37.4 594.2" fill="none" stroke="#555" stroke-width="1.2"/><line x1="33.5" y1="736.9" x2="532.0" y2="736.9" stroke="#555" stroke-width="1.4"/><path d="M527.5 733.6 L532.8 736.9 L527.5 740.2" fill="none" stroke="#555" stroke-width="1.2"/><text transform="translate(28.5,636.3) rotate(-90)" font-size="11.0" font-weight="bold" text-anchor="middle">PI</text><text x="275.0" y="752.6" font-size="10.8" font-weight="bold" text-anchor="middle">Hoechst 33342</text>
</g>
</svg>
</body></html>
